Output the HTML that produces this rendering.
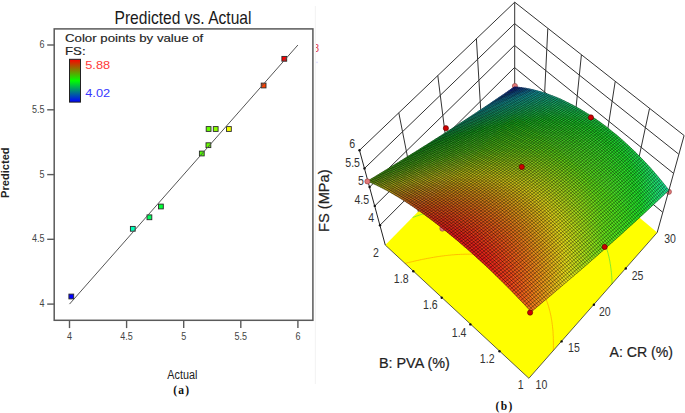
<!DOCTYPE html>
<html><head><meta charset="utf-8"><style>html,body{margin:0;padding:0;background:#fff;width:685px;height:413px;overflow:hidden;position:relative}</style></head>
<body>
<svg width="685" height="413" viewBox="0 0 685 413" style="position:absolute;left:0;top:0">
<text x="183" y="24" font-family="'Liberation Sans', sans-serif" font-size="18.5" text-anchor="middle" fill="#1a1a1a" textLength="137" lengthAdjust="spacingAndGlyphs">Predicted vs. Actual</text>
<rect x="54.2" y="28.9" width="258.7" height="291.4" fill="none" stroke="#5a5a5a" stroke-width="1.5"/>
<line x1="47.2" y1="304.1" x2="54.2" y2="304.1" stroke="#5a5a5a" stroke-width="1.4"/>
<text x="44.6" y="307.0" font-family="'Liberation Sans', sans-serif" font-size="10" text-anchor="end" fill="#444" textLength="5.0" lengthAdjust="spacingAndGlyphs">4</text>
<line x1="69.5" y1="320.2" x2="69.5" y2="328.1" stroke="#5a5a5a" stroke-width="1.4"/>
<text x="69.5" y="340" font-family="'Liberation Sans', sans-serif" font-size="10" text-anchor="middle" fill="#444" textLength="5.0" lengthAdjust="spacingAndGlyphs">4</text>
<line x1="47.2" y1="239.3" x2="54.2" y2="239.3" stroke="#5a5a5a" stroke-width="1.4"/>
<text x="44.6" y="242.2" font-family="'Liberation Sans', sans-serif" font-size="10" text-anchor="end" fill="#444" textLength="12.5" lengthAdjust="spacingAndGlyphs">4.5</text>
<line x1="126.6" y1="320.2" x2="126.6" y2="328.1" stroke="#5a5a5a" stroke-width="1.4"/>
<text x="126.6" y="340" font-family="'Liberation Sans', sans-serif" font-size="10" text-anchor="middle" fill="#444" textLength="12.5" lengthAdjust="spacingAndGlyphs">4.5</text>
<line x1="47.2" y1="174.6" x2="54.2" y2="174.6" stroke="#5a5a5a" stroke-width="1.4"/>
<text x="44.6" y="177.5" font-family="'Liberation Sans', sans-serif" font-size="10" text-anchor="end" fill="#444" textLength="5.0" lengthAdjust="spacingAndGlyphs">5</text>
<line x1="183.7" y1="320.2" x2="183.7" y2="328.1" stroke="#5a5a5a" stroke-width="1.4"/>
<text x="183.7" y="340" font-family="'Liberation Sans', sans-serif" font-size="10" text-anchor="middle" fill="#444" textLength="5.0" lengthAdjust="spacingAndGlyphs">5</text>
<line x1="47.2" y1="109.8" x2="54.2" y2="109.8" stroke="#5a5a5a" stroke-width="1.4"/>
<text x="44.6" y="112.7" font-family="'Liberation Sans', sans-serif" font-size="10" text-anchor="end" fill="#444" textLength="12.5" lengthAdjust="spacingAndGlyphs">5.5</text>
<line x1="240.8" y1="320.2" x2="240.8" y2="328.1" stroke="#5a5a5a" stroke-width="1.4"/>
<text x="240.8" y="340" font-family="'Liberation Sans', sans-serif" font-size="10" text-anchor="middle" fill="#444" textLength="12.5" lengthAdjust="spacingAndGlyphs">5.5</text>
<line x1="47.2" y1="45.0" x2="54.2" y2="45.0" stroke="#5a5a5a" stroke-width="1.4"/>
<text x="44.6" y="47.9" font-family="'Liberation Sans', sans-serif" font-size="10" text-anchor="end" fill="#444" textLength="5.0" lengthAdjust="spacingAndGlyphs">6</text>
<line x1="297.9" y1="320.2" x2="297.9" y2="328.1" stroke="#5a5a5a" stroke-width="1.4"/>
<text x="297.9" y="340" font-family="'Liberation Sans', sans-serif" font-size="10" text-anchor="middle" fill="#444" textLength="5.0" lengthAdjust="spacingAndGlyphs">6</text>
<text x="65" y="42.2" font-family="'Liberation Sans', sans-serif" font-size="11.3" fill="#222" stroke="#222" stroke-width="0.15" textLength="138.2" lengthAdjust="spacingAndGlyphs">Color points by value of</text>
<text x="65" y="55.4" font-family="'Liberation Sans', sans-serif" font-size="11.3" fill="#222" stroke="#222" stroke-width="0.15" textLength="20.6" lengthAdjust="spacingAndGlyphs">FS:</text>
<defs><linearGradient id="lg" x1="0" y1="0" x2="0" y2="1"><stop offset="0" stop-color="#ff0000"/><stop offset="0.5" stop-color="#00ff00"/><stop offset="1" stop-color="#0000ff"/></linearGradient></defs>
<rect x="69.5" y="59.3" width="11" height="42.8" fill="url(#lg)" stroke="#222" stroke-width="1"/>
<text x="85.2" y="69.2" font-family="'Liberation Sans', sans-serif" font-size="11" fill="#ff3838" textLength="25.0" lengthAdjust="spacingAndGlyphs">5.88</text>
<text x="85.2" y="96.7" font-family="'Liberation Sans', sans-serif" font-size="11" fill="#3838ff" textLength="25.0" lengthAdjust="spacingAndGlyphs">4.02</text>
<rect x="68.9" y="294.1" width="4.8" height="4.8" fill="#0000ff" stroke="#2a2a2a" stroke-width="0.9"/>
<rect x="130.4" y="226.4" width="4.8" height="4.8" fill="#00ffb8" stroke="#2a2a2a" stroke-width="0.9"/>
<rect x="147.0" y="214.9" width="4.8" height="4.8" fill="#00ff5e" stroke="#2a2a2a" stroke-width="0.9"/>
<rect x="158.5" y="204.1" width="4.8" height="4.8" fill="#00ff35" stroke="#2a2a2a" stroke-width="0.9"/>
<rect x="199.4" y="151.1" width="4.8" height="4.8" fill="#4fff00" stroke="#2a2a2a" stroke-width="0.9"/>
<rect x="206.0" y="142.8" width="4.8" height="4.8" fill="#68ff00" stroke="#2a2a2a" stroke-width="0.9"/>
<rect x="206.2" y="126.6" width="4.8" height="4.8" fill="#68ff00" stroke="#2a2a2a" stroke-width="0.9"/>
<rect x="213.3" y="126.6" width="4.8" height="4.8" fill="#8cff00" stroke="#2a2a2a" stroke-width="0.9"/>
<rect x="226.5" y="126.6" width="4.8" height="4.8" fill="#efff00" stroke="#2a2a2a" stroke-width="0.9"/>
<rect x="261.2" y="83.1" width="4.8" height="4.8" fill="#ff4100" stroke="#2a2a2a" stroke-width="0.9"/>
<rect x="281.9" y="56.4" width="4.8" height="4.8" fill="#ff0000" stroke="#2a2a2a" stroke-width="0.9"/>
<line x1="69.5" y1="304.1" x2="297.9" y2="45.0" stroke="#555" stroke-width="1"/>
<text transform="translate(9.3,172.7) rotate(-90)" font-family="'Liberation Sans', sans-serif" font-size="10.5" font-weight="bold" text-anchor="middle" fill="#222" textLength="50.6" lengthAdjust="spacingAndGlyphs">Predicted</text>
<text x="182.3" y="379.4" font-family="'Liberation Sans', sans-serif" font-size="12" text-anchor="middle" fill="#222" textLength="30" lengthAdjust="spacingAndGlyphs">Actual</text>
<text x="181.2" y="394" font-family="'Liberation Serif', serif" font-size="11.5" font-weight="bold" text-anchor="middle" fill="#111" textLength="16" lengthAdjust="spacing">(a)</text>
<line x1="315.3" y1="6" x2="315.3" y2="384" stroke="#f2f2f2" stroke-width="1"/>
<clipPath id="cp8"><rect x="316" y="40" width="8" height="16"/></clipPath>
<text x="313.6" y="51.8" font-family="'Liberation Sans', sans-serif" font-size="10" fill="#e03040" clip-path="url(#cp8)">8</text>
<circle cx="317" cy="62.4" r="0.8" fill="#d8d8ff"/>
<polygon points="528.9,378.3 385.3,245.1 514.7,113.3 657.2,232.5" fill="#ffff00"/>
<path d="M406.8 263L405.4 263.3M405.4 263.3L404.9 263.5M408.6 262.5L408.4 262.6M408.4 262.6L406.8 263M410.4 262.1L408.6 262.5M412.3 261.7L411.3 261.9M411.3 261.9L410.4 262.1M414.1 261.2L412.3 261.7M416 260.8L414.2 261.2M414.2 261.2L414.1 261.2M417.9 260.4L417 260.5M417 260.5L416 260.8M419.8 260L417.9 260.4M421.6 259.6L419.9 259.9M419.9 259.9L419.8 260M423.6 259.2L422.7 259.3M422.7 259.3L421.6 259.6M425.5 258.8L425.4 258.8M425.4 258.8L423.6 259.2M427.4 258.4L425.5 258.8M429.3 258.1L428.1 258.3M428.1 258.3L427.4 258.4M431.3 257.7L430.8 257.8M430.8 257.8L429.3 258.1M433.3 257.4L431.3 257.7M435.3 257L433.5 257.3M433.5 257.3L433.3 257.4M437.2 256.7L436.1 256.9M436.1 256.9L435.3 257M439.3 256.4L438.7 256.5M438.7 256.5L437.2 256.7M441.3 256.1L441.3 256.1M441.3 256.1L439.3 256.4M443.3 255.9L441.3 256.1M445.4 255.6L443.8 255.8M443.8 255.8L443.3 255.9M447.5 255.4L446.3 255.5M446.3 255.5L445.4 255.6M553.3 350.7L553.4 349.5M449.6 255.2L448.8 255.2M448.8 255.2L447.5 255.4M553.4 348.2L553.4 349.5M553.4 348.2L553.4 347.3M451.7 254.9L451.2 255M451.2 255L449.6 255.2M553.4 345.6L553.4 347.3M553.4 345.6L553.4 345.1M453.9 254.8L453.6 254.8M453.6 254.8L451.7 254.9M553.4 343.1L553.4 345.1M553.4 343.1L553.4 342.9M456 254.6L456 254.6M456 254.6L453.9 254.8M553.4 340.7L553.4 342.9M553.4 340.7L553.4 340.7M458.2 254.5L456 254.6M553.3 338.4L553.4 340.7M460.4 254.4L458.3 254.5M458.3 254.5L458.2 254.5M553.3 338.3L553.3 338.4M553.3 338.3L553.3 336.1M462.7 254.3L460.6 254.3M460.6 254.3L460.4 254.4M553.2 335.9L553.3 336.1M553.2 335.9L553.1 333.8M465 254.2L462.9 254.3M462.9 254.3L462.7 254.3M553.1 333.5L553.1 333.8M553.1 333.5L553 331.5M467.3 254.2L465.2 254.2M465.2 254.2L465 254.2M553 331.2L553 331.5M553 331.2L552.8 329.1M469.7 254.2L469.6 254.2M469.6 254.2L467.4 254.2M467.4 254.2L467.3 254.2M552.8 329L552.8 329.1M552.8 329L552.5 326.8M552.5 326.8L552.5 326.7M472.1 254.2L471.8 254.2M471.8 254.2L469.7 254.2M552.3 324.6L552.5 326.7M552.3 324.6L552.2 324.3M474.5 254.3L473.9 254.3M473.9 254.3L472.1 254.2M552 322.4L552.2 324.3M552 322.4L551.9 321.8M477 254.4L476 254.4M476 254.4L474.5 254.3M551.7 320.3L551.9 321.8M551.7 320.3L551.5 319.2M479.6 254.6L478.1 254.5M478.1 254.5L477 254.4M551.3 318.3L551.5 319.2M551.3 318.3L551 316.6M482.2 254.8L482.2 254.8M482.2 254.8L480.1 254.6M480.1 254.6L479.6 254.6M551 316.2L551 316.6M551 316.2L550.5 314.2M550.5 314.2L550.5 314M484.9 255.1L484.1 255M484.1 255L482.2 254.8M550.1 312.3L550.5 314M550.1 312.3L549.9 311.3M487.7 255.5L486.1 255.3M486.1 255.3L484.9 255.1M549.6 310.3L549.9 311.3M549.6 310.3L549.1 308.4M549.1 308.4L549.1 308.4M490.6 256L490 255.9M490 255.9L488 255.6M488 255.6L487.7 255.5M548.6 306.6L549.1 308.4M548.6 306.6L548.3 305.5M493.6 256.5L491.8 256.2M491.8 256.2L490.6 256M548 304.8L548.3 305.5M548 304.8L547.5 303M547.5 303L547.3 302.4M496.7 257.2L495.5 257M495.5 257L493.7 256.6M493.7 256.6L493.6 256.5M546.8 301.2L547.3 302.4M546.8 301.2L546.2 299.5M546.2 299.5L546.1 299.2M500.1 258.1L499.1 257.8M499.1 257.8L497.3 257.4M497.3 257.4L496.7 257.2M545.5 297.8L546.1 299.2M545.5 297.8L544.8 296.2M544.8 296.2L544.6 295.8M503.7 259.2L502.5 258.8M502.5 258.8L500.8 258.3M500.8 258.3L500.1 258.1M544.1 294.6L544.6 295.8M544.1 294.6L543.3 293M543.3 293L542.8 292M507.7 260.6L507.5 260.5M507.5 260.5L505.8 259.9M505.8 259.9L504.2 259.4M504.2 259.4L503.7 259.2M542.5 291.5L542.8 292M542.5 291.5L541.7 289.9M541.7 289.9L540.9 288.5M540.9 288.5L540.4 287.7M512.2 262.6L512.2 262.5M512.2 262.5L510.6 261.8M510.6 261.8L509.1 261.2M509.1 261.2L507.7 260.6M540 287L540.4 287.7M540 287L539.1 285.6M539.1 285.6L538.2 284.2M538.2 284.2L537.2 282.9M537.2 282.9L536.8 282.3M518 265.6L516.6 264.8M516.6 264.8L515.2 264M515.2 264L513.7 263.3M513.7 263.3L512.2 262.6M536.2 281.6L536.8 282.3M536.2 281.6L535.2 280.3M535.2 280.3L534.2 279M534.2 279L533.1 277.8M533.1 277.8L532 276.6M532 276.6L530.9 275.5M530.9 275.5L529.7 274.3M529.7 274.3L528.5 273.2M528.5 273.2L527.3 272.2M527.3 272.2L526.1 271.2M526.1 271.2L524.8 270.2M524.8 270.2L523.5 269.2M523.5 269.2L522.2 268.2M522.2 268.2L520.8 267.3M520.8 267.3L519.5 266.5M519.5 266.5L518.1 265.6M518.1 265.6L518 265.6" stroke="#ff9a00" stroke-width="0.8" fill="none" opacity="0.8"/>
<path d="M412.9 217.3L412.6 217.4M414.6 216.8L412.9 217.3M416.2 216.2L416 216.3M416 216.3L414.6 216.8M417.9 215.6L416.2 216.2M419.6 215L419.3 215.1M419.3 215.1L417.9 215.6M421.3 214.5L419.6 215M423 213.9L422.6 214M422.6 214L421.3 214.5M424.7 213.3L423 213.9M426.4 212.8L425.8 213M425.8 213L424.7 213.3M428.1 212.2L426.4 212.8M429.8 211.7L429 211.9M429 211.9L428.1 212.2M431.5 211.1L429.8 211.7M433.2 210.6L432.2 210.9M432.2 210.9L431.5 211.1M435 210.1L433.2 210.6M436.7 209.5L435.3 210M435.3 210L435 210.1M438.4 209L438.4 209M438.4 209L436.7 209.5M440.2 208.5L438.4 209M441.9 208L441.5 208.1M441.5 208.1L440.2 208.5M443.7 207.5L441.9 208M445.5 207L444.6 207.2M444.6 207.2L443.7 207.5M447.2 206.5L445.5 207M449 206L447.6 206.4M447.6 206.4L447.2 206.5M450.8 205.5L450.5 205.6M450.5 205.6L449 206M452.6 205L450.8 205.5M454.4 204.5L453.5 204.8M453.5 204.8L452.6 205M456.2 204.1L454.4 204.5M458 203.6L456.4 204M456.4 204L456.2 204.1M459.8 203.2L459.3 203.3M459.3 203.3L458 203.6M461.6 202.7L459.8 203.2M463.5 202.3L462.1 202.6M462.1 202.6L461.6 202.7M465.3 201.8L465 201.9M465 201.9L463.5 202.3M467.2 201.4L465.3 201.8M469 201L467.7 201.3M467.7 201.3L467.2 201.4M470.9 200.6L470.5 200.7M470.5 200.7L469 201M472.8 200.2L470.9 200.6M474.7 199.8L473.2 200.1M473.2 200.1L472.8 200.2M476.6 199.4L475.9 199.5M475.9 199.5L474.7 199.8M478.5 199L476.6 199.4M480.4 198.7L478.6 199M478.6 199L478.5 199M482.4 198.3L481.2 198.5M481.2 198.5L480.4 198.7M484.3 198L483.9 198M483.9 198L482.4 198.3M486.3 197.6L484.3 198M488.3 197.3L486.4 197.6M486.4 197.6L486.3 197.6M490.3 197L489 197.2M489 197.2L488.3 197.3M492.3 196.7L491.5 196.8M491.5 196.8L490.3 197M494.3 196.4L494 196.4M494 196.4L492.3 196.7M496.4 196.1L494.3 196.4M498.4 195.9L496.5 196.1M496.5 196.1L496.4 196.1M500.5 195.6L498.9 195.8M498.9 195.8L498.4 195.9M502.6 195.4L501.3 195.6M501.3 195.6L500.5 195.6M504.7 195.2L503.7 195.3M503.7 195.3L502.6 195.4M506.9 195L506.1 195.1M506.1 195.1L504.7 195.2M509 194.9L508.4 194.9M508.4 194.9L506.9 195M612.1 284.1L612 282.1M511.2 194.7L510.7 194.7M510.7 194.7L509 194.9M612 281.7L612 282.1M612 281.7L611.9 279.9M513.5 194.6L513 194.6M513 194.6L511.2 194.7M611.9 279.4L611.9 279.9M611.9 279.4L611.8 277.7M515.7 194.5L515.2 194.5M515.2 194.5L513.5 194.6M611.8 277.1L611.8 277.7M611.8 277.1L611.6 275.4M518 194.4L517.4 194.4M517.4 194.4L515.7 194.5M611.6 274.9L611.6 275.4M611.6 274.9L611.4 273.1M520.3 194.4L519.6 194.4M519.6 194.4L518 194.4M611.4 272.6L611.4 273.1M611.4 272.6L611.2 270.8M522.7 194.4L521.8 194.4M521.8 194.4L520.3 194.4M611.2 270.5L611.2 270.8M611.2 270.5L610.9 268.4M525 194.4L523.9 194.4M523.9 194.4L522.7 194.4M610.9 268.3L610.9 268.4M610.9 268.3L610.6 266.2M610.6 266.2L610.6 266M527.5 194.4L526 194.4M526 194.4L525 194.4M610.3 264.1L610.6 266M610.3 264.1L610.2 263.6M530 194.5L528.1 194.4M528.1 194.4L527.5 194.4M610 262.1L610.2 263.6M610 262.1L609.8 261.1M532.5 194.7L532.2 194.6M532.2 194.6L530.2 194.5M530.2 194.5L530 194.5M609.6 260.1L609.8 261.1M609.6 260.1L609.3 258.6M535.1 194.9L534.2 194.8M534.2 194.8L532.5 194.7M609.2 258.1L609.3 258.6M609.2 258.1L608.8 256.2M608.8 256.2L608.7 256M537.8 195.1L536.2 195M536.2 195L535.1 194.9M608.3 254.3L608.7 256M608.3 254.3L608.1 253.4M540.5 195.4L540.1 195.4M540.1 195.4L538.1 195.1M538.1 195.1L537.8 195.1M607.8 252.4L608.1 253.4M607.8 252.4L607.3 250.7M543.4 195.8L542 195.6M542 195.6L540.5 195.4M607.3 250.6L607.3 250.7M607.3 250.6L606.8 248.8M606.8 248.8L606.5 247.8M546.3 196.3L545.7 196.2M545.7 196.2L543.9 195.9M543.9 195.9L543.4 195.8M606.2 247L606.5 247.8M606.2 247L605.6 245.3M605.6 245.3L605.5 244.9M549.4 196.9L549.3 196.9M549.3 196.9L547.5 196.5M547.5 196.5L546.3 196.3M605 243.5L605.5 244.9M605 243.5L604.4 241.9M604.4 241.9L604.4 241.9M552.6 197.6L551.1 197.3M551.1 197.3L549.4 196.9M603.7 240.2L604.4 241.9M603.7 240.2L603 238.6M556.1 198.5L554.6 198.1M554.6 198.1L552.9 197.7M552.9 197.7L552.6 197.6M603 238.6L603 238.6M603 238.6L602.3 237M602.3 237L601.6 235.5M601.6 235.5L601.4 235.2M559.8 199.7L559.6 199.6M559.6 199.6L558 199.1M558 199.1L556.3 198.6M556.3 198.6L556.1 198.5M600.8 234L601.4 235.2M600.8 234L600 232.5M600 232.5L599.4 231.4M563.9 201.1L562.8 200.7M562.8 200.7L561.2 200.1M561.2 200.1L559.8 199.7M599.2 231L599.4 231.4M599.2 231L598.3 229.6M598.3 229.6L597.5 228.2M597.5 228.2L596.7 227M568.7 203.2L567.5 202.6M567.5 202.6L565.9 201.9M565.9 201.9L564.4 201.3M564.4 201.3L563.9 201.1M596.6 226.8L596.7 227M596.6 226.8L595.6 225.5M595.6 225.5L594.7 224.2M594.7 224.2L593.7 222.9M593.7 222.9L592.7 221.6M592.7 221.6L592.5 221.4M575 206.5L574.7 206.3M574.7 206.3L573.3 205.5M573.3 205.5L571.9 204.7M571.9 204.7L570.4 204M570.4 204L569 203.3M569 203.3L568.7 203.2M591.7 220.4L592.5 221.4M591.7 220.4L590.6 219.2M590.6 219.2L589.6 218M589.6 218L588.5 216.9M588.5 216.9L587.3 215.8M587.3 215.8L586.2 214.7M586.2 214.7L585 213.7M585 213.7L583.8 212.7M583.8 212.7L582.6 211.7M582.6 211.7L581.3 210.7M581.3 210.7L580.1 209.8M580.1 209.8L578.8 208.9M578.8 208.9L577.4 208M577.4 208L576.1 207.1M576.1 207.1L575 206.5" stroke="#40e040" stroke-width="0.8" fill="none" opacity="0.8"/>
<path d="M470.7 159.4L469.1 159.9M472.4 158.8L472.3 158.9M472.3 158.9L470.7 159.4M474.1 158.3L472.4 158.8M475.8 157.7L475.4 157.9M475.4 157.9L474.1 158.3M477.5 157.2L475.8 157.7M479.2 156.7L478.5 156.9M478.5 156.9L477.5 157.2M480.9 156.1L479.2 156.7M482.7 155.6L481.6 155.9M481.6 155.9L480.9 156.1M484.4 155.1L482.7 155.6M486.1 154.6L484.6 155M484.6 155L484.4 155.1M487.9 154.1L487.6 154.1M487.6 154.1L486.1 154.6M489.6 153.6L487.9 154.1M491.4 153.1L490.6 153.3M490.6 153.3L489.6 153.6M493.1 152.6L491.4 153.1M494.9 152.1L493.5 152.5M493.5 152.5L493.1 152.6M496.7 151.6L496.4 151.7M496.4 151.7L494.9 152.1M498.4 151.1L496.7 151.6M500.2 150.6L499.3 150.9M499.3 150.9L498.4 151.1M502 150.2L500.2 150.6M503.8 149.7L502.1 150.1M502.1 150.1L502 150.2M505.6 149.2L505 149.4M505 149.4L503.8 149.7M507.4 148.8L505.6 149.2M509.3 148.3L507.8 148.7M507.8 148.7L507.4 148.8M511.1 147.9L510.5 148M510.5 148L509.3 148.3M512.9 147.5L511.1 147.9M514.8 147L513.3 147.4M513.3 147.4L512.9 147.5M516.6 146.6L516 146.8M516 146.8L514.8 147M518.5 146.2L516.6 146.6M520.4 145.8L518.6 146.2M518.6 146.2L518.5 146.2M522.3 145.4L521.3 145.6M521.3 145.6L520.4 145.8M524.2 145L523.9 145.1M523.9 145.1L522.3 145.4M526.1 144.7L524.2 145M528 144.3L526.5 144.6M526.5 144.6L526.1 144.7M529.9 143.9L529.1 144.1M529.1 144.1L528 144.3M531.9 143.6L531.7 143.6M531.7 143.6L529.9 143.9M533.8 143.3L531.9 143.6M535.8 142.9L534.2 143.2M534.2 143.2L533.8 143.3M537.8 142.6L536.7 142.8M536.7 142.8L535.8 142.9M539.8 142.3L539.1 142.4M539.1 142.4L537.8 142.6M541.8 142L541.6 142.1M541.6 142.1L539.8 142.3M543.8 141.8L541.8 142M545.9 141.5L544 141.7M544 141.7L543.8 141.8M548 141.2L546.4 141.4M546.4 141.4L545.9 141.5" stroke="#00c0c0" stroke-width="0.8" fill="none" opacity="0.8"/>
<polyline points="380,225.2 514.6,90.1 662.6,212.2" stroke="#333" stroke-width="1" fill="none"/>
<polyline points="374.8,205.9 514.5,67.5 667.9,192.4" stroke="#333" stroke-width="1" fill="none"/>
<polyline points="369.6,187 514.5,45.4 673.2,173.1" stroke="#333" stroke-width="1" fill="none"/>
<polyline points="364.5,168.4 514.6,23.6 678.6,154.1" stroke="#333" stroke-width="1" fill="none"/>
<polyline points="359.5,150.3 514.7,2.2 684.1,135.5" stroke="#333" stroke-width="1" fill="none"/>
<line x1="418.3" y1="211.7" x2="398.8" y2="112.8" stroke="#333" stroke-width="1" fill="none"/>
<line x1="450.8" y1="178.6" x2="437.8" y2="75.6" stroke="#333" stroke-width="1" fill="none"/>
<line x1="482.9" y1="145.8" x2="476.4" y2="38.7" stroke="#333" stroke-width="1" fill="none"/>
<line x1="514.7" y1="113.3" x2="514.7" y2="2.2" stroke="#333" stroke-width="1" fill="none"/>
<line x1="628.1" y1="208.2" x2="649.5" y2="108.5" stroke="#333" stroke-width="1" fill="none"/>
<line x1="599.2" y1="184.1" x2="615.2" y2="81.6" stroke="#333" stroke-width="1" fill="none"/>
<line x1="570.7" y1="160.3" x2="581.4" y2="54.9" stroke="#333" stroke-width="1" fill="none"/>
<line x1="542.5" y1="136.7" x2="547.8" y2="28.5" stroke="#333" stroke-width="1" fill="none"/>
<circle cx="514.9" cy="86.0" r="2.6" fill="#e07878" stroke="#904040" stroke-width="0.6"/>
<circle cx="668.9" cy="191.8" r="2.6" fill="#e07878" stroke="#904040" stroke-width="0.6"/>
<circle cx="442.4" cy="228.6" r="2.6" fill="#e07878" stroke="#904040" stroke-width="0.6"/>
<polygon points="515,89.4 518.1,87.2 514.4,86.9 511.3,89" fill="#1426ab" stroke="#1426ab" stroke-width="0.5"/>
<polygon points="511.9,91.6 515,89.4 511.3,89 508.2,91.2" fill="#1433ab" stroke="#1433ab" stroke-width="0.5"/>
<polygon points="518.7,89.8 521.9,87.7 518.1,87.2 515,89.4" fill="#143dad" stroke="#143dad" stroke-width="0.5"/>
<polygon points="515.6,92.1 518.7,89.8 515,89.4 511.9,91.6" fill="#144bad" stroke="#144bad" stroke-width="0.5"/>
<polygon points="508.7,93.7 511.9,91.6 508.2,91.2 505,93.4" fill="#1440ab" stroke="#1440ab" stroke-width="0.5"/>
<polygon points="522.5,90.5 525.6,88.2 521.9,87.7 518.7,89.8" fill="#1454ae" stroke="#1454ae" stroke-width="0.5"/>
<polygon points="512.4,94.3 515.6,92.1 511.9,91.6 508.7,93.7" fill="#1458ad" stroke="#1458ad" stroke-width="0.5"/>
<polygon points="526.3,91.2 529.4,88.9 525.6,88.2 522.5,90.5" fill="#156bb0" stroke="#156bb0" stroke-width="0.5"/>
<polygon points="505.5,96 508.7,93.7 505,93.4 501.9,95.5" fill="#144eab" stroke="#144eab" stroke-width="0.5"/>
<polygon points="519.3,92.7 522.5,90.5 518.7,89.8 515.6,92.1" fill="#1462ae" stroke="#1462ae" stroke-width="0.5"/>
<polygon points="502.3,98.2 505.5,96 501.9,95.5 498.6,97.7" fill="#145bab" stroke="#145bab" stroke-width="0.5"/>
<polygon points="509.2,96.5 512.4,94.3 508.7,93.7 505.5,96" fill="#1466ad" stroke="#1466ad" stroke-width="0.5"/>
<polygon points="516.1,94.9 519.3,92.7 515.6,92.1 512.4,94.3" fill="#1470ae" stroke="#1470ae" stroke-width="0.5"/>
<polygon points="523.1,93.4 526.3,91.2 522.5,90.5 519.3,92.7" fill="#1579b0" stroke="#1579b0" stroke-width="0.5"/>
<polygon points="530.1,92.1 533.2,89.8 529.4,88.9 526.3,91.2" fill="#1581b2" stroke="#1581b2" stroke-width="0.5"/>
<polygon points="499,100.4 502.3,98.2 498.6,97.7 495.4,99.9" fill="#1468ab" stroke="#1468ab" stroke-width="0.5"/>
<polygon points="506,98.7 509.2,96.5 505.5,96 502.3,98.2" fill="#1473ad" stroke="#1473ad" stroke-width="0.5"/>
<polygon points="512.9,97.2 516.1,94.9 512.4,94.3 509.2,96.5" fill="#147daf" stroke="#147daf" stroke-width="0.5"/>
<polygon points="519.9,95.7 523.1,93.4 519.3,92.7 516.1,94.9" fill="#1587b0" stroke="#1587b0" stroke-width="0.5"/>
<polygon points="526.9,94.3 530.1,92.1 526.3,91.2 523.1,93.4" fill="#158fb2" stroke="#158fb2" stroke-width="0.5"/>
<polygon points="533.9,93 537.1,90.8 533.2,89.8 530.1,92.1" fill="#1597b4" stroke="#1597b4" stroke-width="0.5"/>
<polygon points="495.7,102.6 499,100.4 495.4,99.9 492.1,102.1" fill="#1475ab" stroke="#1475ab" stroke-width="0.5"/>
<polygon points="502.7,101 506,98.7 502.3,98.2 499,100.4" fill="#1480ad" stroke="#1480ad" stroke-width="0.5"/>
<polygon points="516.7,98 519.9,95.7 516.1,94.9 512.9,97.2" fill="#1594b0" stroke="#1594b0" stroke-width="0.5"/>
<polygon points="530.7,95.3 533.9,93 530.1,92.1 526.9,94.3" fill="#15a5b4" stroke="#15a5b4" stroke-width="0.5"/>
<polygon points="537.8,94.2 540.9,91.8 537.1,90.8 533.9,93" fill="#15acb6" stroke="#15acb6" stroke-width="0.5"/>
<polygon points="509.7,99.4 512.9,97.2 509.2,96.5 506,98.7" fill="#148baf" stroke="#148baf" stroke-width="0.5"/>
<polygon points="523.7,96.6 526.9,94.3 523.1,93.4 519.9,95.7" fill="#159db2" stroke="#159db2" stroke-width="0.5"/>
<polygon points="499.4,103.3 502.7,101 499,100.4 495.7,102.6" fill="#148dad" stroke="#148dad" stroke-width="0.5"/>
<polygon points="534.6,96.5 537.8,94.2 533.9,93 530.7,95.3" fill="#15aead" stroke="#15aead" stroke-width="0.5"/>
<polygon points="492.4,104.9 495.7,102.6 492.1,102.1 488.8,104.4" fill="#1482ab" stroke="#1482ab" stroke-width="0.5"/>
<polygon points="506.4,101.7 509.7,99.4 506,98.7 502.7,101" fill="#1498af" stroke="#1498af" stroke-width="0.5"/>
<polygon points="513.4,100.3 516.7,98 512.9,97.2 509.7,99.4" fill="#15a2b0" stroke="#15a2b0" stroke-width="0.5"/>
<polygon points="527.5,97.7 530.7,95.3 526.9,94.3 523.7,96.6" fill="#15acaf" stroke="#15acaf" stroke-width="0.5"/>
<polygon points="541.6,95.4 544.8,93.1 540.9,91.8 537.8,94.2" fill="#15afab" stroke="#15afab" stroke-width="0.5"/>
<polygon points="520.5,98.9 523.7,96.6 519.9,95.7 516.7,98" fill="#15aab2" stroke="#15aab2" stroke-width="0.5"/>
<polygon points="496.1,105.5 499.4,103.3 495.7,102.6 492.4,104.9" fill="#149aad" stroke="#149aad" stroke-width="0.5"/>
<polygon points="510.1,102.6 513.4,100.3 509.7,99.4 506.4,101.7" fill="#15a9ab" stroke="#15a9ab" stroke-width="0.5"/>
<polygon points="531.4,98.8 534.6,96.5 530.7,95.3 527.5,97.7" fill="#15ada2" stroke="#15ada2" stroke-width="0.5"/>
<polygon points="545.5,96.7 548.7,94.4 544.8,93.1 541.6,95.4" fill="#16b19f" stroke="#16b19f" stroke-width="0.5"/>
<polygon points="489.1,107.2 492.4,104.9 488.8,104.4 485.5,106.6" fill="#148fab" stroke="#148fab" stroke-width="0.5"/>
<polygon points="503.1,104 506.4,101.7 502.7,101 499.4,103.3" fill="#14a5af" stroke="#14a5af" stroke-width="0.5"/>
<polygon points="517.2,101.2 520.5,98.9 516.7,98 513.4,100.3" fill="#15aaa8" stroke="#15aaa8" stroke-width="0.5"/>
<polygon points="524.3,100 527.5,97.7 523.7,96.6 520.5,98.9" fill="#15aca5" stroke="#15aca5" stroke-width="0.5"/>
<polygon points="538.4,97.7 541.6,95.4 537.8,94.2 534.6,96.5" fill="#15afa0" stroke="#15afa0" stroke-width="0.5"/>
<polygon points="485.7,109.4 489.1,107.2 485.5,106.6 482.1,108.9" fill="#149cab" stroke="#149cab" stroke-width="0.5"/>
<polygon points="492.7,107.8 496.1,105.5 492.4,104.9 489.1,107.2" fill="#14a5ab" stroke="#14a5ab" stroke-width="0.5"/>
<polygon points="499.7,106.3 503.1,104 499.4,103.3 496.1,105.5" fill="#14a7a6" stroke="#14a7a6" stroke-width="0.5"/>
<polygon points="506.8,104.9 510.1,102.6 506.4,101.7 503.1,104" fill="#15a8a1" stroke="#15a8a1" stroke-width="0.5"/>
<polygon points="513.9,103.6 517.2,101.2 513.4,100.3 510.1,102.6" fill="#15aa9d" stroke="#15aa9d" stroke-width="0.5"/>
<polygon points="521,102.3 524.3,100 520.5,98.9 517.2,101.2" fill="#15ab9a" stroke="#15ab9a" stroke-width="0.5"/>
<polygon points="528.1,101.2 531.4,98.8 527.5,97.7 524.3,100" fill="#15ad98" stroke="#15ad98" stroke-width="0.5"/>
<polygon points="535.2,100.1 538.4,97.7 534.6,96.5 531.4,98.8" fill="#15af96" stroke="#15af96" stroke-width="0.5"/>
<polygon points="542.3,99.1 545.5,96.7 541.6,95.4 538.4,97.7" fill="#16b195" stroke="#16b195" stroke-width="0.5"/>
<polygon points="549.4,98.2 552.6,95.9 548.7,94.4 545.5,96.7" fill="#16b294" stroke="#16b294" stroke-width="0.5"/>
<polygon points="482.3,111.7 485.7,109.4 482.1,108.9 478.7,111.1" fill="#14a3a7" stroke="#14a3a7" stroke-width="0.5"/>
<polygon points="489.3,110.1 492.7,107.8 489.1,107.2 485.7,109.4" fill="#14a5a1" stroke="#14a5a1" stroke-width="0.5"/>
<polygon points="496.4,108.6 499.7,106.3 496.1,105.5 492.7,107.8" fill="#14a69c" stroke="#14a69c" stroke-width="0.5"/>
<polygon points="503.5,107.2 506.8,104.9 503.1,104 499.7,106.3" fill="#15a897" stroke="#15a897" stroke-width="0.5"/>
<polygon points="510.6,105.9 513.9,103.6 510.1,102.6 506.8,104.9" fill="#15aa93" stroke="#15aa93" stroke-width="0.5"/>
<polygon points="517.7,104.7 521,102.3 517.2,101.2 513.9,103.6" fill="#15ab90" stroke="#15ab90" stroke-width="0.5"/>
<polygon points="524.8,103.5 528.1,101.2 524.3,100 521,102.3" fill="#15ad8d" stroke="#15ad8d" stroke-width="0.5"/>
<polygon points="532,102.5 535.2,100.1 531.4,98.8 528.1,101.2" fill="#15af8b" stroke="#15af8b" stroke-width="0.5"/>
<polygon points="539.1,101.5 542.3,99.1 538.4,97.7 535.2,100.1" fill="#16b08a" stroke="#16b08a" stroke-width="0.5"/>
<polygon points="546.2,100.6 549.4,98.2 545.5,96.7 542.3,99.1" fill="#16b289" stroke="#16b289" stroke-width="0.5"/>
<polygon points="553.4,99.8 556.5,97.4 552.6,95.9 549.4,98.2" fill="#16b489" stroke="#16b489" stroke-width="0.5"/>
<polygon points="478.8,114 482.3,111.7 478.7,111.1 475.3,113.4" fill="#14a39d" stroke="#14a39d" stroke-width="0.5"/>
<polygon points="485.9,112.4 489.3,110.1 485.7,109.4 482.3,111.7" fill="#14a497" stroke="#14a497" stroke-width="0.5"/>
<polygon points="500.1,109.6 503.5,107.2 499.7,106.3 496.4,108.6" fill="#15a88d" stroke="#15a88d" stroke-width="0.5"/>
<polygon points="514.4,107 517.7,104.7 513.9,103.6 510.6,105.9" fill="#15ab86" stroke="#15ab86" stroke-width="0.5"/>
<polygon points="521.5,105.9 524.8,103.5 521,102.3 517.7,104.7" fill="#15ad83" stroke="#15ad83" stroke-width="0.5"/>
<polygon points="535.8,103.9 539.1,101.5 535.2,100.1 532,102.5" fill="#16b07f" stroke="#16b07f" stroke-width="0.5"/>
<polygon points="550.1,102.2 553.4,99.8 549.4,98.2 546.2,100.6" fill="#16b37e" stroke="#16b37e" stroke-width="0.5"/>
<polygon points="557.3,101.5 560.5,99.1 556.5,97.4 553.4,99.8" fill="#16b57f" stroke="#16b57f" stroke-width="0.5"/>
<polygon points="493,111 496.4,108.6 492.7,107.8 489.3,110.1" fill="#14a692" stroke="#14a692" stroke-width="0.5"/>
<polygon points="507.2,108.3 510.6,105.9 506.8,104.9 503.5,107.2" fill="#15a989" stroke="#15a989" stroke-width="0.5"/>
<polygon points="528.7,104.8 532,102.5 528.1,101.2 524.8,103.5" fill="#15ae81" stroke="#15ae81" stroke-width="0.5"/>
<polygon points="543,103 546.2,100.6 542.3,99.1 539.1,101.5" fill="#16b27e" stroke="#16b27e" stroke-width="0.5"/>
<polygon points="482.4,114.8 485.9,112.4 482.3,111.7 478.8,114" fill="#14a48e" stroke="#14a48e" stroke-width="0.5"/>
<polygon points="518.2,108.3 521.5,105.9 517.7,104.7 514.4,107" fill="#15ac78" stroke="#15ac78" stroke-width="0.5"/>
<polygon points="554.1,104 557.3,101.5 553.4,99.8 550.1,102.2" fill="#16b574" stroke="#16b574" stroke-width="0.5"/>
<polygon points="475.4,116.3 478.8,114 475.3,113.4 471.8,115.7" fill="#14a394" stroke="#14a394" stroke-width="0.5"/>
<polygon points="489.5,113.3 493,111 489.3,110.1 485.9,112.4" fill="#14a688" stroke="#14a688" stroke-width="0.5"/>
<polygon points="496.7,111.9 500.1,109.6 496.4,108.6 493,111" fill="#15a783" stroke="#15a783" stroke-width="0.5"/>
<polygon points="511,109.4 514.4,107 510.6,105.9 507.2,108.3" fill="#15ab7b" stroke="#15ab7b" stroke-width="0.5"/>
<polygon points="525.4,107.2 528.7,104.8 524.8,103.5 521.5,105.9" fill="#15ae76" stroke="#15ae76" stroke-width="0.5"/>
<polygon points="532.5,106.3 535.8,103.9 532,102.5 528.7,104.8" fill="#16b074" stroke="#16b074" stroke-width="0.5"/>
<polygon points="546.9,104.7 550.1,102.2 546.2,100.6 543,103" fill="#16b373" stroke="#16b373" stroke-width="0.5"/>
<polygon points="561.2,103.4 564.4,100.9 560.5,99.1 557.3,101.5" fill="#17b775" stroke="#17b775" stroke-width="0.5"/>
<polygon points="503.8,110.6 507.2,108.3 503.5,107.2 500.1,109.6" fill="#15a97f" stroke="#15a97f" stroke-width="0.5"/>
<polygon points="539.7,105.4 543,103 539.1,101.5 535.8,103.9" fill="#16b173" stroke="#16b173" stroke-width="0.5"/>
<polygon points="479,117.1 482.4,114.8 478.8,114 475.4,116.3" fill="#14a484" stroke="#14a484" stroke-width="0.5"/>
<polygon points="493.2,114.3 496.7,111.9 493,111 489.5,113.3" fill="#15a779" stroke="#15a779" stroke-width="0.5"/>
<polygon points="514.8,110.7 518.2,108.3 514.4,107 511,109.4" fill="#15ac6e" stroke="#15ac6e" stroke-width="0.5"/>
<polygon points="529.2,108.7 532.5,106.3 528.7,104.8 525.4,107.2" fill="#16af6a" stroke="#16af6a" stroke-width="0.5"/>
<polygon points="550.8,106.4 554.1,104 550.1,102.2 546.9,104.7" fill="#16b569" stroke="#16b569" stroke-width="0.5"/>
<polygon points="565.2,105.3 568.4,102.9 564.4,100.9 561.2,103.4" fill="#17b86c" stroke="#17b86c" stroke-width="0.5"/>
<polygon points="471.9,118.6 475.4,116.3 471.8,115.7 468.3,118" fill="#14a28a" stroke="#14a28a" stroke-width="0.5"/>
<polygon points="486.1,115.6 489.5,113.3 485.9,112.4 482.4,114.8" fill="#14a57e" stroke="#14a57e" stroke-width="0.5"/>
<polygon points="500.4,113 503.8,110.6 500.1,109.6 496.7,111.9" fill="#15a975" stroke="#15a975" stroke-width="0.5"/>
<polygon points="507.6,111.8 511,109.4 507.2,108.3 503.8,110.6" fill="#15aa71" stroke="#15aa71" stroke-width="0.5"/>
<polygon points="522,109.6 525.4,107.2 521.5,105.9 518.2,108.3" fill="#15ae6b" stroke="#15ae6b" stroke-width="0.5"/>
<polygon points="536.4,107.9 539.7,105.4 535.8,103.9 532.5,106.3" fill="#16b169" stroke="#16b169" stroke-width="0.5"/>
<polygon points="543.6,107.1 546.9,104.7 543,103 539.7,105.4" fill="#16b368" stroke="#16b368" stroke-width="0.5"/>
<polygon points="558,105.8 561.2,103.4 557.3,101.5 554.1,104" fill="#17b66a" stroke="#17b66a" stroke-width="0.5"/>
<polygon points="468.3,121 471.9,118.6 468.3,118 464.8,120.3" fill="#14a281" stroke="#14a281" stroke-width="0.5"/>
<polygon points="475.4,119.4 479,117.1 475.4,116.3 471.9,118.6" fill="#14a47a" stroke="#14a47a" stroke-width="0.5"/>
<polygon points="482.6,118 486.1,115.6 482.4,114.8 479,117.1" fill="#14a575" stroke="#14a575" stroke-width="0.5"/>
<polygon points="489.8,116.6 493.2,114.3 489.5,113.3 486.1,115.6" fill="#15a76f" stroke="#15a76f" stroke-width="0.5"/>
<polygon points="497,115.4 500.4,113 496.7,111.9 493.2,114.3" fill="#15a86b" stroke="#15a86b" stroke-width="0.5"/>
<polygon points="504.2,114.2 507.6,111.8 503.8,110.6 500.4,113" fill="#15aa67" stroke="#15aa67" stroke-width="0.5"/>
<polygon points="511.4,113.1 514.8,110.7 511,109.4 507.6,111.8" fill="#15ac64" stroke="#15ac64" stroke-width="0.5"/>
<polygon points="518.6,112.1 522,109.6 518.2,108.3 514.8,110.7" fill="#15ad61" stroke="#15ad61" stroke-width="0.5"/>
<polygon points="525.9,111.1 529.2,108.7 525.4,107.2 522,109.6" fill="#16af5f" stroke="#16af5f" stroke-width="0.5"/>
<polygon points="533.1,110.3 536.4,107.9 532.5,106.3 529.2,108.7" fill="#16b15e" stroke="#16b15e" stroke-width="0.5"/>
<polygon points="540.3,109.5 543.6,107.1 539.7,105.4 536.4,107.9" fill="#16b25d" stroke="#16b25d" stroke-width="0.5"/>
<polygon points="547.6,108.9 550.8,106.4 546.9,104.7 543.6,107.1" fill="#16b45e" stroke="#16b45e" stroke-width="0.5"/>
<polygon points="554.8,108.3 558,105.8 554.1,104 550.8,106.4" fill="#17b65f" stroke="#17b65f" stroke-width="0.5"/>
<polygon points="562,107.8 565.2,105.3 561.2,103.4 558,105.8" fill="#17b861" stroke="#17b861" stroke-width="0.5"/>
<polygon points="569.2,107.4 572.3,104.9 568.4,102.9 565.2,105.3" fill="#17ba64" stroke="#17ba64" stroke-width="0.5"/>
<polygon points="464.8,123.3 468.3,121 464.8,120.3 461.2,122.6" fill="#14a277" stroke="#14a277" stroke-width="0.5"/>
<polygon points="471.9,121.8 475.4,119.4 471.9,118.6 468.3,121" fill="#14a371" stroke="#14a371" stroke-width="0.5"/>
<polygon points="479.1,120.4 482.6,118 479,117.1 475.4,119.4" fill="#14a56b" stroke="#14a56b" stroke-width="0.5"/>
<polygon points="486.3,119 489.8,116.6 486.1,115.6 482.6,118" fill="#15a665" stroke="#15a665" stroke-width="0.5"/>
<polygon points="493.5,117.8 497,115.4 493.2,114.3 489.8,116.6" fill="#15a861" stroke="#15a861" stroke-width="0.5"/>
<polygon points="500.7,116.6 504.2,114.2 500.4,113 497,115.4" fill="#15aa5d" stroke="#15aa5d" stroke-width="0.5"/>
<polygon points="508,115.5 511.4,113.1 507.6,111.8 504.2,114.2" fill="#15ab59" stroke="#15ab59" stroke-width="0.5"/>
<polygon points="515.2,114.5 518.6,112.1 514.8,110.7 511.4,113.1" fill="#15ad56" stroke="#15ad56" stroke-width="0.5"/>
<polygon points="522.5,113.6 525.9,111.1 522,109.6 518.6,112.1" fill="#16af54" stroke="#16af54" stroke-width="0.5"/>
<polygon points="529.8,112.7 533.1,110.3 529.2,108.7 525.9,111.1" fill="#16b053" stroke="#16b053" stroke-width="0.5"/>
<polygon points="537,112 540.3,109.5 536.4,107.9 533.1,110.3" fill="#16b253" stroke="#16b253" stroke-width="0.5"/>
<polygon points="544.3,111.3 547.6,108.9 543.6,107.1 540.3,109.5" fill="#16b453" stroke="#16b453" stroke-width="0.5"/>
<polygon points="551.5,110.8 554.8,108.3 550.8,106.4 547.6,108.9" fill="#17b654" stroke="#17b654" stroke-width="0.5"/>
<polygon points="558.7,110.3 562,107.8 558,105.8 554.8,108.3" fill="#17b756" stroke="#17b756" stroke-width="0.5"/>
<polygon points="566,109.9 569.2,107.4 565.2,105.3 562,107.8" fill="#17b958" stroke="#17b958" stroke-width="0.5"/>
<polygon points="573.1,109.6 576.3,107.1 572.3,104.9 569.2,107.4" fill="#17bb5c" stroke="#17bb5c" stroke-width="0.5"/>
<polygon points="461.2,125.7 464.8,123.3 461.2,122.6 457.7,124.9" fill="#14a26e" stroke="#14a26e" stroke-width="0.5"/>
<polygon points="468.3,124.2 471.9,121.8 468.3,121 464.8,123.3" fill="#14a367" stroke="#14a367" stroke-width="0.5"/>
<polygon points="482.7,121.4 486.3,119 482.6,118 479.1,120.4" fill="#15a65c" stroke="#15a65c" stroke-width="0.5"/>
<polygon points="497.2,119 500.7,116.6 497,115.4 493.5,117.8" fill="#15a953" stroke="#15a953" stroke-width="0.5"/>
<polygon points="504.5,117.9 508,115.5 504.2,114.2 500.7,116.6" fill="#15ab4f" stroke="#15ab4f" stroke-width="0.5"/>
<polygon points="519.1,116 522.5,113.6 518.6,112.1 515.2,114.5" fill="#16ae4a" stroke="#16ae4a" stroke-width="0.5"/>
<polygon points="533.7,114.5 537,112 533.1,110.3 529.8,112.7" fill="#16b248" stroke="#16b248" stroke-width="0.5"/>
<polygon points="540.9,113.8 544.3,111.3 540.3,109.5 537,112" fill="#16b448" stroke="#16b448" stroke-width="0.5"/>
<polygon points="555.5,112.8 558.7,110.3 554.8,108.3 551.5,110.8" fill="#17b74a" stroke="#17b74a" stroke-width="0.5"/>
<polygon points="569.9,112.1 573.1,109.6 569.2,107.4 566,109.9" fill="#17bb50" stroke="#17bb50" stroke-width="0.5"/>
<polygon points="577.1,111.8 580.3,109.3 576.3,107.1 573.1,109.6" fill="#17bd55" stroke="#17bd55" stroke-width="0.5"/>
<polygon points="475.5,122.7 479.1,120.4 475.4,119.4 471.9,121.8" fill="#14a561" stroke="#14a561" stroke-width="0.5"/>
<polygon points="490,120.2 493.5,117.8 489.8,116.6 486.3,119" fill="#15a857" stroke="#15a857" stroke-width="0.5"/>
<polygon points="511.8,116.9 515.2,114.5 511.4,113.1 508,115.5" fill="#15ad4c" stroke="#15ad4c" stroke-width="0.5"/>
<polygon points="526.4,115.2 529.8,112.7 525.9,111.1 522.5,113.6" fill="#16b048" stroke="#16b048" stroke-width="0.5"/>
<polygon points="548.2,113.2 551.5,110.8 547.6,108.9 544.3,111.3" fill="#17b549" stroke="#17b549" stroke-width="0.5"/>
<polygon points="562.7,112.4 566,109.9 562,107.8 558.7,110.3" fill="#17b94d" stroke="#17b94d" stroke-width="0.5"/>
<polygon points="464.7,126.5 468.3,124.2 464.8,123.3 461.2,125.7" fill="#14a35e" stroke="#14a35e" stroke-width="0.5"/>
<polygon points="501,120.4 504.5,117.9 500.7,116.6 497.2,119" fill="#15ab45" stroke="#15ab45" stroke-width="0.5"/>
<polygon points="537.6,116.3 540.9,113.8 537,112 533.7,114.5" fill="#16b33d" stroke="#16b33d" stroke-width="0.5"/>
<polygon points="573.9,114.4 577.1,111.8 573.1,109.6 569.9,112.1" fill="#17bc49" stroke="#17bc49" stroke-width="0.5"/>
<polygon points="457.6,128 461.2,125.7 457.7,124.9 454.1,127.2" fill="#14a164" stroke="#14a164" stroke-width="0.5"/>
<polygon points="471.9,125.1 475.5,122.7 471.9,121.8 468.3,124.2" fill="#14a457" stroke="#14a457" stroke-width="0.5"/>
<polygon points="479.2,123.8 482.7,121.4 479.1,120.4 475.5,122.7" fill="#15a652" stroke="#15a652" stroke-width="0.5"/>
<polygon points="493.7,121.4 497.2,119 493.5,117.8 490,120.2" fill="#15a948" stroke="#15a948" stroke-width="0.5"/>
<polygon points="508.3,119.4 511.8,116.9 508,115.5 504.5,117.9" fill="#15ac42" stroke="#15ac42" stroke-width="0.5"/>
<polygon points="515.6,118.5 519.1,116 515.2,114.5 511.8,116.9" fill="#16ae3f" stroke="#16ae3f" stroke-width="0.5"/>
<polygon points="530.3,117 533.7,114.5 529.8,112.7 526.4,115.2" fill="#16b13d" stroke="#16b13d" stroke-width="0.5"/>
<polygon points="544.9,115.7 548.2,113.2 544.3,111.3 540.9,113.8" fill="#17b53e" stroke="#17b53e" stroke-width="0.5"/>
<polygon points="552.2,115.3 555.5,112.8 551.5,110.8 548.2,113.2" fill="#17b73f" stroke="#17b73f" stroke-width="0.5"/>
<polygon points="566.7,114.6 569.9,112.1 566,109.9 562.7,112.4" fill="#17ba45" stroke="#17ba45" stroke-width="0.5"/>
<polygon points="581.1,114.2 584.3,111.7 580.3,109.3 577.1,111.8" fill="#18be4e" stroke="#18be4e" stroke-width="0.5"/>
<polygon points="486.4,122.6 490,120.2 486.3,119 482.7,121.4" fill="#15a84d" stroke="#15a84d" stroke-width="0.5"/>
<polygon points="523,117.7 526.4,115.2 522.5,113.6 519.1,116" fill="#16b03e" stroke="#16b03e" stroke-width="0.5"/>
<polygon points="559.4,114.9 562.7,112.4 558.7,110.3 555.5,112.8" fill="#17b942" stroke="#17b942" stroke-width="0.5"/>
<polygon points="461.1,128.9 464.7,126.5 461.2,125.7 457.6,128" fill="#14a354" stroke="#14a354" stroke-width="0.5"/>
<polygon points="475.6,126.2 479.2,123.8 475.5,122.7 471.9,125.1" fill="#15a648" stroke="#15a648" stroke-width="0.5"/>
<polygon points="497.5,122.8 501,120.4 497.2,119 493.7,121.4" fill="#15aa3b" stroke="#15aa3b" stroke-width="0.5"/>
<polygon points="512.2,121 515.6,118.5 511.8,116.9 508.3,119.4" fill="#16ae35" stroke="#16ae35" stroke-width="0.5"/>
<polygon points="534.2,118.8 537.6,116.3 533.7,114.5 530.3,117" fill="#16b332" stroke="#16b332" stroke-width="0.5"/>
<polygon points="548.8,117.8 552.2,115.3 548.2,113.2 544.9,115.7" fill="#17b634" stroke="#17b634" stroke-width="0.5"/>
<polygon points="570.7,116.9 573.9,114.4 569.9,112.1 566.7,114.6" fill="#17bc3d" stroke="#17bc3d" stroke-width="0.5"/>
<polygon points="585.1,116.7 588.3,114.2 584.3,111.7 581.1,114.2" fill="#18c048" stroke="#18c048" stroke-width="0.5"/>
<polygon points="453.9,130.4 457.6,128 454.1,127.2 450.4,129.6" fill="#14a15b" stroke="#14a15b" stroke-width="0.5"/>
<polygon points="468.3,127.5 471.9,125.1 468.3,124.2 464.7,126.5" fill="#14a44e" stroke="#14a44e" stroke-width="0.5"/>
<polygon points="482.9,125 486.4,122.6 482.7,121.4 479.2,123.8" fill="#15a743" stroke="#15a743" stroke-width="0.5"/>
<polygon points="490.2,123.9 493.7,121.4 490,120.2 486.4,122.6" fill="#15a93e" stroke="#15a93e" stroke-width="0.5"/>
<polygon points="504.8,121.9 508.3,119.4 504.5,117.9 501,120.4" fill="#15ac37" stroke="#15ac37" stroke-width="0.5"/>
<polygon points="519.5,120.2 523,117.7 519.1,116 515.6,118.5" fill="#16af33" stroke="#16af33" stroke-width="0.5"/>
<polygon points="526.9,119.5 530.3,117 526.4,115.2 523,117.7" fill="#16b132" stroke="#16b132" stroke-width="0.5"/>
<polygon points="541.5,118.3 544.9,115.7 540.9,113.8 537.6,116.3" fill="#17b533" stroke="#17b533" stroke-width="0.5"/>
<polygon points="556.1,117.4 559.4,114.9 555.5,112.8 552.2,115.3" fill="#17b836" stroke="#17b836" stroke-width="0.5"/>
<polygon points="563.4,117.1 566.7,114.6 562.7,112.4 559.4,114.9" fill="#17ba39" stroke="#17ba39" stroke-width="0.5"/>
<polygon points="577.9,116.8 581.1,114.2 577.1,111.8 573.9,114.4" fill="#18be42" stroke="#18be42" stroke-width="0.5"/>
<polygon points="450.2,132.8 453.9,130.4 450.4,129.6 446.8,131.9" fill="#14a152" stroke="#14a152" stroke-width="0.5"/>
<polygon points="457.5,131.3 461.1,128.9 457.6,128 453.9,130.4" fill="#14a24b" stroke="#14a24b" stroke-width="0.5"/>
<polygon points="464.7,130 468.3,127.5 464.7,126.5 461.1,128.9" fill="#14a444" stroke="#14a444" stroke-width="0.5"/>
<polygon points="472,128.7 475.6,126.2 471.9,125.1 468.3,127.5" fill="#15a53e" stroke="#15a53e" stroke-width="0.5"/>
<polygon points="479.3,127.5 482.9,125 479.2,123.8 475.6,126.2" fill="#15a739" stroke="#15a739" stroke-width="0.5"/>
<polygon points="486.6,126.3 490.2,123.9 486.4,122.6 482.9,125" fill="#15a934" stroke="#15a934" stroke-width="0.5"/>
<polygon points="493.9,125.3 497.5,122.8 493.7,121.4 490.2,123.9" fill="#15aa30" stroke="#15aa30" stroke-width="0.5"/>
<polygon points="501.3,124.3 504.8,121.9 501,120.4 497.5,122.8" fill="#15ac2d" stroke="#15ac2d" stroke-width="0.5"/>
<polygon points="508.7,123.5 512.2,121 508.3,119.4 504.8,121.9" fill="#16ad2b" stroke="#16ad2b" stroke-width="0.5"/>
<polygon points="516,122.7 519.5,120.2 515.6,118.5 512.2,121" fill="#16af29" stroke="#16af29" stroke-width="0.5"/>
<polygon points="523.4,122 526.9,119.5 523,117.7 519.5,120.2" fill="#16b128" stroke="#16b128" stroke-width="0.5"/>
<polygon points="530.8,121.3 534.2,118.8 530.3,117 526.9,119.5" fill="#16b327" stroke="#16b327" stroke-width="0.5"/>
<polygon points="538.1,120.8 541.5,118.3 537.6,116.3 534.2,118.8" fill="#17b428" stroke="#17b428" stroke-width="0.5"/>
<polygon points="545.5,120.3 548.8,117.8 544.9,115.7 541.5,118.3" fill="#17b629" stroke="#17b629" stroke-width="0.5"/>
<polygon points="552.8,119.9 556.1,117.4 552.2,115.3 548.8,117.8" fill="#17b82b" stroke="#17b82b" stroke-width="0.5"/>
<polygon points="560.1,119.7 563.4,117.1 559.4,114.9 556.1,117.4" fill="#17ba2e" stroke="#17ba2e" stroke-width="0.5"/>
<polygon points="567.4,119.5 570.7,116.9 566.7,114.6 563.4,117.1" fill="#17bc32" stroke="#17bc32" stroke-width="0.5"/>
<polygon points="574.7,119.3 577.9,116.8 573.9,114.4 570.7,116.9" fill="#18be37" stroke="#18be37" stroke-width="0.5"/>
<polygon points="581.9,119.3 585.1,116.7 581.1,114.2 577.9,116.8" fill="#18bf3c" stroke="#18bf3c" stroke-width="0.5"/>
<polygon points="589.1,119.4 592.2,116.8 588.3,114.2 585.1,116.7" fill="#18c143" stroke="#18c143" stroke-width="0.5"/>
<polygon points="446.5,135.2 450.2,132.8 446.8,131.9 443.1,134.3" fill="#14a048" stroke="#14a048" stroke-width="0.5"/>
<polygon points="453.8,133.7 457.5,131.3 453.9,130.4 450.2,132.8" fill="#14a241" stroke="#14a241" stroke-width="0.5"/>
<polygon points="461,132.4 464.7,130 461.1,128.9 457.5,131.3" fill="#14a43b" stroke="#14a43b" stroke-width="0.5"/>
<polygon points="468.3,131.1 472,128.7 468.3,127.5 464.7,130" fill="#15a535" stroke="#15a535" stroke-width="0.5"/>
<polygon points="475.7,129.9 479.3,127.5 475.6,126.2 472,128.7" fill="#15a72f" stroke="#15a72f" stroke-width="0.5"/>
<polygon points="483,128.8 486.6,126.3 482.9,125 479.3,127.5" fill="#15a82a" stroke="#15a82a" stroke-width="0.5"/>
<polygon points="490.4,127.8 493.9,125.3 490.2,123.9 486.6,126.3" fill="#15aa26" stroke="#15aa26" stroke-width="0.5"/>
<polygon points="497.8,126.8 501.3,124.3 497.5,122.8 493.9,125.3" fill="#15ab23" stroke="#15ab23" stroke-width="0.5"/>
<polygon points="505.1,126 508.7,123.5 504.8,121.9 501.3,124.3" fill="#16ad20" stroke="#16ad20" stroke-width="0.5"/>
<polygon points="512.5,125.2 516,122.7 512.2,121 508.7,123.5" fill="#16af1e" stroke="#16af1e" stroke-width="0.5"/>
<polygon points="519.9,124.5 523.4,122 519.5,120.2 516,122.7" fill="#17b11e" stroke="#17b11e" stroke-width="0.5"/>
<polygon points="527.3,123.9 530.8,121.3 526.9,119.5 523.4,122" fill="#18b21f" stroke="#18b21f" stroke-width="0.5"/>
<polygon points="534.7,123.3 538.1,120.8 534.2,118.8 530.8,121.3" fill="#18b41f" stroke="#18b41f" stroke-width="0.5"/>
<polygon points="542.1,122.9 545.5,120.3 541.5,118.3 538.1,120.8" fill="#18b61f" stroke="#18b61f" stroke-width="0.5"/>
<polygon points="549.5,122.5 552.8,119.9 548.8,117.8 545.5,120.3" fill="#17b820" stroke="#17b820" stroke-width="0.5"/>
<polygon points="556.8,122.2 560.1,119.7 556.1,117.4 552.8,119.9" fill="#17b923" stroke="#17b923" stroke-width="0.5"/>
<polygon points="564.1,122 567.4,119.5 563.4,117.1 560.1,119.7" fill="#17bb26" stroke="#17bb26" stroke-width="0.5"/>
<polygon points="571.4,121.9 574.7,119.3 570.7,116.9 567.4,119.5" fill="#18bd2b" stroke="#18bd2b" stroke-width="0.5"/>
<polygon points="578.7,121.9 581.9,119.3 577.9,116.8 574.7,119.3" fill="#18bf31" stroke="#18bf31" stroke-width="0.5"/>
<polygon points="585.9,121.9 589.1,119.4 585.1,116.7 581.9,119.3" fill="#18c137" stroke="#18c137" stroke-width="0.5"/>
<polygon points="593,122.1 596.2,119.5 592.2,116.8 589.1,119.4" fill="#18c33f" stroke="#18c33f" stroke-width="0.5"/>
<polygon points="442.8,137.6 446.5,135.2 443.1,134.3 439.3,136.7" fill="#14a03f" stroke="#14a03f" stroke-width="0.5"/>
<polygon points="450.1,136.2 453.8,133.7 450.2,132.8 446.5,135.2" fill="#14a238" stroke="#14a238" stroke-width="0.5"/>
<polygon points="464.7,133.6 468.3,131.1 464.7,130 461,132.4" fill="#15a52b" stroke="#15a52b" stroke-width="0.5"/>
<polygon points="479.4,131.3 483,128.8 479.3,127.5 475.7,129.9" fill="#15a821" stroke="#15a821" stroke-width="0.5"/>
<polygon points="486.8,130.3 490.4,127.8 486.6,126.3 483,128.8" fill="#16aa1d" stroke="#16aa1d" stroke-width="0.5"/>
<polygon points="501.6,128.5 505.1,126 501.3,124.3 497.8,126.8" fill="#1aad1d" stroke="#1aad1d" stroke-width="0.5"/>
<polygon points="516.4,127 519.9,124.5 516,122.7 512.5,125.2" fill="#1cb11e" stroke="#1cb11e" stroke-width="0.5"/>
<polygon points="523.9,126.4 527.3,123.9 523.4,122 519.9,124.5" fill="#1db21e" stroke="#1db21e" stroke-width="0.5"/>
<polygon points="538.7,125.4 542.1,122.9 538.1,120.8 534.7,123.3" fill="#1db61e" stroke="#1db61e" stroke-width="0.5"/>
<polygon points="553.4,124.8 556.8,122.2 552.8,119.9 549.5,122.5" fill="#1cb91f" stroke="#1cb91f" stroke-width="0.5"/>
<polygon points="560.8,124.6 564.1,122 560.1,119.7 556.8,122.2" fill="#1abb20" stroke="#1abb20" stroke-width="0.5"/>
<polygon points="575.4,124.5 578.7,121.9 574.7,119.3 571.4,121.9" fill="#18bf25" stroke="#18bf25" stroke-width="0.5"/>
<polygon points="589.9,124.7 593,122.1 589.1,119.4 585.9,121.9" fill="#18c333" stroke="#18c333" stroke-width="0.5"/>
<polygon points="457.3,134.8 461,132.4 457.5,131.3 453.8,133.7" fill="#14a331" stroke="#14a331" stroke-width="0.5"/>
<polygon points="472,132.4 475.7,129.9 472,128.7 468.3,131.1" fill="#15a625" stroke="#15a625" stroke-width="0.5"/>
<polygon points="494.2,129.3 497.8,126.8 493.9,125.3 490.4,127.8" fill="#18ab1d" stroke="#18ab1d" stroke-width="0.5"/>
<polygon points="509,127.7 512.5,125.2 508.7,123.5 505.1,126" fill="#1baf1d" stroke="#1baf1d" stroke-width="0.5"/>
<polygon points="531.3,125.9 534.7,123.3 530.8,121.3 527.3,123.9" fill="#1db41e" stroke="#1db41e" stroke-width="0.5"/>
<polygon points="546.1,125.1 549.5,122.5 545.5,120.3 542.1,122.9" fill="#1db81f" stroke="#1db81f" stroke-width="0.5"/>
<polygon points="568.1,124.5 571.4,121.9 567.4,119.5 564.1,122" fill="#18bd21" stroke="#18bd21" stroke-width="0.5"/>
<polygon points="582.6,124.5 585.9,121.9 581.9,119.3 578.7,121.9" fill="#18c12b" stroke="#18c12b" stroke-width="0.5"/>
<polygon points="597,124.9 600.2,122.3 596.2,119.5 593,122.1" fill="#19c53b" stroke="#19c53b" stroke-width="0.5"/>
<polygon points="446.3,138.6 450.1,136.2 446.5,135.2 442.8,137.6" fill="#14a12f" stroke="#14a12f" stroke-width="0.5"/>
<polygon points="483.1,132.8 486.8,130.3 483,128.8 479.4,131.3" fill="#1baa1c" stroke="#1baa1c" stroke-width="0.5"/>
<polygon points="520.3,129 523.9,126.4 519.9,124.5 516.4,127" fill="#22b21d" stroke="#22b21d" stroke-width="0.5"/>
<polygon points="557.4,127.2 560.8,124.6 556.8,122.2 553.4,124.8" fill="#20bb1f" stroke="#20bb1f" stroke-width="0.5"/>
<polygon points="439,140 442.8,137.6 439.3,136.7 435.6,139.1" fill="#14a036" stroke="#14a036" stroke-width="0.5"/>
<polygon points="453.6,137.3 457.3,134.8 453.8,133.7 450.1,136.2" fill="#14a328" stroke="#14a328" stroke-width="0.5"/>
<polygon points="461,136 464.7,133.6 461,132.4 457.3,134.8" fill="#15a521" stroke="#15a521" stroke-width="0.5"/>
<polygon points="475.7,133.8 479.4,131.3 475.7,129.9 472,132.4" fill="#18a81d" stroke="#18a81d" stroke-width="0.5"/>
<polygon points="490.6,131.9 494.2,129.3 490.4,127.8 486.8,130.3" fill="#1dab1c" stroke="#1dab1c" stroke-width="0.5"/>
<polygon points="498,131 501.6,128.5 497.8,126.8 494.2,129.3" fill="#1fad1d" stroke="#1fad1d" stroke-width="0.5"/>
<polygon points="512.9,129.6 516.4,127 512.5,125.2 509,127.7" fill="#22b11d" stroke="#22b11d" stroke-width="0.5"/>
<polygon points="527.8,128.4 531.3,125.9 527.3,123.9 523.9,126.4" fill="#23b41d" stroke="#23b41d" stroke-width="0.5"/>
<polygon points="535.2,128 538.7,125.4 534.7,123.3 531.3,125.9" fill="#23b61e" stroke="#23b61e" stroke-width="0.5"/>
<polygon points="550.1,127.4 553.4,124.8 549.5,122.5 546.1,125.1" fill="#21b91e" stroke="#21b91e" stroke-width="0.5"/>
<polygon points="564.8,127.1 568.1,124.5 564.1,122 560.8,124.6" fill="#1ebd20" stroke="#1ebd20" stroke-width="0.5"/>
<polygon points="572.1,127.1 575.4,124.5 571.4,121.9 568.1,124.5" fill="#1cbf20" stroke="#1cbf20" stroke-width="0.5"/>
<polygon points="586.6,127.3 589.9,124.7 585.9,121.9 582.6,124.5" fill="#18c227" stroke="#18c227" stroke-width="0.5"/>
<polygon points="601,127.8 604.1,125.2 600.2,122.3 597,124.9" fill="#19c638" stroke="#19c638" stroke-width="0.5"/>
<polygon points="468.3,134.9 472,132.4 468.3,131.1 464.7,133.6" fill="#15a61d" stroke="#15a61d" stroke-width="0.5"/>
<polygon points="505.4,130.2 509,127.7 505.1,126 501.6,128.5" fill="#20af1d" stroke="#20af1d" stroke-width="0.5"/>
<polygon points="542.7,127.6 546.1,125.1 542.1,122.9 538.7,125.4" fill="#22b81e" stroke="#22b81e" stroke-width="0.5"/>
<polygon points="579.4,127.1 582.6,124.5 578.7,121.9 575.4,124.5" fill="#19c021" stroke="#19c021" stroke-width="0.5"/>
<polygon points="593.8,127.5 597,124.9 593,122.1 589.9,124.7" fill="#19c42f" stroke="#19c42f" stroke-width="0.5"/>
<polygon points="442.5,141 446.3,138.6 442.8,137.6 439,140" fill="#14a125" stroke="#14a125" stroke-width="0.5"/>
<polygon points="457.2,138.5 461,136 457.3,134.8 453.6,137.3" fill="#17a41c" stroke="#17a41c" stroke-width="0.5"/>
<polygon points="479.5,135.3 483.1,132.8 479.4,131.3 475.7,133.8" fill="#20aa1c" stroke="#20aa1c" stroke-width="0.5"/>
<polygon points="494.4,133.5 498,131 494.2,129.3 490.6,131.9" fill="#24ad1c" stroke="#24ad1c" stroke-width="0.5"/>
<polygon points="516.8,131.5 520.3,129 516.4,127 512.9,129.6" fill="#28b21c" stroke="#28b21c" stroke-width="0.5"/>
<polygon points="531.8,130.6 535.2,128 531.3,125.9 527.8,128.4" fill="#28b61d" stroke="#28b61d" stroke-width="0.5"/>
<polygon points="554,129.8 557.4,127.2 553.4,124.8 550.1,127.4" fill="#26bb1e" stroke="#26bb1e" stroke-width="0.5"/>
<polygon points="568.8,129.7 572.1,127.1 568.1,124.5 564.8,127.1" fill="#22bf1f" stroke="#22bf1f" stroke-width="0.5"/>
<polygon points="605,130.9 608.1,128.2 604.1,125.2 601,127.8" fill="#19c836" stroke="#19c836" stroke-width="0.5"/>
<polygon points="435.2,142.4 439,140 435.6,139.1 431.8,141.5" fill="#14a02d" stroke="#14a02d" stroke-width="0.5"/>
<polygon points="449.9,139.7 453.6,137.3 450.1,136.2 446.3,138.6" fill="#14a31e" stroke="#14a31e" stroke-width="0.5"/>
<polygon points="464.6,137.3 468.3,134.9 464.7,133.6 461,136" fill="#1aa61c" stroke="#1aa61c" stroke-width="0.5"/>
<polygon points="472,136.3 475.7,133.8 472,132.4 468.3,134.9" fill="#1da81c" stroke="#1da81c" stroke-width="0.5"/>
<polygon points="486.9,134.4 490.6,131.9 486.8,130.3 483.1,132.8" fill="#22ab1c" stroke="#22ab1c" stroke-width="0.5"/>
<polygon points="501.9,132.8 505.4,130.2 501.6,128.5 498,131" fill="#26af1c" stroke="#26af1c" stroke-width="0.5"/>
<polygon points="509.3,132.1 512.9,129.6 509,127.7 505.4,130.2" fill="#27b11c" stroke="#27b11c" stroke-width="0.5"/>
<polygon points="524.3,131 527.8,128.4 523.9,126.4 520.3,129" fill="#28b41c" stroke="#28b41c" stroke-width="0.5"/>
<polygon points="539.2,130.2 542.7,127.6 538.7,125.4 535.2,128" fill="#28b81d" stroke="#28b81d" stroke-width="0.5"/>
<polygon points="546.6,130 550.1,127.4 546.1,125.1 542.7,127.6" fill="#27b91e" stroke="#27b91e" stroke-width="0.5"/>
<polygon points="561.4,129.7 564.8,127.1 560.8,124.6 557.4,127.2" fill="#24bd1f" stroke="#24bd1f" stroke-width="0.5"/>
<polygon points="576.1,129.7 579.4,127.1 575.4,124.5 572.1,127.1" fill="#1fc020" stroke="#1fc020" stroke-width="0.5"/>
<polygon points="583.4,129.9 586.6,127.3 582.6,124.5 579.4,127.1" fill="#1cc221" stroke="#1cc221" stroke-width="0.5"/>
<polygon points="590.6,130.1 593.8,127.5 589.9,124.7 586.6,127.3" fill="#19c423" stroke="#19c423" stroke-width="0.5"/>
<polygon points="597.8,130.5 601,127.8 597,124.9 593.8,127.5" fill="#19c62c" stroke="#19c62c" stroke-width="0.5"/>
<polygon points="431.4,144.8 435.2,142.4 431.8,141.5 428,143.9" fill="#149f24" stroke="#149f24" stroke-width="0.5"/>
<polygon points="438.7,143.5 442.5,141 439,140 435.2,142.4" fill="#14a11c" stroke="#14a11c" stroke-width="0.5"/>
<polygon points="446.1,142.2 449.9,139.7 446.3,138.6 442.5,141" fill="#18a31c" stroke="#18a31c" stroke-width="0.5"/>
<polygon points="453.5,141 457.2,138.5 453.6,137.3 449.9,139.7" fill="#1ca41b" stroke="#1ca41b" stroke-width="0.5"/>
<polygon points="460.9,139.8 464.6,137.3 461,136 457.2,138.5" fill="#1fa61b" stroke="#1fa61b" stroke-width="0.5"/>
<polygon points="468.3,138.8 472,136.3 468.3,134.9 464.6,137.3" fill="#22a81b" stroke="#22a81b" stroke-width="0.5"/>
<polygon points="475.8,137.8 479.5,135.3 475.7,133.8 472,136.3" fill="#25aa1b" stroke="#25aa1b" stroke-width="0.5"/>
<polygon points="483.2,136.9 486.9,134.4 483.1,132.8 479.5,135.3" fill="#27ab1b" stroke="#27ab1b" stroke-width="0.5"/>
<polygon points="490.7,136.1 494.4,133.5 490.6,131.9 486.9,134.4" fill="#29ad1b" stroke="#29ad1b" stroke-width="0.5"/>
<polygon points="498.2,135.4 501.9,132.8 498,131 494.4,133.5" fill="#2baf1b" stroke="#2baf1b" stroke-width="0.5"/>
<polygon points="505.7,134.7 509.3,132.1 505.4,130.2 501.9,132.8" fill="#2cb11b" stroke="#2cb11b" stroke-width="0.5"/>
<polygon points="513.2,134.1 516.8,131.5 512.9,129.6 509.3,132.1" fill="#2db21b" stroke="#2db21b" stroke-width="0.5"/>
<polygon points="520.7,133.6 524.3,131 520.3,129 516.8,131.5" fill="#2db41c" stroke="#2db41c" stroke-width="0.5"/>
<polygon points="528.2,133.2 531.8,130.6 527.8,128.4 524.3,131" fill="#2eb61c" stroke="#2eb61c" stroke-width="0.5"/>
<polygon points="535.7,132.8 539.2,130.2 535.2,128 531.8,130.6" fill="#2db81c" stroke="#2db81c" stroke-width="0.5"/>
<polygon points="543.2,132.6 546.6,130 542.7,127.6 539.2,130.2" fill="#2cb91d" stroke="#2cb91d" stroke-width="0.5"/>
<polygon points="550.6,132.4 554,129.8 550.1,127.4 546.6,130" fill="#2bbb1d" stroke="#2bbb1d" stroke-width="0.5"/>
<polygon points="558.1,132.3 561.4,129.7 557.4,127.2 554,129.8" fill="#2abd1e" stroke="#2abd1e" stroke-width="0.5"/>
<polygon points="565.4,132.3 568.8,129.7 564.8,127.1 561.4,129.7" fill="#27bf1f" stroke="#27bf1f" stroke-width="0.5"/>
<polygon points="572.8,132.4 576.1,129.7 572.1,127.1 568.8,129.7" fill="#25c01f" stroke="#25c01f" stroke-width="0.5"/>
<polygon points="580.1,132.5 583.4,129.9 579.4,127.1 576.1,129.7" fill="#22c220" stroke="#22c220" stroke-width="0.5"/>
<polygon points="587.4,132.8 590.6,130.1 586.6,127.3 583.4,129.9" fill="#1ec421" stroke="#1ec421" stroke-width="0.5"/>
<polygon points="594.6,133.1 597.8,130.5 593.8,127.5 590.6,130.1" fill="#1ac622" stroke="#1ac622" stroke-width="0.5"/>
<polygon points="601.8,133.5 605,130.9 601,127.8 597.8,130.5" fill="#19c82a" stroke="#19c82a" stroke-width="0.5"/>
<polygon points="608.9,134 612,131.4 608.1,128.2 605,130.9" fill="#19ca35" stroke="#19ca35" stroke-width="0.5"/>
<polygon points="427.6,147.3 431.4,144.8 428,143.9 424.2,146.3" fill="#149f1b" stroke="#149f1b" stroke-width="0.5"/>
<polygon points="434.9,145.9 438.7,143.5 435.2,142.4 431.4,144.8" fill="#19a11b" stroke="#19a11b" stroke-width="0.5"/>
<polygon points="442.3,144.7 446.1,142.2 442.5,141 438.7,143.5" fill="#1da31b" stroke="#1da31b" stroke-width="0.5"/>
<polygon points="449.7,143.5 453.5,141 449.9,139.7 446.1,142.2" fill="#20a41b" stroke="#20a41b" stroke-width="0.5"/>
<polygon points="457.1,142.3 460.9,139.8 457.2,138.5 453.5,141" fill="#24a61a" stroke="#24a61a" stroke-width="0.5"/>
<polygon points="464.6,141.3 468.3,138.8 464.6,137.3 460.9,139.8" fill="#27a81a" stroke="#27a81a" stroke-width="0.5"/>
<polygon points="472,140.3 475.8,137.8 472,136.3 468.3,138.8" fill="#2aaa1a" stroke="#2aaa1a" stroke-width="0.5"/>
<polygon points="479.5,139.5 483.2,136.9 479.5,135.3 475.8,137.8" fill="#2cab1a" stroke="#2cab1a" stroke-width="0.5"/>
<polygon points="487.1,138.7 490.7,136.1 486.9,134.4 483.2,136.9" fill="#2ead1a" stroke="#2ead1a" stroke-width="0.5"/>
<polygon points="494.6,137.9 498.2,135.4 494.4,133.5 490.7,136.1" fill="#30af1a" stroke="#30af1a" stroke-width="0.5"/>
<polygon points="502.1,137.3 505.7,134.7 501.9,132.8 498.2,135.4" fill="#31b11a" stroke="#31b11a" stroke-width="0.5"/>
<polygon points="509.7,136.7 513.2,134.1 509.3,132.1 505.7,134.7" fill="#32b21b" stroke="#32b21b" stroke-width="0.5"/>
<polygon points="517.2,136.2 520.7,133.6 516.8,131.5 513.2,134.1" fill="#33b41b" stroke="#33b41b" stroke-width="0.5"/>
<polygon points="524.7,135.8 528.2,133.2 524.3,131 520.7,133.6" fill="#33b61b" stroke="#33b61b" stroke-width="0.5"/>
<polygon points="532.2,135.5 535.7,132.8 531.8,130.6 528.2,133.2" fill="#33b81c" stroke="#33b81c" stroke-width="0.5"/>
<polygon points="539.7,135.2 543.2,132.6 539.2,130.2 535.7,132.8" fill="#32b91c" stroke="#32b91c" stroke-width="0.5"/>
<polygon points="547.2,135 550.6,132.4 546.6,130 543.2,132.6" fill="#31bb1c" stroke="#31bb1c" stroke-width="0.5"/>
<polygon points="554.6,134.9 558.1,132.3 554,129.8 550.6,132.4" fill="#2fbd1d" stroke="#2fbd1d" stroke-width="0.5"/>
<polygon points="562.1,134.9 565.4,132.3 561.4,129.7 558.1,132.3" fill="#2dbf1e" stroke="#2dbf1e" stroke-width="0.5"/>
<polygon points="569.5,135 572.8,132.4 568.8,129.7 565.4,132.3" fill="#2bc11e" stroke="#2bc11e" stroke-width="0.5"/>
<polygon points="576.8,135.2 580.1,132.5 576.1,129.7 572.8,132.4" fill="#28c21f" stroke="#28c21f" stroke-width="0.5"/>
<polygon points="591.4,135.7 594.6,133.1 590.6,130.1 587.4,132.8" fill="#20c621" stroke="#20c621" stroke-width="0.5"/>
<polygon points="598.6,136.2 601.8,133.5 597.8,130.5 594.6,133.1" fill="#1bc822" stroke="#1bc822" stroke-width="0.5"/>
<polygon points="605.8,136.7 608.9,134 605,130.9 601.8,133.5" fill="#19c928" stroke="#19c928" stroke-width="0.5"/>
<polygon points="612.9,137.2 616,134.6 612,131.4 608.9,134" fill="#19cc35" stroke="#19cc35" stroke-width="0.5"/>
<polygon points="584.1,135.4 587.4,132.8 583.4,129.9 580.1,132.5" fill="#24c420" stroke="#24c420" stroke-width="0.5"/>
<polygon points="423.7,149.7 427.6,147.3 424.2,146.3 420.3,148.7" fill="#199f1b" stroke="#199f1b" stroke-width="0.5"/>
<polygon points="431,148.4 434.9,145.9 431.4,144.8 427.6,147.3" fill="#1da11a" stroke="#1da11a" stroke-width="0.5"/>
<polygon points="445.9,146 449.7,143.5 446.1,142.2 442.3,144.7" fill="#25a41a" stroke="#25a41a" stroke-width="0.5"/>
<polygon points="460.8,143.8 464.6,141.3 460.9,139.8 457.1,142.3" fill="#2ca81a" stroke="#2ca81a" stroke-width="0.5"/>
<polygon points="468.3,142.9 472,140.3 468.3,138.8 464.6,141.3" fill="#2faa19" stroke="#2faa19" stroke-width="0.5"/>
<polygon points="483.4,141.2 487.1,138.7 483.2,136.9 479.5,139.5" fill="#33ad19" stroke="#33ad19" stroke-width="0.5"/>
<polygon points="498.5,139.9 502.1,137.3 498.2,135.4 494.6,137.9" fill="#36b11a" stroke="#36b11a" stroke-width="0.5"/>
<polygon points="506,139.3 509.7,136.7 505.7,134.7 502.1,137.3" fill="#38b21a" stroke="#38b21a" stroke-width="0.5"/>
<polygon points="521.1,138.4 524.7,135.8 520.7,133.6 517.2,136.2" fill="#38b61a" stroke="#38b61a" stroke-width="0.5"/>
<polygon points="536.2,137.8 539.7,135.2 535.7,132.8 532.2,135.5" fill="#38ba1b" stroke="#38ba1b" stroke-width="0.5"/>
<polygon points="543.7,137.7 547.2,135 543.2,132.6 539.7,135.2" fill="#37bb1c" stroke="#37bb1c" stroke-width="0.5"/>
<polygon points="558.7,137.6 562.1,134.9 558.1,132.3 554.6,134.9" fill="#33bf1d" stroke="#33bf1d" stroke-width="0.5"/>
<polygon points="573.5,137.8 576.8,135.2 572.8,132.4 569.5,135" fill="#2ec21e" stroke="#2ec21e" stroke-width="0.5"/>
<polygon points="595.4,138.8 598.6,136.2 594.6,133.1 591.4,135.7" fill="#22c821" stroke="#22c821" stroke-width="0.5"/>
<polygon points="609.7,139.9 612.9,137.2 608.9,134 605.8,136.7" fill="#19cb28" stroke="#19cb28" stroke-width="0.5"/>
<polygon points="438.4,147.2 442.3,144.7 438.7,143.5 434.9,145.9" fill="#21a31a" stroke="#21a31a" stroke-width="0.5"/>
<polygon points="453.3,144.9 457.1,142.3 453.5,141 449.7,143.5" fill="#29a61a" stroke="#29a61a" stroke-width="0.5"/>
<polygon points="475.8,142 479.5,139.5 475.8,137.8 472,140.3" fill="#31ab19" stroke="#31ab19" stroke-width="0.5"/>
<polygon points="490.9,140.5 494.6,137.9 490.7,136.1 487.1,138.7" fill="#35af19" stroke="#35af19" stroke-width="0.5"/>
<polygon points="513.6,138.8 517.2,136.2 513.2,134.1 509.7,136.7" fill="#38b41a" stroke="#38b41a" stroke-width="0.5"/>
<polygon points="528.7,138.1 532.2,135.5 528.2,133.2 524.7,135.8" fill="#38b81b" stroke="#38b81b" stroke-width="0.5"/>
<polygon points="551.2,137.6 554.6,134.9 550.6,132.4 547.2,135" fill="#35bd1c" stroke="#35bd1c" stroke-width="0.5"/>
<polygon points="566.1,137.7 569.5,135 565.4,132.3 562.1,134.9" fill="#31c11e" stroke="#31c11e" stroke-width="0.5"/>
<polygon points="580.8,138.1 584.1,135.4 580.1,132.5 576.8,135.2" fill="#2ac41f" stroke="#2ac41f" stroke-width="0.5"/>
<polygon points="588.1,138.4 591.4,135.7 587.4,132.8 584.1,135.4" fill="#26c620" stroke="#26c620" stroke-width="0.5"/>
<polygon points="602.6,139.3 605.8,136.7 601.8,133.5 598.6,136.2" fill="#1dc922" stroke="#1dc922" stroke-width="0.5"/>
<polygon points="616.8,140.6 619.9,137.9 616,134.6 612.9,137.2" fill="#1acd35" stroke="#1acd35" stroke-width="0.5"/>
<polygon points="427.2,150.9 431,148.4 427.6,147.3 423.7,149.7" fill="#22a11a" stroke="#22a11a" stroke-width="0.5"/>
<polygon points="464.5,145.4 468.3,142.9 464.6,141.3 460.8,143.8" fill="#34aa19" stroke="#34aa19" stroke-width="0.5"/>
<polygon points="502.4,141.9 506,139.3 502.1,137.3 498.5,139.9" fill="#3db319" stroke="#3db319" stroke-width="0.5"/>
<polygon points="540.2,140.3 543.7,137.7 539.7,135.2 536.2,137.8" fill="#3cbb1b" stroke="#3cbb1b" stroke-width="0.5"/>
<polygon points="419.8,152.2 423.7,149.7 420.3,148.7 416.4,151.2" fill="#1d9f1a" stroke="#1d9f1a" stroke-width="0.5"/>
<polygon points="434.6,149.6 438.4,147.2 434.9,145.9 431,148.4" fill="#26a319" stroke="#26a319" stroke-width="0.5"/>
<polygon points="442,148.5 445.9,146 442.3,144.7 438.4,147.2" fill="#2aa419" stroke="#2aa419" stroke-width="0.5"/>
<polygon points="457,146.4 460.8,143.8 457.1,142.3 453.3,144.9" fill="#31a819" stroke="#31a819" stroke-width="0.5"/>
<polygon points="472.1,144.6 475.8,142 472,140.3 468.3,142.9" fill="#36ac19" stroke="#36ac19" stroke-width="0.5"/>
<polygon points="479.6,143.8 483.4,141.2 479.5,139.5 475.8,142" fill="#38ad19" stroke="#38ad19" stroke-width="0.5"/>
<polygon points="494.8,142.5 498.5,139.9 494.6,137.9 490.9,140.5" fill="#3cb119" stroke="#3cb119" stroke-width="0.5"/>
<polygon points="510,141.4 513.6,138.8 509.7,136.7 506,139.3" fill="#3eb419" stroke="#3eb419" stroke-width="0.5"/>
<polygon points="517.5,141 521.1,138.4 517.2,136.2 513.6,138.8" fill="#3eb61a" stroke="#3eb61a" stroke-width="0.5"/>
<polygon points="532.7,140.5 536.2,137.8 532.2,135.5 528.7,138.1" fill="#3dba1a" stroke="#3dba1a" stroke-width="0.5"/>
<polygon points="547.7,140.2 551.2,137.6 547.2,135 543.7,137.7" fill="#3bbd1b" stroke="#3bbd1b" stroke-width="0.5"/>
<polygon points="555.2,140.2 558.7,137.6 554.6,134.9 551.2,137.6" fill="#39bf1c" stroke="#39bf1c" stroke-width="0.5"/>
<polygon points="570.1,140.5 573.5,137.8 569.5,135 566.1,137.7" fill="#33c21d" stroke="#33c21d" stroke-width="0.5"/>
<polygon points="584.8,141.1 588.1,138.4 584.1,135.4 580.8,138.1" fill="#2cc61f" stroke="#2cc61f" stroke-width="0.5"/>
<polygon points="592.1,141.5 595.4,138.8 591.4,135.7 588.1,138.4" fill="#28c820" stroke="#28c820" stroke-width="0.5"/>
<polygon points="606.5,142.6 609.7,139.9 605.8,136.7 602.6,139.3" fill="#1dcb22" stroke="#1dcb22" stroke-width="0.5"/>
<polygon points="620.7,144 623.8,141.4 619.9,137.9 616.8,140.6" fill="#1acf37" stroke="#1acf37" stroke-width="0.5"/>
<polygon points="449.5,147.4 453.3,144.9 449.7,143.5 445.9,146" fill="#2da619" stroke="#2da619" stroke-width="0.5"/>
<polygon points="487.2,143.1 490.9,140.5 487.1,138.7 483.4,141.2" fill="#3aaf19" stroke="#3aaf19" stroke-width="0.5"/>
<polygon points="525.1,140.7 528.7,138.1 524.7,135.8 521.1,138.4" fill="#3eb81a" stroke="#3eb81a" stroke-width="0.5"/>
<polygon points="562.7,140.3 566.1,137.7 562.1,134.9 558.7,137.6" fill="#36c11d" stroke="#36c11d" stroke-width="0.5"/>
<polygon points="577.5,140.7 580.8,138.1 576.8,135.2 573.5,137.8" fill="#30c41e" stroke="#30c41e" stroke-width="0.5"/>
<polygon points="599.3,142 602.6,139.3 598.6,136.2 595.4,138.8" fill="#23c921" stroke="#23c921" stroke-width="0.5"/>
<polygon points="613.6,143.3 616.8,140.6 612.9,137.2 609.7,139.9" fill="#1acd28" stroke="#1acd28" stroke-width="0.5"/>
<polygon points="423.2,153.4 427.2,150.9 423.7,149.7 419.8,152.2" fill="#26a119" stroke="#26a119" stroke-width="0.5"/>
<polygon points="438.1,151 442,148.5 438.4,147.2 434.6,149.6" fill="#2ea518" stroke="#2ea518" stroke-width="0.5"/>
<polygon points="460.7,148 464.5,145.4 460.8,143.8 457,146.4" fill="#38aa18" stroke="#38aa18" stroke-width="0.5"/>
<polygon points="475.9,146.4 479.6,143.8 475.8,142 472.1,144.6" fill="#3dad18" stroke="#3dad18" stroke-width="0.5"/>
<polygon points="498.7,144.5 502.4,141.9 498.5,139.9 494.8,142.5" fill="#42b318" stroke="#42b318" stroke-width="0.5"/>
<polygon points="513.9,143.7 517.5,141 513.6,138.8 510,141.4" fill="#43b619" stroke="#43b619" stroke-width="0.5"/>
<polygon points="536.7,143 540.2,140.3 536.2,137.8 532.7,140.5" fill="#42bb1a" stroke="#42bb1a" stroke-width="0.5"/>
<polygon points="551.8,142.9 555.2,140.2 551.2,137.6 547.7,140.2" fill="#3fbf1b" stroke="#3fbf1b" stroke-width="0.5"/>
<polygon points="588.8,144.2 592.1,141.5 588.1,138.4 584.8,141.1" fill="#2ec81f" stroke="#2ec81f" stroke-width="0.5"/>
<polygon points="624.6,147.6 627.7,144.9 623.8,141.4 620.7,144" fill="#1ad139" stroke="#1ad139" stroke-width="0.5"/>
<polygon points="415.9,154.7 419.8,152.2 416.4,151.2 412.5,153.6" fill="#229f19" stroke="#229f19" stroke-width="0.5"/>
<polygon points="430.7,152.2 434.6,149.6 431,148.4 427.2,150.9" fill="#2ba319" stroke="#2ba319" stroke-width="0.5"/>
<polygon points="445.6,149.9 449.5,147.4 445.9,146 442,148.5" fill="#32a618" stroke="#32a618" stroke-width="0.5"/>
<polygon points="453.2,148.9 457,146.4 453.3,144.9 449.5,147.4" fill="#35a818" stroke="#35a818" stroke-width="0.5"/>
<polygon points="468.3,147.2 472.1,144.6 468.3,142.9 464.5,145.4" fill="#3bac18" stroke="#3bac18" stroke-width="0.5"/>
<polygon points="483.5,145.7 487.2,143.1 483.4,141.2 479.6,143.8" fill="#3faf18" stroke="#3faf18" stroke-width="0.5"/>
<polygon points="491.1,145.1 494.8,142.5 490.9,140.5 487.2,143.1" fill="#41b118" stroke="#41b118" stroke-width="0.5"/>
<polygon points="506.3,144.1 510,141.4 506,139.3 502.4,141.9" fill="#43b418" stroke="#43b418" stroke-width="0.5"/>
<polygon points="521.5,143.4 525.1,140.7 521.1,138.4 517.5,141" fill="#43b819" stroke="#43b819" stroke-width="0.5"/>
<polygon points="529.1,143.1 532.7,140.5 528.7,138.1 525.1,140.7" fill="#43ba19" stroke="#43ba19" stroke-width="0.5"/>
<polygon points="544.2,142.9 547.7,140.2 543.7,137.7 540.2,140.3" fill="#40bd1a" stroke="#40bd1a" stroke-width="0.5"/>
<polygon points="559.2,143 562.7,140.3 558.7,137.6 555.2,140.2" fill="#3cc11c" stroke="#3cc11c" stroke-width="0.5"/>
<polygon points="566.7,143.2 570.1,140.5 566.1,137.7 562.7,140.3" fill="#39c21d" stroke="#39c21d" stroke-width="0.5"/>
<polygon points="574.1,143.4 577.5,140.7 573.5,137.8 570.1,140.5" fill="#36c41d" stroke="#36c41d" stroke-width="0.5"/>
<polygon points="581.5,143.8 584.8,141.1 580.8,138.1 577.5,140.7" fill="#32c61e" stroke="#32c61e" stroke-width="0.5"/>
<polygon points="596.1,144.7 599.3,142 595.4,138.8 592.1,141.5" fill="#29c920" stroke="#29c920" stroke-width="0.5"/>
<polygon points="603.3,145.3 606.5,142.6 602.6,139.3 599.3,142" fill="#23cb22" stroke="#23cb22" stroke-width="0.5"/>
<polygon points="610.5,146 613.6,143.3 609.7,139.9 606.5,142.6" fill="#1dcd23" stroke="#1dcd23" stroke-width="0.5"/>
<polygon points="617.6,146.7 620.7,144 616.8,140.6 613.6,143.3" fill="#1acf2a" stroke="#1acf2a" stroke-width="0.5"/>
<polygon points="411.9,157.2 415.9,154.7 412.5,153.6 408.5,156.1" fill="#269f19" stroke="#269f19" stroke-width="0.5"/>
<polygon points="419.3,155.9 423.2,153.4 419.8,152.2 415.9,154.7" fill="#2ba118" stroke="#2ba118" stroke-width="0.5"/>
<polygon points="426.7,154.7 430.7,152.2 427.2,150.9 423.2,153.4" fill="#2fa318" stroke="#2fa318" stroke-width="0.5"/>
<polygon points="434.2,153.5 438.1,151 434.6,149.6 430.7,152.2" fill="#33a518" stroke="#33a518" stroke-width="0.5"/>
<polygon points="441.7,152.5 445.6,149.9 442,148.5 438.1,151" fill="#37a618" stroke="#37a618" stroke-width="0.5"/>
<polygon points="449.3,151.5 453.2,148.9 449.5,147.4 445.6,149.9" fill="#3aa817" stroke="#3aa817" stroke-width="0.5"/>
<polygon points="456.9,150.6 460.7,148 457,146.4 453.2,148.9" fill="#3daa17" stroke="#3daa17" stroke-width="0.5"/>
<polygon points="464.5,149.8 468.3,147.2 464.5,145.4 460.7,148" fill="#40ac17" stroke="#40ac17" stroke-width="0.5"/>
<polygon points="472.1,149 475.9,146.4 472.1,144.6 468.3,147.2" fill="#42ad17" stroke="#42ad17" stroke-width="0.5"/>
<polygon points="479.7,148.3 483.5,145.7 479.6,143.8 475.9,146.4" fill="#44af17" stroke="#44af17" stroke-width="0.5"/>
<polygon points="487.3,147.7 491.1,145.1 487.2,143.1 483.5,145.7" fill="#46b117" stroke="#46b117" stroke-width="0.5"/>
<polygon points="495,147.2 498.7,144.5 494.8,142.5 491.1,145.1" fill="#47b317" stroke="#47b317" stroke-width="0.5"/>
<polygon points="502.6,146.7 506.3,144.1 502.4,141.9 498.7,144.5" fill="#48b418" stroke="#48b418" stroke-width="0.5"/>
<polygon points="510.3,146.3 513.9,143.7 510,141.4 506.3,144.1" fill="#49b618" stroke="#49b618" stroke-width="0.5"/>
<polygon points="517.9,146 521.5,143.4 517.5,141 513.9,143.7" fill="#49b818" stroke="#49b818" stroke-width="0.5"/>
<polygon points="525.5,145.8 529.1,143.1 525.1,140.7 521.5,143.4" fill="#48ba19" stroke="#48ba19" stroke-width="0.5"/>
<polygon points="533.1,145.7 536.7,143 532.7,140.5 529.1,143.1" fill="#47bb19" stroke="#47bb19" stroke-width="0.5"/>
<polygon points="540.7,145.6 544.2,142.9 540.2,140.3 536.7,143" fill="#46bd1a" stroke="#46bd1a" stroke-width="0.5"/>
<polygon points="548.3,145.6 551.8,142.9 547.7,140.2 544.2,142.9" fill="#44bf1a" stroke="#44bf1a" stroke-width="0.5"/>
<polygon points="555.8,145.7 559.2,143 555.2,140.2 551.8,142.9" fill="#42c11b" stroke="#42c11b" stroke-width="0.5"/>
<polygon points="563.3,145.9 566.7,143.2 562.7,140.3 559.2,143" fill="#3fc21c" stroke="#3fc21c" stroke-width="0.5"/>
<polygon points="570.7,146.1 574.1,143.4 570.1,140.5 566.7,143.2" fill="#3cc41d" stroke="#3cc41d" stroke-width="0.5"/>
<polygon points="578.1,146.5 581.5,143.8 577.5,140.7 574.1,143.4" fill="#38c61d" stroke="#38c61d" stroke-width="0.5"/>
<polygon points="585.5,146.9 588.8,144.2 584.8,141.1 581.5,143.8" fill="#34c81e" stroke="#34c81e" stroke-width="0.5"/>
<polygon points="592.8,147.4 596.1,144.7 592.1,141.5 588.8,144.2" fill="#2fc91f" stroke="#2fc91f" stroke-width="0.5"/>
<polygon points="600.1,148 603.3,145.3 599.3,142 596.1,144.7" fill="#2acb21" stroke="#2acb21" stroke-width="0.5"/>
<polygon points="607.3,148.7 610.5,146 606.5,142.6 603.3,145.3" fill="#24cd22" stroke="#24cd22" stroke-width="0.5"/>
<polygon points="614.4,149.4 617.6,146.7 613.6,143.3 610.5,146" fill="#1dcf23" stroke="#1dcf23" stroke-width="0.5"/>
<polygon points="621.5,150.3 624.6,147.6 620.7,144 617.6,146.7" fill="#1ad12c" stroke="#1ad12c" stroke-width="0.5"/>
<polygon points="628.5,151.2 631.5,148.5 627.7,144.9 624.6,147.6" fill="#1ad33c" stroke="#1ad33c" stroke-width="0.5"/>
<polygon points="407.9,159.7 411.9,157.2 408.5,156.1 404.6,158.5" fill="#2b9f18" stroke="#2b9f18" stroke-width="0.5"/>
<polygon points="415.3,158.4 419.3,155.9 415.9,154.7 411.9,157.2" fill="#2fa118" stroke="#2fa118" stroke-width="0.5"/>
<polygon points="422.8,157.2 426.7,154.7 423.2,153.4 419.3,155.9" fill="#34a317" stroke="#34a317" stroke-width="0.5"/>
<polygon points="430.3,156.1 434.2,153.5 430.7,152.2 426.7,154.7" fill="#38a517" stroke="#38a517" stroke-width="0.5"/>
<polygon points="437.8,155 441.7,152.5 438.1,151 434.2,153.5" fill="#3ca617" stroke="#3ca617" stroke-width="0.5"/>
<polygon points="445.4,154.1 449.3,151.5 445.6,149.9 441.7,152.5" fill="#3fa817" stroke="#3fa817" stroke-width="0.5"/>
<polygon points="453,153.2 456.9,150.6 453.2,148.9 449.3,151.5" fill="#42aa17" stroke="#42aa17" stroke-width="0.5"/>
<polygon points="460.6,152.4 464.5,149.8 460.7,148 456.9,150.6" fill="#45ac16" stroke="#45ac16" stroke-width="0.5"/>
<polygon points="468.3,151.6 472.1,149 468.3,147.2 464.5,149.8" fill="#47ad16" stroke="#47ad16" stroke-width="0.5"/>
<polygon points="475.9,150.9 479.7,148.3 475.9,146.4 472.1,149" fill="#49af16" stroke="#49af16" stroke-width="0.5"/>
<polygon points="483.6,150.3 487.3,147.7 483.5,145.7 479.7,148.3" fill="#4bb117" stroke="#4bb117" stroke-width="0.5"/>
<polygon points="491.2,149.8 495,147.2 491.1,145.1 487.3,147.7" fill="#4cb317" stroke="#4cb317" stroke-width="0.5"/>
<polygon points="498.9,149.4 502.6,146.7 498.7,144.5 495,147.2" fill="#4db417" stroke="#4db417" stroke-width="0.5"/>
<polygon points="506.6,149 510.3,146.3 506.3,144.1 502.6,146.7" fill="#4eb617" stroke="#4eb617" stroke-width="0.5"/>
<polygon points="514.2,148.7 517.9,146 513.9,143.7 510.3,146.3" fill="#4eb817" stroke="#4eb817" stroke-width="0.5"/>
<polygon points="521.9,148.5 525.5,145.8 521.5,143.4 517.9,146" fill="#4eba18" stroke="#4eba18" stroke-width="0.5"/>
<polygon points="529.5,148.4 533.1,145.7 529.1,143.1 525.5,145.8" fill="#4dbb18" stroke="#4dbb18" stroke-width="0.5"/>
<polygon points="537.1,148.3 540.7,145.6 536.7,143 533.1,145.7" fill="#4cbd19" stroke="#4cbd19" stroke-width="0.5"/>
<polygon points="544.7,148.3 548.3,145.6 544.2,142.9 540.7,145.6" fill="#4abf19" stroke="#4abf19" stroke-width="0.5"/>
<polygon points="552.3,148.4 555.8,145.7 551.8,142.9 548.3,145.6" fill="#48c11a" stroke="#48c11a" stroke-width="0.5"/>
<polygon points="559.8,148.6 563.3,145.9 559.2,143 555.8,145.7" fill="#45c21b" stroke="#45c21b" stroke-width="0.5"/>
<polygon points="574.8,149.2 578.1,146.5 574.1,143.4 570.7,146.1" fill="#3ec61d" stroke="#3ec61d" stroke-width="0.5"/>
<polygon points="582.2,149.6 585.5,146.9 581.5,143.8 578.1,146.5" fill="#3ac81d" stroke="#3ac81d" stroke-width="0.5"/>
<polygon points="589.5,150.1 592.8,147.4 588.8,144.2 585.5,146.9" fill="#35c91f" stroke="#35c91f" stroke-width="0.5"/>
<polygon points="596.8,150.7 600.1,148 596.1,144.7 592.8,147.4" fill="#30cb20" stroke="#30cb20" stroke-width="0.5"/>
<polygon points="611.2,152.1 614.4,149.4 610.5,146 607.3,148.7" fill="#23cf22" stroke="#23cf22" stroke-width="0.5"/>
<polygon points="618.3,153 621.5,150.3 617.6,146.7 614.4,149.4" fill="#1cd024" stroke="#1cd024" stroke-width="0.5"/>
<polygon points="625.4,153.9 628.5,151.2 624.6,147.6 621.5,150.3" fill="#1ad32f" stroke="#1ad32f" stroke-width="0.5"/>
<polygon points="632.3,155 635.4,152.2 631.5,148.5 628.5,151.2" fill="#1bd540" stroke="#1bd540" stroke-width="0.5"/>
<polygon points="567.3,148.8 570.7,146.1 566.7,143.2 563.3,145.9" fill="#42c41c" stroke="#42c41c" stroke-width="0.5"/>
<polygon points="604.1,151.4 607.3,148.7 603.3,145.3 600.1,148" fill="#2acd21" stroke="#2acd21" stroke-width="0.5"/>
<polygon points="411.3,160.9 415.3,158.4 411.9,157.2 407.9,159.7" fill="#34a117" stroke="#34a117" stroke-width="0.5"/>
<polygon points="426.3,158.6 430.3,156.1 426.7,154.7 422.8,157.2" fill="#3ca516" stroke="#3ca516" stroke-width="0.5"/>
<polygon points="441.5,156.7 445.4,154.1 441.7,152.5 437.8,155" fill="#44a816" stroke="#44a816" stroke-width="0.5"/>
<polygon points="449.1,155.8 453,153.2 449.3,151.5 445.4,154.1" fill="#47aa16" stroke="#47aa16" stroke-width="0.5"/>
<polygon points="464.4,154.2 468.3,151.6 464.5,149.8 460.6,152.4" fill="#4cad16" stroke="#4cad16" stroke-width="0.5"/>
<polygon points="479.8,153 483.6,150.3 479.7,148.3 475.9,150.9" fill="#53b116" stroke="#53b116" stroke-width="0.5"/>
<polygon points="487.5,152.5 491.2,149.8 487.3,147.7 483.6,150.3" fill="#54b216" stroke="#54b216" stroke-width="0.5"/>
<polygon points="502.9,151.7 506.6,149 502.6,146.7 498.9,149.4" fill="#56b617" stroke="#56b617" stroke-width="0.5"/>
<polygon points="518.2,151.2 521.9,148.5 517.9,146 514.2,148.7" fill="#54b917" stroke="#54b917" stroke-width="0.5"/>
<polygon points="525.9,151.1 529.5,148.4 525.5,145.8 521.9,148.5" fill="#52bb17" stroke="#52bb17" stroke-width="0.5"/>
<polygon points="541.2,151 544.7,148.3 540.7,145.6 537.1,148.3" fill="#50bf19" stroke="#50bf19" stroke-width="0.5"/>
<polygon points="556.3,151.3 559.8,148.6 555.8,145.7 552.3,148.4" fill="#4bc21a" stroke="#4bc21a" stroke-width="0.5"/>
<polygon points="578.8,152.3 582.2,149.6 578.1,146.5 574.8,149.2" fill="#40c81d" stroke="#40c81d" stroke-width="0.5"/>
<polygon points="593.5,153.4 596.8,150.7 592.8,147.4 589.5,150.1" fill="#36cb1f" stroke="#36cb1f" stroke-width="0.5"/>
<polygon points="615.2,155.7 618.3,153 614.4,149.4 611.2,152.1" fill="#23d023" stroke="#23d023" stroke-width="0.5"/>
<polygon points="629.3,157.7 632.3,155 628.5,151.2 625.4,153.9" fill="#1bd433" stroke="#1bd433" stroke-width="0.5"/>
<polygon points="403.9,162.2 407.9,159.7 404.6,158.5 400.6,161" fill="#2f9f17" stroke="#2f9f17" stroke-width="0.5"/>
<polygon points="418.8,159.7 422.8,157.2 419.3,155.9 415.3,158.4" fill="#38a317" stroke="#38a317" stroke-width="0.5"/>
<polygon points="433.9,157.6 437.8,155 434.2,153.5 430.3,156.1" fill="#40a616" stroke="#40a616" stroke-width="0.5"/>
<polygon points="456.8,155 460.6,152.4 456.9,150.6 453,153.2" fill="#4aac16" stroke="#4aac16" stroke-width="0.5"/>
<polygon points="472.1,153.6 475.9,150.9 472.1,149 468.3,151.6" fill="#50af16" stroke="#50af16" stroke-width="0.5"/>
<polygon points="495.2,152.1 498.9,149.4 495,147.2 491.2,149.8" fill="#56b417" stroke="#56b417" stroke-width="0.5"/>
<polygon points="510.6,151.4 514.2,148.7 510.3,146.3 506.6,149" fill="#56b817" stroke="#56b817" stroke-width="0.5"/>
<polygon points="533.6,151 537.1,148.3 533.1,145.7 529.5,148.4" fill="#51bd18" stroke="#51bd18" stroke-width="0.5"/>
<polygon points="548.8,151.1 552.3,148.4 548.3,145.6 544.7,148.3" fill="#4dc119" stroke="#4dc119" stroke-width="0.5"/>
<polygon points="563.9,151.6 567.3,148.8 563.3,145.9 559.8,148.6" fill="#48c41b" stroke="#48c41b" stroke-width="0.5"/>
<polygon points="571.3,151.9 574.8,149.2 570.7,146.1 567.3,148.8" fill="#44c61c" stroke="#44c61c" stroke-width="0.5"/>
<polygon points="586.2,152.8 589.5,150.1 585.5,146.9 582.2,149.6" fill="#3bc91e" stroke="#3bc91e" stroke-width="0.5"/>
<polygon points="600.8,154.1 604.1,151.4 600.1,148 596.8,150.7" fill="#30cd20" stroke="#30cd20" stroke-width="0.5"/>
<polygon points="608,154.9 611.2,152.1 607.3,148.7 604.1,151.4" fill="#2acf21" stroke="#2acf21" stroke-width="0.5"/>
<polygon points="622.2,156.6 625.4,153.9 621.5,150.3 618.3,153" fill="#1bd224" stroke="#1bd224" stroke-width="0.5"/>
<polygon points="636.2,158.8 639.2,156.1 635.4,152.2 632.3,155" fill="#1bd746" stroke="#1bd746" stroke-width="0.5"/>
<polygon points="445.2,158.4 449.1,155.8 445.4,154.1 441.5,156.7" fill="#4daa15" stroke="#4daa15" stroke-width="0.5"/>
<polygon points="483.7,155.2 487.5,152.5 483.6,150.3 479.8,153" fill="#5eb216" stroke="#5eb216" stroke-width="0.5"/>
<polygon points="522.3,153.8 525.9,151.1 521.9,148.5 518.2,151.2" fill="#5dbb17" stroke="#5dbb17" stroke-width="0.5"/>
<polygon points="399.9,164.7 403.9,162.2 400.6,161 396.5,163.5" fill="#349f17" stroke="#349f17" stroke-width="0.5"/>
<polygon points="407.3,163.4 411.3,160.9 407.9,159.7 403.9,162.2" fill="#38a116" stroke="#38a116" stroke-width="0.5"/>
<polygon points="414.8,162.3 418.8,159.7 415.3,158.4 411.3,160.9" fill="#3da316" stroke="#3da316" stroke-width="0.5"/>
<polygon points="422.4,161.2 426.3,158.6 422.8,157.2 418.8,159.7" fill="#41a516" stroke="#41a516" stroke-width="0.5"/>
<polygon points="437.6,159.3 441.5,156.7 437.8,155 433.9,157.6" fill="#48a815" stroke="#48a815" stroke-width="0.5"/>
<polygon points="452.9,157.6 456.8,155 453,153.2 449.1,155.8" fill="#52ab15" stroke="#52ab15" stroke-width="0.5"/>
<polygon points="460.5,156.9 464.4,154.2 460.6,152.4 456.8,155" fill="#56ad16" stroke="#56ad16" stroke-width="0.5"/>
<polygon points="476,155.7 479.8,153 475.9,150.9 472.1,153.6" fill="#5cb016" stroke="#5cb016" stroke-width="0.5"/>
<polygon points="491.4,154.7 495.2,152.1 491.2,149.8 487.5,152.5" fill="#60b317" stroke="#60b317" stroke-width="0.5"/>
<polygon points="499.1,154.4 502.9,151.7 498.9,149.4 495.2,152.1" fill="#60b517" stroke="#60b517" stroke-width="0.5"/>
<polygon points="514.6,153.9 518.2,151.2 514.2,148.7 510.6,151.4" fill="#5fb917" stroke="#5fb917" stroke-width="0.5"/>
<polygon points="529.9,153.7 533.6,151 529.5,148.4 525.9,151.1" fill="#5abd18" stroke="#5abd18" stroke-width="0.5"/>
<polygon points="537.6,153.8 541.2,151 537.1,148.3 533.6,151" fill="#56bf18" stroke="#56bf18" stroke-width="0.5"/>
<polygon points="552.8,154.1 556.3,151.3 552.3,148.4 548.8,151.1" fill="#51c219" stroke="#51c219" stroke-width="0.5"/>
<polygon points="567.9,154.7 571.3,151.9 567.3,148.8 563.9,151.6" fill="#4ac61b" stroke="#4ac61b" stroke-width="0.5"/>
<polygon points="575.4,155.1 578.8,152.3 574.8,149.2 571.3,151.9" fill="#46c81c" stroke="#46c81c" stroke-width="0.5"/>
<polygon points="590.2,156.2 593.5,153.4 589.5,150.1 586.2,152.8" fill="#3ccb1e" stroke="#3ccb1e" stroke-width="0.5"/>
<polygon points="604.8,157.6 608,154.9 604.1,151.4 600.8,154.1" fill="#30cf20" stroke="#30cf20" stroke-width="0.5"/>
<polygon points="612,158.5 615.2,155.7 611.2,152.1 608,154.9" fill="#29d022" stroke="#29d022" stroke-width="0.5"/>
<polygon points="626.1,160.4 629.3,157.7 625.4,153.9 622.2,156.6" fill="#1bd426" stroke="#1bd426" stroke-width="0.5"/>
<polygon points="640,162.7 643,160 639.2,156.1 636.2,158.8" fill="#1bd94c" stroke="#1bd94c" stroke-width="0.5"/>
<polygon points="429.9,160.2 433.9,157.6 430.3,156.1 426.3,158.6" fill="#45a615" stroke="#45a615" stroke-width="0.5"/>
<polygon points="468.2,156.2 472.1,153.6 468.3,151.6 464.4,154.2" fill="#59ae16" stroke="#59ae16" stroke-width="0.5"/>
<polygon points="506.9,154.1 510.6,151.4 506.6,149 502.9,151.7" fill="#60b717" stroke="#60b717" stroke-width="0.5"/>
<polygon points="545.2,153.9 548.8,151.1 544.7,148.3 541.2,151" fill="#53c118" stroke="#53c118" stroke-width="0.5"/>
<polygon points="560.4,154.3 563.9,151.6 559.8,148.6 556.3,151.3" fill="#4ec41a" stroke="#4ec41a" stroke-width="0.5"/>
<polygon points="582.8,155.6 586.2,152.8 582.2,149.6 578.8,152.3" fill="#41c91d" stroke="#41c91d" stroke-width="0.5"/>
<polygon points="597.5,156.8 600.8,154.1 596.8,150.7 593.5,153.4" fill="#36cd1f" stroke="#36cd1f" stroke-width="0.5"/>
<polygon points="619.1,159.4 622.2,156.6 618.3,153 615.2,155.7" fill="#22d223" stroke="#22d223" stroke-width="0.5"/>
<polygon points="633.1,161.5 636.2,158.8 632.3,155 629.3,157.7" fill="#1bd639" stroke="#1bd639" stroke-width="0.5"/>
<polygon points="395.8,167.2 399.9,164.7 396.5,163.5 392.5,166" fill="#389f16" stroke="#389f16" stroke-width="0.5"/>
<polygon points="403.3,166 407.3,163.4 403.9,162.2 399.9,164.7" fill="#3da116" stroke="#3da116" stroke-width="0.5"/>
<polygon points="418.3,163.8 422.4,161.2 418.8,159.7 414.8,162.3" fill="#46a515" stroke="#46a515" stroke-width="0.5"/>
<polygon points="441.2,161 445.2,158.4 441.5,156.7 437.6,159.3" fill="#56a915" stroke="#56a915" stroke-width="0.5"/>
<polygon points="456.6,159.5 460.5,156.9 456.8,155 452.9,157.6" fill="#5fac16" stroke="#5fac16" stroke-width="0.5"/>
<polygon points="479.9,157.8 483.7,155.2 479.8,153 476,155.7" fill="#68b116" stroke="#68b116" stroke-width="0.5"/>
<polygon points="495.4,157.1 499.1,154.4 495.2,152.1 491.4,154.7" fill="#6ab417" stroke="#6ab417" stroke-width="0.5"/>
<polygon points="518.6,156.5 522.3,153.8 518.2,151.2 514.6,153.9" fill="#67ba17" stroke="#67ba17" stroke-width="0.5"/>
<polygon points="534,156.5 537.6,153.8 533.6,151 529.9,153.7" fill="#61be18" stroke="#61be18" stroke-width="0.5"/>
<polygon points="572,157.8 575.4,155.1 571.3,151.9 567.9,154.7" fill="#4cc81b" stroke="#4cc81b" stroke-width="0.5"/>
<polygon points="608.7,161.2 612,158.5 608,154.9 604.8,157.6" fill="#30d121" stroke="#30d121" stroke-width="0.5"/>
<polygon points="643.8,166.7 646.8,164 643,160 640,162.7" fill="#1bdb53" stroke="#1bdb53" stroke-width="0.5"/>
<polygon points="410.8,164.8 414.8,162.3 411.3,160.9 407.3,163.4" fill="#41a315" stroke="#41a315" stroke-width="0.5"/>
<polygon points="425.9,162.8 429.9,160.2 426.3,158.6 422.4,161.2" fill="#4aa615" stroke="#4aa615" stroke-width="0.5"/>
<polygon points="433.6,161.9 437.6,159.3 433.9,157.6 429.9,160.2" fill="#50a815" stroke="#50a815" stroke-width="0.5"/>
<polygon points="448.9,160.2 452.9,157.6 449.1,155.8 445.2,158.4" fill="#5bab15" stroke="#5bab15" stroke-width="0.5"/>
<polygon points="464.4,158.9 468.2,156.2 464.4,154.2 460.5,156.9" fill="#63ae16" stroke="#63ae16" stroke-width="0.5"/>
<polygon points="472.1,158.3 476,155.7 472.1,153.6 468.2,156.2" fill="#66af16" stroke="#66af16" stroke-width="0.5"/>
<polygon points="487.6,157.4 491.4,154.7 487.5,152.5 483.7,155.2" fill="#69b317" stroke="#69b317" stroke-width="0.5"/>
<polygon points="503.1,156.8 506.9,154.1 502.9,151.7 499.1,154.4" fill="#6ab617" stroke="#6ab617" stroke-width="0.5"/>
<polygon points="510.9,156.6 514.6,153.9 510.6,151.4 506.9,154.1" fill="#69b817" stroke="#69b817" stroke-width="0.5"/>
<polygon points="526.3,156.5 529.9,153.7 525.9,151.1 522.3,153.8" fill="#65bc18" stroke="#65bc18" stroke-width="0.5"/>
<polygon points="541.6,156.6 545.2,153.9 541.2,151 537.6,153.8" fill="#5dc018" stroke="#5dc018" stroke-width="0.5"/>
<polygon points="549.3,156.8 552.8,154.1 548.8,151.1 545.2,153.9" fill="#57c218" stroke="#57c218" stroke-width="0.5"/>
<polygon points="556.9,157.1 560.4,154.3 556.3,151.3 552.8,154.1" fill="#53c419" stroke="#53c419" stroke-width="0.5"/>
<polygon points="564.4,157.4 567.9,154.7 563.9,151.6 560.4,154.3" fill="#50c61a" stroke="#50c61a" stroke-width="0.5"/>
<polygon points="579.4,158.3 582.8,155.6 578.8,152.3 575.4,155.1" fill="#47c91c" stroke="#47c91c" stroke-width="0.5"/>
<polygon points="586.8,158.9 590.2,156.2 586.2,152.8 582.8,155.6" fill="#42cb1d" stroke="#42cb1d" stroke-width="0.5"/>
<polygon points="594.2,159.6 597.5,156.8 593.5,153.4 590.2,156.2" fill="#3dcd1e" stroke="#3dcd1e" stroke-width="0.5"/>
<polygon points="601.5,160.4 604.8,157.6 600.8,154.1 597.5,156.8" fill="#36cf1f" stroke="#36cf1f" stroke-width="0.5"/>
<polygon points="615.9,162.1 619.1,159.4 615.2,155.7 612,158.5" fill="#28d222" stroke="#28d222" stroke-width="0.5"/>
<polygon points="623,163.2 626.1,160.4 622.2,156.6 619.1,159.4" fill="#20d424" stroke="#20d424" stroke-width="0.5"/>
<polygon points="630,164.3 633.1,161.5 629.3,157.7 626.1,160.4" fill="#1bd62c" stroke="#1bd62c" stroke-width="0.5"/>
<polygon points="636.9,165.5 640,162.7 636.2,158.8 633.1,161.5" fill="#1bd83f" stroke="#1bd83f" stroke-width="0.5"/>
<polygon points="399.2,168.5 403.3,166 399.9,164.7 395.8,167.2" fill="#41a115" stroke="#41a115" stroke-width="0.5"/>
<polygon points="391.7,169.7 395.8,167.2 392.5,166 388.4,168.5" fill="#3c9f15" stroke="#3c9f15" stroke-width="0.5"/>
<polygon points="406.7,167.4 410.8,164.8 407.3,163.4 403.3,166" fill="#46a315" stroke="#46a315" stroke-width="0.5"/>
<polygon points="414.3,166.4 418.3,163.8 414.8,162.3 410.8,164.8" fill="#4ca415" stroke="#4ca415" stroke-width="0.5"/>
<polygon points="421.9,165.4 425.9,162.8 422.4,161.2 418.3,163.8" fill="#53a615" stroke="#53a615" stroke-width="0.5"/>
<polygon points="429.6,164.5 433.6,161.9 429.9,160.2 425.9,162.8" fill="#59a715" stroke="#59a715" stroke-width="0.5"/>
<polygon points="437.3,163.6 441.2,161 437.6,159.3 433.6,161.9" fill="#5fa915" stroke="#5fa915" stroke-width="0.5"/>
<polygon points="445,162.9 448.9,160.2 445.2,158.4 441.2,161" fill="#64aa15" stroke="#64aa15" stroke-width="0.5"/>
<polygon points="452.7,162.2 456.6,159.5 452.9,157.6 448.9,160.2" fill="#68ac16" stroke="#68ac16" stroke-width="0.5"/>
<polygon points="460.5,161.6 464.4,158.9 460.5,156.9 456.6,159.5" fill="#6cad16" stroke="#6cad16" stroke-width="0.5"/>
<polygon points="468.2,161 472.1,158.3 468.2,156.2 464.4,158.9" fill="#6faf16" stroke="#6faf16" stroke-width="0.5"/>
<polygon points="476,160.5 479.9,157.8 476,155.7 472.1,158.3" fill="#72b016" stroke="#72b016" stroke-width="0.5"/>
<polygon points="483.8,160.1 487.6,157.4 483.7,155.2 479.9,157.8" fill="#73b217" stroke="#73b217" stroke-width="0.5"/>
<polygon points="491.6,159.8 495.4,157.1 491.4,154.7 487.6,157.4" fill="#74b417" stroke="#74b417" stroke-width="0.5"/>
<polygon points="499.4,159.5 503.1,156.8 499.1,154.4 495.4,157.1" fill="#74b617" stroke="#74b617" stroke-width="0.5"/>
<polygon points="507.1,159.4 510.9,156.6 506.9,154.1 503.1,156.8" fill="#73b717" stroke="#73b717" stroke-width="0.5"/>
<polygon points="514.9,159.2 518.6,156.5 514.6,153.9 510.9,156.6" fill="#72b917" stroke="#72b917" stroke-width="0.5"/>
<polygon points="522.6,159.2 526.3,156.5 522.3,153.8 518.6,156.5" fill="#6fbb18" stroke="#6fbb18" stroke-width="0.5"/>
<polygon points="530.3,159.3 534,156.5 529.9,153.7 526.3,156.5" fill="#6cbd18" stroke="#6cbd18" stroke-width="0.5"/>
<polygon points="538,159.4 541.6,156.6 537.6,153.8 534,156.5" fill="#67bf18" stroke="#67bf18" stroke-width="0.5"/>
<polygon points="545.7,159.6 549.3,156.8 545.2,153.9 541.6,156.6" fill="#62c218" stroke="#62c218" stroke-width="0.5"/>
<polygon points="553.3,159.8 556.9,157.1 552.8,154.1 549.3,156.8" fill="#5cc419" stroke="#5cc419" stroke-width="0.5"/>
<polygon points="560.9,160.2 564.4,157.4 560.4,154.3 556.9,157.1" fill="#56c619" stroke="#56c619" stroke-width="0.5"/>
<polygon points="568.5,160.6 572,157.8 567.9,154.7 564.4,157.4" fill="#52c81a" stroke="#52c81a" stroke-width="0.5"/>
<polygon points="576,161.1 579.4,158.3 575.4,155.1 572,157.8" fill="#4dca1b" stroke="#4dca1b" stroke-width="0.5"/>
<polygon points="583.5,161.7 586.8,158.9 582.8,155.6 579.4,158.3" fill="#48cb1c" stroke="#48cb1c" stroke-width="0.5"/>
<polygon points="590.9,162.4 594.2,159.6 590.2,156.2 586.8,158.9" fill="#43cd1d" stroke="#43cd1d" stroke-width="0.5"/>
<polygon points="598.2,163.1 601.5,160.4 597.5,156.8 594.2,159.6" fill="#3dcf1e" stroke="#3dcf1e" stroke-width="0.5"/>
<polygon points="605.5,164 608.7,161.2 604.8,157.6 601.5,160.4" fill="#36d120" stroke="#36d120" stroke-width="0.5"/>
<polygon points="612.7,164.9 615.9,162.1 612,158.5 608.7,161.2" fill="#2ed221" stroke="#2ed221" stroke-width="0.5"/>
<polygon points="619.8,165.9 623,163.2 619.1,159.4 615.9,162.1" fill="#27d423" stroke="#27d423" stroke-width="0.5"/>
<polygon points="626.9,167 630,164.3 626.1,160.4 623,163.2" fill="#1ed624" stroke="#1ed624" stroke-width="0.5"/>
<polygon points="633.9,168.2 636.9,165.5 633.1,161.5 630,164.3" fill="#1bd832" stroke="#1bd832" stroke-width="0.5"/>
<polygon points="640.7,169.5 643.8,166.7 640,162.7 636.9,165.5" fill="#1bda46" stroke="#1bda46" stroke-width="0.5"/>
<polygon points="647.5,170.9 650.5,168.1 646.8,164 643.8,166.7" fill="#1bdd5c" stroke="#1bdd5c" stroke-width="0.5"/>
<polygon points="387.6,172.3 391.7,169.7 388.4,168.5 384.3,171" fill="#419f15" stroke="#419f15" stroke-width="0.5"/>
<polygon points="395.1,171.1 399.2,168.5 395.8,167.2 391.7,169.7" fill="#46a114" stroke="#46a114" stroke-width="0.5"/>
<polygon points="402.6,170 406.7,167.4 403.3,166 399.2,168.5" fill="#4da314" stroke="#4da314" stroke-width="0.5"/>
<polygon points="410.2,169 414.3,166.4 410.8,164.8 406.7,167.4" fill="#54a415" stroke="#54a415" stroke-width="0.5"/>
<polygon points="425.6,167.1 429.6,164.5 425.9,162.8 421.9,165.4" fill="#62a715" stroke="#62a715" stroke-width="0.5"/>
<polygon points="433.3,166.3 437.3,163.6 433.6,161.9 429.6,164.5" fill="#68a815" stroke="#68a815" stroke-width="0.5"/>
<polygon points="441,165.5 445,162.9 441.2,161 437.3,163.6" fill="#6da915" stroke="#6da915" stroke-width="0.5"/>
<polygon points="448.8,164.8 452.7,162.2 448.9,160.2 445,162.9" fill="#72ab16" stroke="#72ab16" stroke-width="0.5"/>
<polygon points="456.5,164.2 460.5,161.6 456.6,159.5 452.7,162.2" fill="#76ac16" stroke="#76ac16" stroke-width="0.5"/>
<polygon points="464.3,163.7 468.2,161 464.4,158.9 460.5,161.6" fill="#79ae16" stroke="#79ae16" stroke-width="0.5"/>
<polygon points="472.1,163.2 476,160.5 472.1,158.3 468.2,161" fill="#7bb016" stroke="#7bb016" stroke-width="0.5"/>
<polygon points="479.9,162.8 483.8,160.1 479.9,157.8 476,160.5" fill="#7db117" stroke="#7db117" stroke-width="0.5"/>
<polygon points="487.8,162.5 491.6,159.8 487.6,157.4 483.8,160.1" fill="#7eb317" stroke="#7eb317" stroke-width="0.5"/>
<polygon points="495.6,162.3 499.4,159.5 495.4,157.1 491.6,159.8" fill="#7eb517" stroke="#7eb517" stroke-width="0.5"/>
<polygon points="503.4,162.1 507.1,159.4 503.1,156.8 499.4,159.5" fill="#7db717" stroke="#7db717" stroke-width="0.5"/>
<polygon points="511.2,162 514.9,159.2 510.9,156.6 507.1,159.4" fill="#7cb917" stroke="#7cb917" stroke-width="0.5"/>
<polygon points="518.9,162 522.6,159.2 518.6,156.5 514.9,159.2" fill="#79bb18" stroke="#79bb18" stroke-width="0.5"/>
<polygon points="526.7,162 530.3,159.3 526.3,156.5 522.6,159.2" fill="#76bd18" stroke="#76bd18" stroke-width="0.5"/>
<polygon points="534.4,162.1 538,159.4 534,156.5 530.3,159.3" fill="#72bf18" stroke="#72bf18" stroke-width="0.5"/>
<polygon points="542.1,162.3 545.7,159.6 541.6,156.6 538,159.4" fill="#6dc118" stroke="#6dc118" stroke-width="0.5"/>
<polygon points="557.4,163 560.9,160.2 556.9,157.1 553.3,159.8" fill="#60c519" stroke="#60c519" stroke-width="0.5"/>
<polygon points="565,163.4 568.5,160.6 564.4,157.4 560.9,160.2" fill="#58c819" stroke="#58c819" stroke-width="0.5"/>
<polygon points="572.5,163.9 576,161.1 572,157.8 568.5,160.6" fill="#53ca1a" stroke="#53ca1a" stroke-width="0.5"/>
<polygon points="580,164.5 583.5,161.7 579.4,158.3 576,161.1" fill="#4ecb1b" stroke="#4ecb1b" stroke-width="0.5"/>
<polygon points="594.9,165.9 598.2,163.1 594.2,159.6 590.9,162.4" fill="#43cf1e" stroke="#43cf1e" stroke-width="0.5"/>
<polygon points="602.2,166.8 605.5,164 601.5,160.4 598.2,163.1" fill="#3cd11f" stroke="#3cd11f" stroke-width="0.5"/>
<polygon points="609.4,167.7 612.7,164.9 608.7,161.2 605.5,164" fill="#35d220" stroke="#35d220" stroke-width="0.5"/>
<polygon points="616.6,168.7 619.8,165.9 615.9,162.1 612.7,164.9" fill="#2dd422" stroke="#2dd422" stroke-width="0.5"/>
<polygon points="630.7,171 633.9,168.2 630,164.3 626.9,167" fill="#1bd825" stroke="#1bd825" stroke-width="0.5"/>
<polygon points="637.7,172.3 640.7,169.5 636.9,165.5 633.9,168.2" fill="#1bda39" stroke="#1bda39" stroke-width="0.5"/>
<polygon points="644.5,173.6 647.5,170.9 643.8,166.7 640.7,169.5" fill="#1bdc4e" stroke="#1bdc4e" stroke-width="0.5"/>
<polygon points="651.3,175.1 654.3,172.3 650.5,168.1 647.5,170.9" fill="#1cdf65" stroke="#1cdf65" stroke-width="0.5"/>
<polygon points="417.9,168 421.9,165.4 418.3,163.8 414.3,166.4" fill="#5ca515" stroke="#5ca515" stroke-width="0.5"/>
<polygon points="549.8,162.6 553.3,159.8 549.3,156.8 545.7,159.6" fill="#67c319" stroke="#67c319" stroke-width="0.5"/>
<polygon points="587.5,165.2 590.9,162.4 586.8,158.9 583.5,161.7" fill="#49cd1c" stroke="#49cd1c" stroke-width="0.5"/>
<polygon points="623.7,169.8 626.9,167 623,163.2 619.8,165.9" fill="#24d623" stroke="#24d623" stroke-width="0.5"/>
<polygon points="391,173.7 395.1,171.1 391.7,169.7 387.6,172.3" fill="#4da114" stroke="#4da114" stroke-width="0.5"/>
<polygon points="406.1,171.6 410.2,169 406.7,167.4 402.6,170" fill="#5da315" stroke="#5da315" stroke-width="0.5"/>
<polygon points="429.2,168.9 433.3,166.3 429.6,164.5 425.6,167.1" fill="#71a715" stroke="#71a715" stroke-width="0.5"/>
<polygon points="444.8,167.5 448.8,164.8 445,162.9 441,165.5" fill="#7baa16" stroke="#7baa16" stroke-width="0.5"/>
<polygon points="460.4,166.4 464.3,163.7 460.5,161.6 456.5,164.2" fill="#82ad16" stroke="#82ad16" stroke-width="0.5"/>
<polygon points="468.2,166 472.1,163.2 468.2,161 464.3,163.7" fill="#85af16" stroke="#85af16" stroke-width="0.5"/>
<polygon points="483.9,165.3 487.8,162.5 483.8,160.1 479.9,162.8" fill="#88b217" stroke="#88b217" stroke-width="0.5"/>
<polygon points="499.6,164.9 503.4,162.1 499.4,159.5 495.6,162.3" fill="#87b617" stroke="#87b617" stroke-width="0.5"/>
<polygon points="507.4,164.8 511.2,162 507.1,159.4 503.4,162.1" fill="#86b817" stroke="#86b817" stroke-width="0.5"/>
<polygon points="523,164.8 526.7,162 522.6,159.2 518.9,162" fill="#81bc18" stroke="#81bc18" stroke-width="0.5"/>
<polygon points="538.5,165.1 542.1,162.3 538,159.4 534.4,162.1" fill="#78c018" stroke="#78c018" stroke-width="0.5"/>
<polygon points="561.5,166.2 565,163.4 560.9,160.2 557.4,163" fill="#63c719" stroke="#63c719" stroke-width="0.5"/>
<polygon points="576.6,167.3 580,164.5 576,161.1 572.5,163.9" fill="#54cb1a" stroke="#54cb1a" stroke-width="0.5"/>
<polygon points="598.9,169.6 602.2,166.8 598.2,163.1 594.9,165.9" fill="#42d11e" stroke="#42d11e" stroke-width="0.5"/>
<polygon points="613.4,171.5 616.6,168.7 612.7,164.9 609.4,167.7" fill="#33d421" stroke="#33d421" stroke-width="0.5"/>
<polygon points="634.6,175 637.7,172.3 633.9,168.2 630.7,171" fill="#1bda2c" stroke="#1bda2c" stroke-width="0.5"/>
<polygon points="648.3,177.8 651.3,175.1 647.5,170.9 644.5,173.6" fill="#1cde58" stroke="#1cde58" stroke-width="0.5"/>
<polygon points="383.4,174.8 387.6,172.3 384.3,171 380.1,173.5" fill="#459f14" stroke="#459f14" stroke-width="0.5"/>
<polygon points="398.5,172.6 402.6,170 399.2,168.5 395.1,171.1" fill="#55a214" stroke="#55a214" stroke-width="0.5"/>
<polygon points="413.8,170.6 417.9,168 414.3,166.4 410.2,169" fill="#64a515" stroke="#64a515" stroke-width="0.5"/>
<polygon points="421.5,169.7 425.6,167.1 421.9,165.4 417.9,168" fill="#6ba615" stroke="#6ba615" stroke-width="0.5"/>
<polygon points="437,168.2 441,165.5 437.3,163.6 433.3,166.3" fill="#76a915" stroke="#76a915" stroke-width="0.5"/>
<polygon points="452.6,166.9 456.5,164.2 452.7,162.2 448.8,164.8" fill="#7fac16" stroke="#7fac16" stroke-width="0.5"/>
<polygon points="476.1,165.6 479.9,162.8 476,160.5 472.1,163.2" fill="#87b117" stroke="#87b117" stroke-width="0.5"/>
<polygon points="491.7,165 495.6,162.3 491.6,159.8 487.8,162.5" fill="#88b417" stroke="#88b417" stroke-width="0.5"/>
<polygon points="515.2,164.7 518.9,162 514.9,159.2 511.2,162" fill="#84ba18" stroke="#84ba18" stroke-width="0.5"/>
<polygon points="530.7,164.9 534.4,162.1 530.3,159.3 526.7,162" fill="#7dbe18" stroke="#7dbe18" stroke-width="0.5"/>
<polygon points="546.2,165.4 549.8,162.6 545.7,159.6 542.1,162.3" fill="#72c219" stroke="#72c219" stroke-width="0.5"/>
<polygon points="553.9,165.8 557.4,163 553.3,159.8 549.8,162.6" fill="#6bc519" stroke="#6bc519" stroke-width="0.5"/>
<polygon points="569.1,166.7 572.5,163.9 568.5,160.6 565,163.4" fill="#5ac919" stroke="#5ac919" stroke-width="0.5"/>
<polygon points="584.1,168 587.5,165.2 583.5,161.7 580,164.5" fill="#4fcd1b" stroke="#4fcd1b" stroke-width="0.5"/>
<polygon points="591.5,168.7 594.9,165.9 590.9,162.4 587.5,165.2" fill="#49cf1d" stroke="#49cf1d" stroke-width="0.5"/>
<polygon points="606.2,170.5 609.4,167.7 605.5,164 602.2,166.8" fill="#3bd21f" stroke="#3bd21f" stroke-width="0.5"/>
<polygon points="620.5,172.6 623.7,169.8 619.8,165.9 616.6,168.7" fill="#2bd622" stroke="#2bd622" stroke-width="0.5"/>
<polygon points="627.6,173.8 630.7,171 626.9,167 623.7,169.8" fill="#22d824" stroke="#22d824" stroke-width="0.5"/>
<polygon points="641.5,176.4 644.5,173.6 640.7,169.5 637.7,172.3" fill="#1bdc41" stroke="#1bdc41" stroke-width="0.5"/>
<polygon points="655,179.4 657.9,176.6 654.3,172.3 651.3,175.1" fill="#1ce170" stroke="#1ce170" stroke-width="0.5"/>
<polygon points="464.3,168.7 468.2,166 464.3,163.7 460.4,166.4" fill="#8eae16" stroke="#8eae16" stroke-width="0.5"/>
<polygon points="503.6,167.5 507.4,164.8 503.4,162.1 499.6,164.9" fill="#90b717" stroke="#90b717" stroke-width="0.5"/>
<polygon points="379.3,177.4 383.4,174.8 380.1,173.5 376,176.1" fill="#4c9f14" stroke="#4c9f14" stroke-width="0.5"/>
<polygon points="386.8,176.2 391,173.7 387.6,172.3 383.4,174.8" fill="#55a014" stroke="#55a014" stroke-width="0.5"/>
<polygon points="394.4,175.2 398.5,172.6 395.1,171.1 391,173.7" fill="#5ea114" stroke="#5ea114" stroke-width="0.5"/>
<polygon points="402,174.2 406.1,171.6 402.6,170 398.5,172.6" fill="#66a315" stroke="#66a315" stroke-width="0.5"/>
<polygon points="409.7,173.2 413.8,170.6 410.2,169 406.1,171.6" fill="#6da415" stroke="#6da415" stroke-width="0.5"/>
<polygon points="417.4,172.4 421.5,169.7 417.9,168 413.8,170.6" fill="#74a515" stroke="#74a515" stroke-width="0.5"/>
<polygon points="425.2,171.6 429.2,168.9 425.6,167.1 421.5,169.7" fill="#7aa715" stroke="#7aa715" stroke-width="0.5"/>
<polygon points="433,170.9 437,168.2 433.3,166.3 429.2,168.9" fill="#7fa815" stroke="#7fa815" stroke-width="0.5"/>
<polygon points="440.8,170.2 444.8,167.5 441,165.5 437,168.2" fill="#84aa16" stroke="#84aa16" stroke-width="0.5"/>
<polygon points="456.4,169.1 460.4,166.4 456.5,164.2 452.6,166.9" fill="#8cad16" stroke="#8cad16" stroke-width="0.5"/>
<polygon points="472.2,168.3 476.1,165.6 472.1,163.2 468.2,166" fill="#90b017" stroke="#90b017" stroke-width="0.5"/>
<polygon points="480,168 483.9,165.3 479.9,162.8 476.1,165.6" fill="#92b217" stroke="#92b217" stroke-width="0.5"/>
<polygon points="495.8,167.6 499.6,164.9 495.6,162.3 491.7,165" fill="#92b517" stroke="#92b517" stroke-width="0.5"/>
<polygon points="511.4,167.5 515.2,164.7 511.2,162 507.4,164.8" fill="#8eb918" stroke="#8eb918" stroke-width="0.5"/>
<polygon points="519.3,167.6 523,164.8 518.9,162 515.2,164.7" fill="#8bbb18" stroke="#8bbb18" stroke-width="0.5"/>
<polygon points="534.8,167.9 538.5,165.1 534.4,162.1 530.7,164.9" fill="#82c018" stroke="#82c018" stroke-width="0.5"/>
<polygon points="550.3,168.6 553.9,165.8 549.8,162.6 546.2,165.4" fill="#76c419" stroke="#76c419" stroke-width="0.5"/>
<polygon points="557.9,169 561.5,166.2 557.4,163 553.9,165.8" fill="#6ec619" stroke="#6ec619" stroke-width="0.5"/>
<polygon points="573.1,170.1 576.6,167.3 572.5,163.9 569.1,166.7" fill="#5bcb19" stroke="#5bcb19" stroke-width="0.5"/>
<polygon points="588.1,171.5 591.5,168.7 587.5,165.2 584.1,168" fill="#4fcf1c" stroke="#4fcf1c" stroke-width="0.5"/>
<polygon points="595.5,172.4 598.9,169.6 594.9,165.9 591.5,168.7" fill="#49d11d" stroke="#49d11d" stroke-width="0.5"/>
<polygon points="610.1,174.3 613.4,171.5 609.4,167.7 606.2,170.5" fill="#3ad420" stroke="#3ad420" stroke-width="0.5"/>
<polygon points="624.4,176.6 627.6,173.8 623.7,169.8 620.5,172.6" fill="#28d823" stroke="#28d823" stroke-width="0.5"/>
<polygon points="631.4,177.8 634.6,175 630.7,171 627.6,173.8" fill="#1fd925" stroke="#1fd925" stroke-width="0.5"/>
<polygon points="645.2,180.6 648.3,177.8 644.5,173.6 641.5,176.4" fill="#1cde4a" stroke="#1cde4a" stroke-width="0.5"/>
<polygon points="658.7,183.8 661.6,181 657.9,176.6 655,179.4" fill="#1ce37c" stroke="#1ce37c" stroke-width="0.5"/>
<polygon points="448.6,169.6 452.6,166.9 448.8,164.8 444.8,167.5" fill="#88ab16" stroke="#88ab16" stroke-width="0.5"/>
<polygon points="487.9,167.8 491.7,165 487.8,162.5 483.9,165.3" fill="#92b417" stroke="#92b417" stroke-width="0.5"/>
<polygon points="527.1,167.7 530.7,164.9 526.7,162 523,164.8" fill="#87bd18" stroke="#87bd18" stroke-width="0.5"/>
<polygon points="542.6,168.2 546.2,165.4 542.1,162.3 538.5,165.1" fill="#7dc219" stroke="#7dc219" stroke-width="0.5"/>
<polygon points="565.6,169.5 569.1,166.7 565,163.4 561.5,166.2" fill="#65c919" stroke="#65c919" stroke-width="0.5"/>
<polygon points="580.6,170.8 584.1,168 580,164.5 576.6,167.3" fill="#55cd1a" stroke="#55cd1a" stroke-width="0.5"/>
<polygon points="602.8,173.3 606.2,170.5 602.2,166.8 598.9,169.6" fill="#41d21e" stroke="#41d21e" stroke-width="0.5"/>
<polygon points="617.3,175.4 620.5,172.6 616.6,168.7 613.4,171.5" fill="#31d622" stroke="#31d622" stroke-width="0.5"/>
<polygon points="638.4,179.2 641.5,176.4 637.7,172.3 634.6,175" fill="#1bdc34" stroke="#1bdc34" stroke-width="0.5"/>
<polygon points="652,182.2 655,179.4 651.3,175.1 648.3,177.8" fill="#1ce162" stroke="#1ce162" stroke-width="0.5"/>
<polygon points="375.1,180 379.3,177.4 376,176.1 371.8,178.6" fill="#549f14" stroke="#549f14" stroke-width="0.5"/>
<polygon points="382.6,178.8 386.8,176.2 383.4,174.8 379.3,177.4" fill="#5da014" stroke="#5da014" stroke-width="0.5"/>
<polygon points="397.9,176.8 402,174.2 398.5,172.6 394.4,175.2" fill="#6ea215" stroke="#6ea215" stroke-width="0.5"/>
<polygon points="413.3,175 417.4,172.4 413.8,170.6 409.7,173.2" fill="#7ca515" stroke="#7ca515" stroke-width="0.5"/>
<polygon points="421.1,174.3 425.2,171.6 421.5,169.7 417.4,172.4" fill="#83a615" stroke="#83a615" stroke-width="0.5"/>
<polygon points="436.7,172.9 440.8,170.2 437,168.2 433,170.9" fill="#8da916" stroke="#8da916" stroke-width="0.5"/>
<polygon points="460.3,171.4 464.3,168.7 460.4,166.4 456.4,169.1" fill="#98ae16" stroke="#98ae16" stroke-width="0.5"/>
<polygon points="476.1,170.8 480,168 476.1,165.6 472.2,168.3" fill="#9bb117" stroke="#9bb117" stroke-width="0.5"/>
<polygon points="499.8,170.3 503.6,167.5 499.6,164.9 495.8,167.6" fill="#9ab717" stroke="#9ab717" stroke-width="0.5"/>
<polygon points="515.5,170.4 519.3,167.6 515.2,164.7 511.4,167.5" fill="#96bb18" stroke="#96bb18" stroke-width="0.5"/>
<polygon points="554.4,171.8 557.9,169 553.9,165.8 550.3,168.6" fill="#79c619" stroke="#79c619" stroke-width="0.5"/>
<polygon points="592.1,175.2 595.5,172.4 591.5,168.7 588.1,171.5" fill="#4fd11c" stroke="#4fd11c" stroke-width="0.5"/>
<polygon points="628.3,180.6 631.4,177.8 627.6,173.8 624.4,176.6" fill="#25d924" stroke="#25d924" stroke-width="0.5"/>
<polygon points="662.3,188.3 665.2,185.5 661.6,181 658.7,183.8" fill="#1ce589" stroke="#1ce589" stroke-width="0.5"/>
<polygon points="390.2,177.8 394.4,175.2 391,173.7 386.8,176.2" fill="#66a114" stroke="#66a114" stroke-width="0.5"/>
<polygon points="405.6,175.9 409.7,173.2 406.1,171.6 402,174.2" fill="#76a415" stroke="#76a415" stroke-width="0.5"/>
<polygon points="428.9,173.5 433,170.9 429.2,168.9 425.2,171.6" fill="#88a815" stroke="#88a815" stroke-width="0.5"/>
<polygon points="444.6,172.3 448.6,169.6 444.8,167.5 440.8,170.2" fill="#91ab16" stroke="#91ab16" stroke-width="0.5"/>
<polygon points="452.5,171.8 456.4,169.1 452.6,166.9 448.6,169.6" fill="#95ac16" stroke="#95ac16" stroke-width="0.5"/>
<polygon points="468.2,171.1 472.2,168.3 468.2,166 464.3,168.7" fill="#9aaf17" stroke="#9aaf17" stroke-width="0.5"/>
<polygon points="484,170.5 487.9,167.8 483.9,165.3 480,168" fill="#9cb317" stroke="#9cb317" stroke-width="0.5"/>
<polygon points="491.9,170.4 495.8,167.6 491.7,165 487.9,167.8" fill="#9cb517" stroke="#9cb517" stroke-width="0.5"/>
<polygon points="507.7,170.3 511.4,167.5 507.4,164.8 503.6,167.5" fill="#98b918" stroke="#98b918" stroke-width="0.5"/>
<polygon points="523.3,170.5 527.1,167.7 523,164.8 519.3,167.6" fill="#92bd18" stroke="#92bd18" stroke-width="0.5"/>
<polygon points="531.1,170.7 534.8,167.9 530.7,164.9 527.1,167.7" fill="#8dbf18" stroke="#8dbf18" stroke-width="0.5"/>
<polygon points="538.9,171 542.6,168.2 538.5,165.1 534.8,167.9" fill="#87c119" stroke="#87c119" stroke-width="0.5"/>
<polygon points="546.7,171.4 550.3,168.6 546.2,165.4 542.6,168.2" fill="#81c319" stroke="#81c319" stroke-width="0.5"/>
<polygon points="562,172.3 565.6,169.5 561.5,166.2 557.9,169" fill="#71c819" stroke="#71c819" stroke-width="0.5"/>
<polygon points="569.6,172.9 573.1,170.1 569.1,166.7 565.6,169.5" fill="#67ca19" stroke="#67ca19" stroke-width="0.5"/>
<polygon points="577.2,173.6 580.6,170.8 576.6,167.3 573.1,170.1" fill="#5ccd1a" stroke="#5ccd1a" stroke-width="0.5"/>
<polygon points="584.7,174.4 588.1,171.5 584.1,168 580.6,170.8" fill="#55cf1b" stroke="#55cf1b" stroke-width="0.5"/>
<polygon points="599.5,176.1 602.8,173.3 598.9,169.6 595.5,172.4" fill="#48d21d" stroke="#48d21d" stroke-width="0.5"/>
<polygon points="606.8,177.1 610.1,174.3 606.2,170.5 602.8,173.3" fill="#40d41f" stroke="#40d41f" stroke-width="0.5"/>
<polygon points="614.1,178.2 617.3,175.4 613.4,171.5 610.1,174.3" fill="#38d621" stroke="#38d621" stroke-width="0.5"/>
<polygon points="621.2,179.4 624.4,176.6 620.5,172.6 617.3,175.4" fill="#2fd822" stroke="#2fd822" stroke-width="0.5"/>
<polygon points="635.3,182 638.4,179.2 634.6,175 631.4,177.8" fill="#1bdb27" stroke="#1bdb27" stroke-width="0.5"/>
<polygon points="642.2,183.4 645.2,180.6 641.5,176.4 638.4,179.2" fill="#1cde3d" stroke="#1cde3d" stroke-width="0.5"/>
<polygon points="649,184.9 652,182.2 648.3,177.8 645.2,180.6" fill="#1ce055" stroke="#1ce055" stroke-width="0.5"/>
<polygon points="655.7,186.6 658.7,183.8 655,179.4 652,182.2" fill="#1ce36e" stroke="#1ce36e" stroke-width="0.5"/>
<polygon points="378.4,181.4 382.6,178.8 379.3,177.4 375.1,180" fill="#669f14" stroke="#669f14" stroke-width="0.5"/>
<polygon points="417,176.9 421.1,174.3 417.4,172.4 413.3,175" fill="#8ba615" stroke="#8ba615" stroke-width="0.5"/>
<polygon points="370.8,182.5 375.1,180 371.8,178.6 367.5,181.1" fill="#5c9e14" stroke="#5c9e14" stroke-width="0.5"/>
<polygon points="386,180.4 390.2,177.8 386.8,176.2 382.6,178.8" fill="#6ea014" stroke="#6ea014" stroke-width="0.5"/>
<polygon points="393.7,179.4 397.9,176.8 394.4,175.2 390.2,177.8" fill="#77a215" stroke="#77a215" stroke-width="0.5"/>
<polygon points="401.4,178.5 405.6,175.9 402,174.2 397.9,176.8" fill="#7ea315" stroke="#7ea315" stroke-width="0.5"/>
<polygon points="409.2,177.7 413.3,175 409.7,173.2 405.6,175.9" fill="#85a415" stroke="#85a415" stroke-width="0.5"/>
<polygon points="424.8,176.2 428.9,173.5 425.2,171.6 421.1,174.3" fill="#91a715" stroke="#91a715" stroke-width="0.5"/>
<polygon points="432.7,175.6 436.7,172.9 433,170.9 428.9,173.5" fill="#96a916" stroke="#96a916" stroke-width="0.5"/>
<polygon points="440.5,175.1 444.6,172.3 440.8,170.2 436.7,172.9" fill="#9baa16" stroke="#9baa16" stroke-width="0.5"/>
<polygon points="448.4,174.6 452.5,171.8 448.6,169.6 444.6,172.3" fill="#9eac16" stroke="#9eac16" stroke-width="0.5"/>
<polygon points="456.4,174.2 460.3,171.4 456.4,169.1 452.5,171.8" fill="#a1ad16" stroke="#a1ad16" stroke-width="0.5"/>
<polygon points="464.3,173.8 468.2,171.1 464.3,168.7 460.3,171.4" fill="#a4af17" stroke="#a4af17" stroke-width="0.5"/>
<polygon points="472.2,173.5 476.1,170.8 472.2,168.3 468.2,171.1" fill="#a5b117" stroke="#a5b117" stroke-width="0.5"/>
<polygon points="480.1,173.3 484,170.5 480,168 476.1,170.8" fill="#a6b217" stroke="#a6b217" stroke-width="0.5"/>
<polygon points="488,173.2 491.9,170.4 487.9,167.8 484,170.5" fill="#a6b417" stroke="#a6b417" stroke-width="0.5"/>
<polygon points="495.9,173.1 499.8,170.3 495.8,167.6 491.9,170.4" fill="#a5b617" stroke="#a5b617" stroke-width="0.5"/>
<polygon points="503.8,173.1 507.7,170.3 503.6,167.5 499.8,170.3" fill="#a3b818" stroke="#a3b818" stroke-width="0.5"/>
<polygon points="511.7,173.2 515.5,170.4 511.4,167.5 507.7,170.3" fill="#a0ba18" stroke="#a0ba18" stroke-width="0.5"/>
<polygon points="519.6,173.3 523.3,170.5 519.3,167.6 515.5,170.4" fill="#9cbc18" stroke="#9cbc18" stroke-width="0.5"/>
<polygon points="527.4,173.6 531.1,170.7 527.1,167.7 523.3,170.5" fill="#98be18" stroke="#98be18" stroke-width="0.5"/>
<polygon points="543,174.2 546.7,171.4 542.6,168.2 538.9,171" fill="#8cc319" stroke="#8cc319" stroke-width="0.5"/>
<polygon points="550.8,174.7 554.4,171.8 550.3,168.6 546.7,171.4" fill="#84c519" stroke="#84c519" stroke-width="0.5"/>
<polygon points="558.4,175.2 562,172.3 557.9,169 554.4,171.8" fill="#7cc719" stroke="#7cc719" stroke-width="0.5"/>
<polygon points="566.1,175.8 569.6,172.9 565.6,169.5 562,172.3" fill="#72ca19" stroke="#72ca19" stroke-width="0.5"/>
<polygon points="581.2,177.2 584.7,174.4 580.6,170.8 577.2,173.6" fill="#5ccf1a" stroke="#5ccf1a" stroke-width="0.5"/>
<polygon points="588.7,178 592.1,175.2 588.1,171.5 584.7,174.4" fill="#55d11b" stroke="#55d11b" stroke-width="0.5"/>
<polygon points="596.1,178.9 599.5,176.1 595.5,172.4 592.1,175.2" fill="#4ed21d" stroke="#4ed21d" stroke-width="0.5"/>
<polygon points="603.5,179.9 606.8,177.1 602.8,173.3 599.5,176.1" fill="#46d41e" stroke="#46d41e" stroke-width="0.5"/>
<polygon points="618,182.2 621.2,179.4 617.3,175.4 614.1,178.2" fill="#35d821" stroke="#35d821" stroke-width="0.5"/>
<polygon points="625.1,183.4 628.3,180.6 624.4,176.6 621.2,179.4" fill="#2cd923" stroke="#2cd923" stroke-width="0.5"/>
<polygon points="632.1,184.8 635.3,182 631.4,177.8 628.3,180.6" fill="#22db25" stroke="#22db25" stroke-width="0.5"/>
<polygon points="639.1,186.2 642.2,183.4 638.4,179.2 635.3,182" fill="#1cdd30" stroke="#1cdd30" stroke-width="0.5"/>
<polygon points="652.7,189.4 655.7,186.6 652,182.2 649,184.9" fill="#1ce260" stroke="#1ce260" stroke-width="0.5"/>
<polygon points="659.4,191.1 662.3,188.3 658.7,183.8 655.7,186.6" fill="#1ce57b" stroke="#1ce57b" stroke-width="0.5"/>
<polygon points="665.9,192.9 668.8,190.1 665.2,185.5 662.3,188.3" fill="#1de797" stroke="#1de797" stroke-width="0.5"/>
<polygon points="535.2,173.9 538.9,171 534.8,167.9 531.1,170.7" fill="#92c019" stroke="#92c019" stroke-width="0.5"/>
<polygon points="573.7,176.4 577.2,173.6 573.1,170.1 569.6,172.9" fill="#67cc1a" stroke="#67cc1a" stroke-width="0.5"/>
<polygon points="610.8,181 614.1,178.2 610.1,174.3 606.8,177.1" fill="#3ed620" stroke="#3ed620" stroke-width="0.5"/>
<polygon points="645.9,187.7 649,184.9 645.2,180.6 642.2,183.4" fill="#1ce047" stroke="#1ce047" stroke-width="0.5"/>
<polygon points="374.2,184 378.4,181.4 375.1,180 370.8,182.5" fill="#6e9f14" stroke="#6e9f14" stroke-width="0.5"/>
<polygon points="389.5,182.1 393.7,179.4 390.2,177.8 386,180.4" fill="#7fa115" stroke="#7fa115" stroke-width="0.5"/>
<polygon points="405,180.4 409.2,177.7 405.6,175.9 401.4,178.5" fill="#8ea415" stroke="#8ea415" stroke-width="0.5"/>
<polygon points="412.9,179.6 417,176.9 413.3,175 409.2,177.7" fill="#94a515" stroke="#94a515" stroke-width="0.5"/>
<polygon points="428.6,178.3 432.7,175.6 428.9,173.5 424.8,176.2" fill="#9fa816" stroke="#9fa816" stroke-width="0.5"/>
<polygon points="444.4,177.3 448.4,174.6 444.6,172.3 440.5,175.1" fill="#a8ab16" stroke="#a8ab16" stroke-width="0.5"/>
<polygon points="452.3,176.9 456.4,174.2 452.5,171.8 448.4,174.6" fill="#abad16" stroke="#abad16" stroke-width="0.5"/>
<polygon points="468.2,176.3 472.2,173.5 468.2,171.1 464.3,173.8" fill="#afb017" stroke="#afb017" stroke-width="0.5"/>
<polygon points="484.1,176 488,173.2 484,170.5 480.1,173.3" fill="#afb417" stroke="#afb417" stroke-width="0.5"/>
<polygon points="492.1,175.9 495.9,173.1 491.9,170.4 488,173.2" fill="#afb517" stroke="#afb517" stroke-width="0.5"/>
<polygon points="507.9,176 511.7,173.2 507.7,170.3 503.8,173.1" fill="#aab918" stroke="#aab918" stroke-width="0.5"/>
<polygon points="523.7,176.4 527.4,173.6 523.3,170.5 519.6,173.3" fill="#a2bd18" stroke="#a2bd18" stroke-width="0.5"/>
<polygon points="547.1,177.5 550.8,174.7 546.7,171.4 543,174.2" fill="#8fc419" stroke="#8fc419" stroke-width="0.5"/>
<polygon points="562.5,178.6 566.1,175.8 562,172.3 558.4,175.2" fill="#7dc919" stroke="#7dc919" stroke-width="0.5"/>
<polygon points="585.3,180.9 588.7,178 584.7,174.4 581.2,177.2" fill="#5bd11a" stroke="#5bd11a" stroke-width="0.5"/>
<polygon points="600.1,182.8 603.5,179.9 599.5,176.1 596.1,178.9" fill="#4dd41d" stroke="#4dd41d" stroke-width="0.5"/>
<polygon points="621.9,186.3 625.1,183.4 621.2,179.4 618,182.2" fill="#32d922" stroke="#32d922" stroke-width="0.5"/>
<polygon points="636,189 639.1,186.2 635.3,182 632.1,184.8" fill="#1edd26" stroke="#1edd26" stroke-width="0.5"/>
<polygon points="656.4,193.9 659.4,191.1 655.7,186.6 652.7,189.4" fill="#1ce46d" stroke="#1ce46d" stroke-width="0.5"/>
<polygon points="381.8,183 386,180.4 382.6,178.8 378.4,181.4" fill="#77a014" stroke="#77a014" stroke-width="0.5"/>
<polygon points="397.3,181.2 401.4,178.5 397.9,176.8 393.7,179.4" fill="#87a215" stroke="#87a215" stroke-width="0.5"/>
<polygon points="420.7,178.9 424.8,176.2 421.1,174.3 417,176.9" fill="#9aa716" stroke="#9aa716" stroke-width="0.5"/>
<polygon points="436.5,177.8 440.5,175.1 436.7,172.9 432.7,175.6" fill="#a4a916" stroke="#a4a916" stroke-width="0.5"/>
<polygon points="460.3,176.6 464.3,173.8 460.3,171.4 456.4,174.2" fill="#adae17" stroke="#adae17" stroke-width="0.5"/>
<polygon points="476.2,176.1 480.1,173.3 476.1,170.8 472.2,173.5" fill="#afb217" stroke="#afb217" stroke-width="0.5"/>
<polygon points="500,175.9 503.8,173.1 499.8,170.3 495.9,173.1" fill="#adb718" stroke="#adb718" stroke-width="0.5"/>
<polygon points="515.8,176.2 519.6,173.3 515.5,170.4 511.7,173.2" fill="#a7bb18" stroke="#a7bb18" stroke-width="0.5"/>
<polygon points="539.3,177.1 543,174.2 538.9,171 535.2,173.9" fill="#97c219" stroke="#97c219" stroke-width="0.5"/>
<polygon points="554.9,178 558.4,175.2 554.4,171.8 550.8,174.7" fill="#87c719" stroke="#87c719" stroke-width="0.5"/>
<polygon points="577.8,180 581.2,177.2 577.2,173.6 573.7,176.4" fill="#67ce1a" stroke="#67ce1a" stroke-width="0.5"/>
<polygon points="592.8,181.8 596.1,178.9 592.1,175.2 588.7,178" fill="#54d21c" stroke="#54d21c" stroke-width="0.5"/>
<polygon points="614.7,185 618,182.2 614.1,178.2 610.8,181" fill="#3cd820" stroke="#3cd820" stroke-width="0.5"/>
<polygon points="629,187.6 632.1,184.8 628.3,180.6 625.1,183.4" fill="#28db24" stroke="#28db24" stroke-width="0.5"/>
<polygon points="649.7,192.2 652.7,189.4 649,184.9 645.9,187.7" fill="#1ce253" stroke="#1ce253" stroke-width="0.5"/>
<polygon points="663,195.7 665.9,192.9 662.3,188.3 659.4,191.1" fill="#1de789" stroke="#1de789" stroke-width="0.5"/>
<polygon points="531.5,176.7 535.2,173.9 531.1,170.7 527.4,173.6" fill="#9dc019" stroke="#9dc019" stroke-width="0.5"/>
<polygon points="570.2,179.3 573.7,176.4 569.6,172.9 566.1,175.8" fill="#73cb1a" stroke="#73cb1a" stroke-width="0.5"/>
<polygon points="607.5,183.9 610.8,181 606.8,177.1 603.5,179.9" fill="#45d61f" stroke="#45d61f" stroke-width="0.5"/>
<polygon points="642.9,190.5 645.9,187.7 642.2,183.4 639.1,186.2" fill="#1cdf3a" stroke="#1cdf3a" stroke-width="0.5"/>
<polygon points="408.7,182.3 412.9,179.6 409.2,177.7 405,180.4" fill="#9da515" stroke="#9da515" stroke-width="0.5"/>
<polygon points="448.3,179.7 452.3,176.9 448.4,174.6 444.4,177.3" fill="#b3ab16" stroke="#b3ab16" stroke-width="0.5"/>
<polygon points="488.2,178.7 492.1,175.9 488,173.2 484.1,176" fill="#b9b517" stroke="#b9b517" stroke-width="0.5"/>
<polygon points="385.3,184.7 389.5,182.1 386,180.4 381.8,183" fill="#87a115" stroke="#87a115" stroke-width="0.5"/>
<polygon points="400.9,183 405,180.4 401.4,178.5 397.3,181.2" fill="#96a315" stroke="#96a315" stroke-width="0.5"/>
<polygon points="424.5,181.1 428.6,178.3 424.8,176.2 420.7,178.9" fill="#a8a716" stroke="#a8a716" stroke-width="0.5"/>
<polygon points="440.3,180.1 444.4,177.3 440.5,175.1 436.5,177.8" fill="#b1aa16" stroke="#b1aa16" stroke-width="0.5"/>
<polygon points="464.2,179.1 468.2,176.3 464.3,173.8 460.3,176.6" fill="#b7ae17" stroke="#b7ae17" stroke-width="0.5"/>
<polygon points="480.2,178.8 484.1,176 480.1,173.3 476.2,176.1" fill="#b9b317" stroke="#b9b317" stroke-width="0.5"/>
<polygon points="504.1,178.9 507.9,176 503.8,173.1 500,175.9" fill="#b5b918" stroke="#b5b918" stroke-width="0.5"/>
<polygon points="519.9,179.2 523.7,176.4 519.6,173.3 515.8,176.2" fill="#adbd18" stroke="#adbd18" stroke-width="0.5"/>
<polygon points="543.5,180.4 547.1,177.5 543,174.2 539.3,177.1" fill="#9ac319" stroke="#9ac319" stroke-width="0.5"/>
<polygon points="559,181.5 562.5,178.6 558.4,175.2 554.9,178" fill="#89c819" stroke="#89c819" stroke-width="0.5"/>
<polygon points="581.8,183.7 585.3,180.9 581.2,177.2 577.8,180" fill="#66d01a" stroke="#66d01a" stroke-width="0.5"/>
<polygon points="596.8,185.6 600.1,182.8 596.1,178.9 592.8,181.8" fill="#53d41c" stroke="#53d41c" stroke-width="0.5"/>
<polygon points="618.6,189.1 621.9,186.3 618,182.2 614.7,185" fill="#39d921" stroke="#39d921" stroke-width="0.5"/>
<polygon points="632.8,191.9 636,189 632.1,184.8 629,187.6" fill="#24dd25" stroke="#24dd25" stroke-width="0.5"/>
<polygon points="653.4,196.7 656.4,193.9 652.7,189.4 649.7,192.2" fill="#1ce45f" stroke="#1ce45f" stroke-width="0.5"/>
<polygon points="377.6,185.6 381.8,183 378.4,181.4 374.2,184" fill="#7f9f14" stroke="#7f9f14" stroke-width="0.5"/>
<polygon points="393,183.8 397.3,181.2 393.7,179.4 389.5,182.1" fill="#8fa215" stroke="#8fa215" stroke-width="0.5"/>
<polygon points="416.6,181.7 420.7,178.9 417,176.9 412.9,179.6" fill="#a3a616" stroke="#a3a616" stroke-width="0.5"/>
<polygon points="432.4,180.5 436.5,177.8 432.7,175.6 428.6,178.3" fill="#ada916" stroke="#ada916" stroke-width="0.5"/>
<polygon points="456.3,179.4 460.3,176.6 456.4,174.2 452.3,176.9" fill="#b5ac17" stroke="#b5ac17" stroke-width="0.5"/>
<polygon points="472.2,178.9 476.2,176.1 472.2,173.5 468.2,176.3" fill="#b8b017" stroke="#b8b017" stroke-width="0.5"/>
<polygon points="496.1,178.8 500,175.9 495.9,173.1 492.1,175.9" fill="#b7b718" stroke="#b7b718" stroke-width="0.5"/>
<polygon points="512,179 515.8,176.2 511.7,173.2 507.9,176" fill="#b1bb18" stroke="#b1bb18" stroke-width="0.5"/>
<polygon points="527.8,179.5 531.5,176.7 527.4,173.6 523.7,176.4" fill="#a8bf19" stroke="#a8bf19" stroke-width="0.5"/>
<polygon points="535.7,179.9 539.3,177.1 535.2,173.9 531.5,176.7" fill="#a1c119" stroke="#a1c119" stroke-width="0.5"/>
<polygon points="551.2,180.9 554.9,178 550.8,174.7 547.1,177.5" fill="#92c619" stroke="#92c619" stroke-width="0.5"/>
<polygon points="566.6,182.2 570.2,179.3 566.1,175.8 562.5,178.6" fill="#7ecb1a" stroke="#7ecb1a" stroke-width="0.5"/>
<polygon points="574.3,182.9 577.8,180 573.7,176.4 570.2,179.3" fill="#73cd1a" stroke="#73cd1a" stroke-width="0.5"/>
<polygon points="589.3,184.7 592.8,181.8 588.7,178 585.3,180.9" fill="#5ad21b" stroke="#5ad21b" stroke-width="0.5"/>
<polygon points="604.1,186.7 607.5,183.9 603.5,179.9 600.1,182.8" fill="#4bd61e" stroke="#4bd61e" stroke-width="0.5"/>
<polygon points="611.4,187.9 614.7,185 610.8,181 607.5,183.9" fill="#42d81f" stroke="#42d81f" stroke-width="0.5"/>
<polygon points="625.8,190.4 629,187.6 625.1,183.4 621.9,186.3" fill="#2fdb23" stroke="#2fdb23" stroke-width="0.5"/>
<polygon points="639.8,193.4 642.9,190.5 639.1,186.2 636,189" fill="#1cdf2d" stroke="#1cdf2d" stroke-width="0.5"/>
<polygon points="646.6,195 649.7,192.2 645.9,187.7 642.9,190.5" fill="#1ce145" stroke="#1ce145" stroke-width="0.5"/>
<polygon points="660,198.4 663,195.7 659.4,191.1 656.4,193.9" fill="#1de77b" stroke="#1de77b" stroke-width="0.5"/>
<polygon points="404.5,185 408.7,182.3 405,180.4 400.9,183" fill="#a6a415" stroke="#a6a415" stroke-width="0.5"/>
<polygon points="444.2,182.5 448.3,179.7 444.4,177.3 440.3,180.1" fill="#b4a216" stroke="#b4a216" stroke-width="0.5"/>
<polygon points="484.3,181.6 488.2,178.7 484.1,176 480.2,178.8" fill="#bcae17" stroke="#bcae17" stroke-width="0.5"/>
<polygon points="381,187.4 385.3,184.7 381.8,183 377.6,185.6" fill="#90a015" stroke="#90a015" stroke-width="0.5"/>
<polygon points="396.6,185.7 400.9,183 397.3,181.2 393,183.8" fill="#9fa315" stroke="#9fa315" stroke-width="0.5"/>
<polygon points="412.4,184.4 416.6,181.7 412.9,179.6 408.7,182.3" fill="#aca516" stroke="#aca516" stroke-width="0.5"/>
<polygon points="420.3,183.8 424.5,181.1 420.7,178.9 416.6,181.7" fill="#aea316" stroke="#aea316" stroke-width="0.5"/>
<polygon points="436.2,182.8 440.3,180.1 436.5,177.8 432.4,180.5" fill="#b2a116" stroke="#b2a116" stroke-width="0.5"/>
<polygon points="452.2,182.2 456.3,179.4 452.3,176.9 448.3,179.7" fill="#b6a217" stroke="#b6a217" stroke-width="0.5"/>
<polygon points="460.2,181.9 464.2,179.1 460.3,176.6 456.3,179.4" fill="#b7a417" stroke="#b7a417" stroke-width="0.5"/>
<polygon points="476.3,181.6 480.2,178.8 476.2,176.1 472.2,178.9" fill="#bbaa17" stroke="#bbaa17" stroke-width="0.5"/>
<polygon points="492.2,181.6 496.1,178.8 492.1,175.9 488.2,178.7" fill="#beb318" stroke="#beb318" stroke-width="0.5"/>
<polygon points="500.2,181.7 504.1,178.9 500,175.9 496.1,178.8" fill="#bfb818" stroke="#bfb818" stroke-width="0.5"/>
<polygon points="516.1,182.1 519.9,179.2 515.8,176.2 512,179" fill="#b7bc18" stroke="#b7bc18" stroke-width="0.5"/>
<polygon points="531.9,182.8 535.7,179.9 531.5,176.7 527.8,179.5" fill="#acc019" stroke="#acc019" stroke-width="0.5"/>
<polygon points="539.8,183.2 543.5,180.4 539.3,177.1 535.7,179.9" fill="#a5c319" stroke="#a5c319" stroke-width="0.5"/>
<polygon points="555.3,184.4 559,181.5 554.9,178 551.2,180.9" fill="#94c819" stroke="#94c819" stroke-width="0.5"/>
<polygon points="570.7,185.8 574.3,182.9 570.2,179.3 566.6,182.2" fill="#7ecd1a" stroke="#7ecd1a" stroke-width="0.5"/>
<polygon points="578.3,186.6 581.8,183.7 577.8,180 574.3,182.9" fill="#72cf1a" stroke="#72cf1a" stroke-width="0.5"/>
<polygon points="593.4,188.5 596.8,185.6 592.8,181.8 589.3,184.7" fill="#59d41b" stroke="#59d41b" stroke-width="0.5"/>
<polygon points="608.1,190.7 611.4,187.9 607.5,183.9 604.1,186.7" fill="#49d81e" stroke="#49d81e" stroke-width="0.5"/>
<polygon points="615.4,192 618.6,189.1 614.7,185 611.4,187.9" fill="#3fda20" stroke="#3fda20" stroke-width="0.5"/>
<polygon points="629.6,194.7 632.8,191.9 629,187.6 625.8,190.4" fill="#2bdd24" stroke="#2bdd24" stroke-width="0.5"/>
<polygon points="643.5,197.8 646.6,195 642.9,190.5 639.8,193.4" fill="#1ce138" stroke="#1ce138" stroke-width="0.5"/>
<polygon points="650.3,199.5 653.4,196.7 649.7,192.2 646.6,195" fill="#1ce452" stroke="#1ce452" stroke-width="0.5"/>
<polygon points="388.8,186.5 393,183.8 389.5,182.1 385.3,184.7" fill="#98a115" stroke="#98a115" stroke-width="0.5"/>
<polygon points="428.3,183.3 432.4,180.5 428.6,178.3 424.5,181.1" fill="#b0a216" stroke="#b0a216" stroke-width="0.5"/>
<polygon points="468.2,181.7 472.2,178.9 468.2,176.3 464.2,179.1" fill="#b9a617" stroke="#b9a617" stroke-width="0.5"/>
<polygon points="508.2,181.9 512,179 507.9,176 504.1,178.9" fill="#bcba18" stroke="#bcba18" stroke-width="0.5"/>
<polygon points="524,182.4 527.8,179.5 523.7,176.4 519.9,179.2" fill="#b2be19" stroke="#b2be19" stroke-width="0.5"/>
<polygon points="547.6,183.8 551.2,180.9 547.1,177.5 543.5,180.4" fill="#9dc519" stroke="#9dc519" stroke-width="0.5"/>
<polygon points="563.1,185 566.6,182.2 562.5,178.6 559,181.5" fill="#8aca1a" stroke="#8aca1a" stroke-width="0.5"/>
<polygon points="585.9,187.5 589.3,184.7 585.3,180.9 581.8,183.7" fill="#64d21a" stroke="#64d21a" stroke-width="0.5"/>
<polygon points="600.8,189.6 604.1,186.7 600.1,182.8 596.8,185.6" fill="#51d61d" stroke="#51d61d" stroke-width="0.5"/>
<polygon points="622.5,193.3 625.8,190.4 621.9,186.3 618.6,189.1" fill="#35db22" stroke="#35db22" stroke-width="0.5"/>
<polygon points="636.6,196.2 639.8,193.4 636,189 632.8,191.9" fill="#20df26" stroke="#20df26" stroke-width="0.5"/>
<polygon points="657,201.3 660,198.4 656.4,193.9 653.4,196.7" fill="#1de66d" stroke="#1de66d" stroke-width="0.5"/>
<polygon points="400.3,187.7 404.5,185 400.9,183 396.6,185.7" fill="#aba015" stroke="#aba015" stroke-width="0.5"/>
<polygon points="416.2,186.5 420.3,183.8 416.6,181.7 412.4,184.4" fill="#af9b16" stroke="#af9b16" stroke-width="0.5"/>
<polygon points="440.1,185.3 444.2,182.5 440.3,180.1 436.2,182.8" fill="#b59816" stroke="#b59816" stroke-width="0.5"/>
<polygon points="456.2,184.7 460.2,181.9 456.3,179.4 452.2,182.2" fill="#b89b17" stroke="#b89b17" stroke-width="0.5"/>
<polygon points="480.3,184.4 484.3,181.6 480.2,178.8 476.3,181.6" fill="#bda417" stroke="#bda417" stroke-width="0.5"/>
<polygon points="496.3,184.6 500.2,181.7 496.1,178.8 492.2,181.6" fill="#c0ae18" stroke="#c0ae18" stroke-width="0.5"/>
<polygon points="536.1,186.1 539.8,183.2 535.7,179.9 531.9,182.8" fill="#b0c219" stroke="#b0c219" stroke-width="0.5"/>
<polygon points="574.8,189.5 578.3,186.6 574.3,182.9 570.7,185.8" fill="#7dce1a" stroke="#7dce1a" stroke-width="0.5"/>
<polygon points="612.1,194.9 615.4,192 611.4,187.9 608.1,190.7" fill="#46da1f" stroke="#46da1f" stroke-width="0.5"/>
<polygon points="647.3,202.3 650.3,199.5 646.6,195 643.5,197.8" fill="#1ce344" stroke="#1ce344" stroke-width="0.5"/>
<polygon points="392.4,188.4 396.6,185.7 393,183.8 388.8,186.5" fill="#a7a215" stroke="#a7a215" stroke-width="0.5"/>
<polygon points="408.2,187.1 412.4,184.4 408.7,182.3 404.5,185" fill="#ad9d16" stroke="#ad9d16" stroke-width="0.5"/>
<polygon points="432.1,185.6 436.2,182.8 432.4,180.5 428.3,183.3" fill="#b39816" stroke="#b39816" stroke-width="0.5"/>
<polygon points="448.2,185 452.2,182.2 448.3,179.7 444.2,182.5" fill="#b79917" stroke="#b79917" stroke-width="0.5"/>
<polygon points="472.3,184.5 476.3,181.6 472.2,178.9 468.2,181.7" fill="#bca017" stroke="#bca017" stroke-width="0.5"/>
<polygon points="488.3,184.5 492.2,181.6 488.2,178.7 484.3,181.6" fill="#bfa918" stroke="#bfa918" stroke-width="0.5"/>
<polygon points="512.3,185 516.1,182.1 512,179 508.2,181.9" fill="#c2bb18" stroke="#c2bb18" stroke-width="0.5"/>
<polygon points="528.2,185.7 531.9,182.8 527.8,179.5 524,182.4" fill="#b7c019" stroke="#b7c019" stroke-width="0.5"/>
<polygon points="551.7,187.3 555.3,184.4 551.2,180.9 547.6,183.8" fill="#9fc719" stroke="#9fc719" stroke-width="0.5"/>
<polygon points="567.2,188.7 570.7,185.8 566.6,182.2 563.1,185" fill="#8acc1a" stroke="#8acc1a" stroke-width="0.5"/>
<polygon points="589.9,191.4 593.4,188.5 589.3,184.7 585.9,187.5" fill="#61d41b" stroke="#61d41b" stroke-width="0.5"/>
<polygon points="604.8,193.6 608.1,190.7 604.1,186.7 600.8,189.6" fill="#4fd81d" stroke="#4fd81d" stroke-width="0.5"/>
<polygon points="626.4,197.6 629.6,194.7 625.8,190.4 622.5,193.3" fill="#31dd23" stroke="#31dd23" stroke-width="0.5"/>
<polygon points="640.4,200.7 643.5,197.8 639.8,193.4 636.6,196.2" fill="#1ce12a" stroke="#1ce12a" stroke-width="0.5"/>
<polygon points="384.6,189.2 388.8,186.5 385.3,184.7 381,187.4" fill="#a0a115" stroke="#a0a115" stroke-width="0.5"/>
<polygon points="424.1,186.1 428.3,183.3 424.5,181.1 420.3,183.8" fill="#b19916" stroke="#b19916" stroke-width="0.5"/>
<polygon points="464.2,184.6 468.2,181.7 464.2,179.1 460.2,181.9" fill="#ba9d17" stroke="#ba9d17" stroke-width="0.5"/>
<polygon points="504.3,184.7 508.2,181.9 504.1,178.9 500.2,181.7" fill="#c1b518" stroke="#c1b518" stroke-width="0.5"/>
<polygon points="520.3,185.3 524,182.4 519.9,179.2 516.1,182.1" fill="#bdbe19" stroke="#bdbe19" stroke-width="0.5"/>
<polygon points="543.9,186.7 547.6,183.8 543.5,180.4 539.8,183.2" fill="#a8c419" stroke="#a8c419" stroke-width="0.5"/>
<polygon points="559.5,187.9 563.1,185 559,181.5 555.3,184.4" fill="#95c91a" stroke="#95c91a" stroke-width="0.5"/>
<polygon points="582.4,190.4 585.9,187.5 581.8,183.7 578.3,186.6" fill="#70d11a" stroke="#70d11a" stroke-width="0.5"/>
<polygon points="597.4,192.5 600.8,189.6 596.8,185.6 593.4,188.5" fill="#57d61c" stroke="#57d61c" stroke-width="0.5"/>
<polygon points="619.3,196.2 622.5,193.3 618.6,189.1 615.4,192" fill="#3cdb21" stroke="#3cdb21" stroke-width="0.5"/>
<polygon points="633.5,199.1 636.6,196.2 632.8,191.9 629.6,194.7" fill="#26df25" stroke="#26df25" stroke-width="0.5"/>
<polygon points="654,204.1 657,201.3 653.4,196.7 650.3,199.5" fill="#1de660" stroke="#1de660" stroke-width="0.5"/>
<polygon points="396,190.5 400.3,187.7 396.6,185.7 392.4,188.4" fill="#ab9715" stroke="#ab9715" stroke-width="0.5"/>
<polygon points="412,189.3 416.2,186.5 412.4,184.4 408.2,187.1" fill="#b09216" stroke="#b09216" stroke-width="0.5"/>
<polygon points="436,188 440.1,185.3 436.2,182.8 432.1,185.6" fill="#b68f16" stroke="#b68f16" stroke-width="0.5"/>
<polygon points="452.1,187.5 456.2,184.7 452.2,182.2 448.2,185" fill="#b99117" stroke="#b99117" stroke-width="0.5"/>
<polygon points="476.3,187.3 480.3,184.4 476.3,181.6 472.3,184.5" fill="#be9a17" stroke="#be9a17" stroke-width="0.5"/>
<polygon points="492.4,187.4 496.3,184.6 492.2,181.6 488.3,184.5" fill="#c1a418" stroke="#c1a418" stroke-width="0.5"/>
<polygon points="532.3,189 536.1,186.1 531.9,182.8 528.2,185.7" fill="#bbc119" stroke="#bbc119" stroke-width="0.5"/>
<polygon points="571.3,192.4 574.8,189.5 570.7,185.8 567.2,188.7" fill="#89ce1a" stroke="#89ce1a" stroke-width="0.5"/>
<polygon points="608.7,197.7 612.1,194.9 608.1,190.7 604.8,193.6" fill="#4cda1e" stroke="#4cda1e" stroke-width="0.5"/>
<polygon points="644.2,205.2 647.3,202.3 643.5,197.8 640.4,200.7" fill="#1ce337" stroke="#1ce337" stroke-width="0.5"/>
<polygon points="388.1,191.1 392.4,188.4 388.8,186.5 384.6,189.2" fill="#a99a15" stroke="#a99a15" stroke-width="0.5"/>
<polygon points="404,189.9 408.2,187.1 404.5,185 400.3,187.7" fill="#ae9416" stroke="#ae9416" stroke-width="0.5"/>
<polygon points="420,188.8 424.1,186.1 420.3,183.8 416.2,186.5" fill="#b29016" stroke="#b29016" stroke-width="0.5"/>
<polygon points="428,188.4 432.1,185.6 428.3,183.3 424.1,186.1" fill="#b48f16" stroke="#b48f16" stroke-width="0.5"/>
<polygon points="444.1,187.8 448.2,185 444.2,182.5 440.1,185.3" fill="#b79017" stroke="#b79017" stroke-width="0.5"/>
<polygon points="460.2,187.4 464.2,184.6 460.2,181.9 456.2,184.7" fill="#bb9317" stroke="#bb9317" stroke-width="0.5"/>
<polygon points="468.3,187.3 472.3,184.5 468.2,181.7 464.2,184.6" fill="#bd9617" stroke="#bd9617" stroke-width="0.5"/>
<polygon points="484.4,187.3 488.3,184.5 484.3,181.6 480.3,184.4" fill="#c09f18" stroke="#c09f18" stroke-width="0.5"/>
<polygon points="500.5,187.6 504.3,184.7 500.2,181.7 496.3,184.6" fill="#c2ab18" stroke="#c2ab18" stroke-width="0.5"/>
<polygon points="508.5,187.9 512.3,185 508.2,181.9 504.3,184.7" fill="#c4b218" stroke="#c4b218" stroke-width="0.5"/>
<polygon points="524.4,188.6 528.2,185.7 524,182.4 520.3,185.3" fill="#c1bf19" stroke="#c1bf19" stroke-width="0.5"/>
<polygon points="540.2,189.6 543.9,186.7 539.8,183.2 536.1,186.1" fill="#b3c419" stroke="#b3c419" stroke-width="0.5"/>
<polygon points="548,190.2 551.7,187.3 547.6,183.8 543.9,186.7" fill="#aac619" stroke="#aac619" stroke-width="0.5"/>
<polygon points="563.6,191.6 567.2,188.7 563.1,185 559.5,187.9" fill="#95cb1a" stroke="#95cb1a" stroke-width="0.5"/>
<polygon points="578.9,193.3 582.4,190.4 578.3,186.6 574.8,189.5" fill="#7cd01a" stroke="#7cd01a" stroke-width="0.5"/>
<polygon points="586.5,194.3 589.9,191.4 585.9,187.5 582.4,190.4" fill="#6dd31b" stroke="#6dd31b" stroke-width="0.5"/>
<polygon points="601.4,196.5 604.8,193.6 600.8,189.6 597.4,192.5" fill="#55d81c" stroke="#55d81c" stroke-width="0.5"/>
<polygon points="616,199.1 619.3,196.2 615.4,192 612.1,194.9" fill="#42db20" stroke="#42db20" stroke-width="0.5"/>
<polygon points="623.2,200.5 626.4,197.6 622.5,193.3 619.3,196.2" fill="#38dd22" stroke="#38dd22" stroke-width="0.5"/>
<polygon points="637.3,203.5 640.4,200.7 636.6,196.2 633.5,199.1" fill="#21e126" stroke="#21e126" stroke-width="0.5"/>
<polygon points="651,206.9 654,204.1 650.3,199.5 647.3,202.3" fill="#1de552" stroke="#1de552" stroke-width="0.5"/>
<polygon points="516.4,188.2 520.3,185.3 516.1,182.1 512.3,185" fill="#c5ba19" stroke="#c5ba19" stroke-width="0.5"/>
<polygon points="555.8,190.8 559.5,187.9 555.3,184.4 551.7,187.3" fill="#a0c91a" stroke="#a0c91a" stroke-width="0.5"/>
<polygon points="594,195.4 597.4,192.5 593.4,188.5 589.9,191.4" fill="#5ed61b" stroke="#5ed61b" stroke-width="0.5"/>
<polygon points="630.3,201.9 633.5,199.1 629.6,194.7 626.4,197.6" fill="#2ddf24" stroke="#2ddf24" stroke-width="0.5"/>
<polygon points="391.8,193.2 396,190.5 392.4,188.4 388.1,191.1" fill="#ac8e15" stroke="#ac8e15" stroke-width="0.5"/>
<polygon points="407.7,192.1 412,189.3 408.2,187.1 404,189.9" fill="#b08916" stroke="#b08916" stroke-width="0.5"/>
<polygon points="423.8,191.2 428,188.4 424.1,186.1 420,188.8" fill="#b58616" stroke="#b58616" stroke-width="0.5"/>
<polygon points="431.9,190.9 436,188 432.1,185.6 428,188.4" fill="#b68616" stroke="#b68616" stroke-width="0.5"/>
<polygon points="448,190.4 452.1,187.5 448.2,185 444.1,187.8" fill="#ba8817" stroke="#ba8817" stroke-width="0.5"/>
<polygon points="464.2,190.1 468.3,187.3 464.2,184.6 460.2,187.4" fill="#bd8d17" stroke="#bd8d17" stroke-width="0.5"/>
<polygon points="472.3,190.1 476.3,187.3 472.3,184.5 468.3,187.3" fill="#bf9017" stroke="#bf9017" stroke-width="0.5"/>
<polygon points="488.5,190.3 492.4,187.4 488.3,184.5 484.4,187.3" fill="#c29a18" stroke="#c29a18" stroke-width="0.5"/>
<polygon points="504.6,190.7 508.5,187.9 504.3,184.7 500.5,187.6" fill="#c5a818" stroke="#c5a818" stroke-width="0.5"/>
<polygon points="528.5,191.9 532.3,189 528.2,185.7 524.4,188.6" fill="#c5c119" stroke="#c5c119" stroke-width="0.5"/>
<polygon points="544.3,193.1 548,190.2 543.9,186.7 540.2,189.6" fill="#b5c519" stroke="#b5c519" stroke-width="0.5"/>
<polygon points="567.7,195.3 571.3,192.4 567.2,188.7 563.6,191.6" fill="#94cd1a" stroke="#94cd1a" stroke-width="0.5"/>
<polygon points="583,197.2 586.5,194.3 582.4,190.4 578.9,193.3" fill="#79d21b" stroke="#79d21b" stroke-width="0.5"/>
<polygon points="605.4,200.6 608.7,197.7 604.8,193.6 601.4,196.5" fill="#52da1d" stroke="#52da1d" stroke-width="0.5"/>
<polygon points="619.9,203.3 623.2,200.5 619.3,196.2 616,199.1" fill="#3edd21" stroke="#3edd21" stroke-width="0.5"/>
<polygon points="641.1,208 644.2,205.2 640.4,200.7 637.3,203.5" fill="#1ce229" stroke="#1ce229" stroke-width="0.5"/>
<polygon points="399.7,192.6 404,189.9 400.3,187.7 396,190.5" fill="#ae8b16" stroke="#ae8b16" stroke-width="0.5"/>
<polygon points="415.8,191.6 420,188.8 416.2,186.5 412,189.3" fill="#b38716" stroke="#b38716" stroke-width="0.5"/>
<polygon points="439.9,190.6 444.1,187.8 440.1,185.3 436,188" fill="#b88717" stroke="#b88717" stroke-width="0.5"/>
<polygon points="456.1,190.2 460.2,187.4 456.2,184.7 452.1,187.5" fill="#bc8a17" stroke="#bc8a17" stroke-width="0.5"/>
<polygon points="480.4,190.2 484.4,187.3 480.3,184.4 476.3,187.3" fill="#c19518" stroke="#c19518" stroke-width="0.5"/>
<polygon points="496.5,190.5 500.5,187.6 496.3,184.6 492.4,187.4" fill="#c3a118" stroke="#c3a118" stroke-width="0.5"/>
<polygon points="520.6,191.5 524.4,188.6 520.3,185.3 516.4,188.2" fill="#c7b919" stroke="#c7b919" stroke-width="0.5"/>
<polygon points="536.5,192.5 540.2,189.6 536.1,186.1 532.3,189" fill="#bec319" stroke="#bec319" stroke-width="0.5"/>
<polygon points="560,194.5 563.6,191.6 559.5,187.9 555.8,190.8" fill="#a0ca1a" stroke="#a0ca1a" stroke-width="0.5"/>
<polygon points="575.4,196.2 578.9,193.3 574.8,189.5 571.3,192.4" fill="#87d01a" stroke="#87d01a" stroke-width="0.5"/>
<polygon points="598,199.4 601.4,196.5 597.4,192.5 594,195.4" fill="#5cd81b" stroke="#5cd81b" stroke-width="0.5"/>
<polygon points="612.7,202 616,199.1 612.1,194.9 608.7,197.7" fill="#49db1f" stroke="#49db1f" stroke-width="0.5"/>
<polygon points="634.1,206.4 637.3,203.5 633.5,199.1 630.3,201.9" fill="#28e125" stroke="#28e125" stroke-width="0.5"/>
<polygon points="647.9,209.8 651,206.9 647.3,202.3 644.2,205.2" fill="#1de544" stroke="#1de544" stroke-width="0.5"/>
<polygon points="512.6,191.1 516.4,188.2 512.3,185 508.5,187.9" fill="#c6b019" stroke="#c6b019" stroke-width="0.5"/>
<polygon points="552.2,193.7 555.8,190.8 551.7,187.3 548,190.2" fill="#abc81a" stroke="#abc81a" stroke-width="0.5"/>
<polygon points="590.5,198.3 594,195.4 589.9,191.4 586.5,194.3" fill="#69d51b" stroke="#69d51b" stroke-width="0.5"/>
<polygon points="627.1,204.8 630.3,201.9 626.4,197.6 623.2,200.5" fill="#33df23" stroke="#33df23" stroke-width="0.5"/>
<polygon points="427.7,193.7 431.9,190.9 428,188.4 423.8,191.2" fill="#b77d16" stroke="#b77d16" stroke-width="0.5"/>
<polygon points="468.3,193 472.3,190.1 468.3,187.3 464.2,190.1" fill="#c08717" stroke="#c08717" stroke-width="0.5"/>
<polygon points="403.5,194.8 407.7,192.1 404,189.9 399.7,192.6" fill="#b18016" stroke="#b18016" stroke-width="0.5"/>
<polygon points="419.6,194 423.8,191.2 420,188.8 415.8,191.6" fill="#b57d16" stroke="#b57d16" stroke-width="0.5"/>
<polygon points="443.9,193.2 448,190.4 444.1,187.8 439.9,190.6" fill="#bb7f17" stroke="#bb7f17" stroke-width="0.5"/>
<polygon points="460.2,193 464.2,190.1 460.2,187.4 456.1,190.2" fill="#be8317" stroke="#be8317" stroke-width="0.5"/>
<polygon points="484.5,193.2 488.5,190.3 484.4,187.3 480.4,190.2" fill="#c39018" stroke="#c39018" stroke-width="0.5"/>
<polygon points="500.7,193.7 504.6,190.7 500.5,187.6 496.5,190.5" fill="#c69e18" stroke="#c69e18" stroke-width="0.5"/>
<polygon points="524.7,194.8 528.5,191.9 524.4,188.6 520.6,191.5" fill="#c9b819" stroke="#c9b819" stroke-width="0.5"/>
<polygon points="540.6,196 544.3,193.1 540.2,189.6 536.5,192.5" fill="#c0c519" stroke="#c0c519" stroke-width="0.5"/>
<polygon points="564.1,198.3 567.7,195.3 563.6,191.6 560,194.5" fill="#a0cc1a" stroke="#a0cc1a" stroke-width="0.5"/>
<polygon points="579.4,200.1 583,197.2 578.9,193.3 575.4,196.2" fill="#84d21b" stroke="#84d21b" stroke-width="0.5"/>
<polygon points="602,203.6 605.4,200.6 601.4,196.5 598,199.4" fill="#59da1c" stroke="#59da1c" stroke-width="0.5"/>
<polygon points="616.6,206.3 619.9,203.3 616,199.1 612.7,202" fill="#45dd20" stroke="#45dd20" stroke-width="0.5"/>
<polygon points="637.9,210.9 641.1,208 637.3,203.5 634.1,206.4" fill="#22e226" stroke="#22e226" stroke-width="0.5"/>
<polygon points="395.5,195.4 399.7,192.6 396,190.5 391.8,193.2" fill="#af8316" stroke="#af8316" stroke-width="0.5"/>
<polygon points="411.5,194.4 415.8,191.6 412,189.3 407.7,192.1" fill="#b37f16" stroke="#b37f16" stroke-width="0.5"/>
<polygon points="435.8,193.4 439.9,190.6 436,188 431.9,190.9" fill="#b97d17" stroke="#b97d17" stroke-width="0.5"/>
<polygon points="452,193.1 456.1,190.2 452.1,187.5 448,190.4" fill="#bd8017" stroke="#bd8017" stroke-width="0.5"/>
<polygon points="476.4,193.1 480.4,190.2 476.3,187.3 472.3,190.1" fill="#c18b18" stroke="#c18b18" stroke-width="0.5"/>
<polygon points="492.6,193.4 496.5,190.5 492.4,187.4 488.5,190.3" fill="#c49618" stroke="#c49618" stroke-width="0.5"/>
<polygon points="508.7,194 512.6,191.1 508.5,187.9 504.6,190.7" fill="#c7a619" stroke="#c7a619" stroke-width="0.5"/>
<polygon points="516.8,194.4 520.6,191.5 516.4,188.2 512.6,191.1" fill="#c8af19" stroke="#c8af19" stroke-width="0.5"/>
<polygon points="532.7,195.4 536.5,192.5 532.3,189 528.5,191.9" fill="#c9c219" stroke="#c9c219" stroke-width="0.5"/>
<polygon points="548.5,196.7 552.2,193.7 548,190.2 544.3,193.1" fill="#b6c71a" stroke="#b6c71a" stroke-width="0.5"/>
<polygon points="556.3,197.4 560,194.5 555.8,190.8 552.2,193.7" fill="#abca1a" stroke="#abca1a" stroke-width="0.5"/>
<polygon points="571.8,199.2 575.4,196.2 571.3,192.4 567.7,195.3" fill="#93cf1a" stroke="#93cf1a" stroke-width="0.5"/>
<polygon points="587,201.2 590.5,198.3 586.5,194.3 583,197.2" fill="#75d51b" stroke="#75d51b" stroke-width="0.5"/>
<polygon points="594.6,202.3 598,199.4 594,195.4 590.5,198.3" fill="#65d71b" stroke="#65d71b" stroke-width="0.5"/>
<polygon points="609.4,204.9 612.7,202 608.7,197.7 605.4,200.6" fill="#4fdb1e" stroke="#4fdb1e" stroke-width="0.5"/>
<polygon points="623.8,207.7 627.1,204.8 623.2,200.5 619.9,203.3" fill="#3adf22" stroke="#3adf22" stroke-width="0.5"/>
<polygon points="630.9,209.3 634.1,206.4 630.3,201.9 627.1,204.8" fill="#2ee124" stroke="#2ee124" stroke-width="0.5"/>
<polygon points="644.8,212.7 647.9,209.8 644.2,205.2 641.1,208" fill="#1de537" stroke="#1de537" stroke-width="0.5"/>
<polygon points="423.5,196.5 427.7,193.7 423.8,191.2 419.6,194" fill="#b87416" stroke="#b87416" stroke-width="0.5"/>
<polygon points="464.2,195.9 468.3,193 464.2,190.1 460.2,193" fill="#c17d17" stroke="#c17d17" stroke-width="0.5"/>
<polygon points="399.2,197.6 403.5,194.8 399.7,192.6 395.5,195.4" fill="#b27816" stroke="#b27816" stroke-width="0.5"/>
<polygon points="415.4,196.8 419.6,194 415.8,191.6 411.5,194.4" fill="#b67516" stroke="#b67516" stroke-width="0.5"/>
<polygon points="431.6,196.3 435.8,193.4 431.9,190.9 427.7,193.7" fill="#ba7417" stroke="#ba7417" stroke-width="0.5"/>
<polygon points="439.8,196.1 443.9,193.2 439.9,190.6 435.8,193.4" fill="#bc7517" stroke="#bc7517" stroke-width="0.5"/>
<polygon points="456.1,195.9 460.2,193 456.1,190.2 452,193.1" fill="#bf7a17" stroke="#bf7a17" stroke-width="0.5"/>
<polygon points="472.4,196 476.4,193.1 472.3,190.1 468.3,193" fill="#c28118" stroke="#c28118" stroke-width="0.5"/>
<polygon points="480.5,196.1 484.5,193.2 480.4,190.2 476.4,193.1" fill="#c48618" stroke="#c48618" stroke-width="0.5"/>
<polygon points="496.7,196.6 500.7,193.7 496.5,190.5 492.6,193.4" fill="#c69318" stroke="#c69318" stroke-width="0.5"/>
<polygon points="512.9,197.3 516.8,194.4 512.6,191.1 508.7,194" fill="#c9a419" stroke="#c9a419" stroke-width="0.5"/>
<polygon points="520.9,197.8 524.7,194.8 520.6,191.5 516.8,194.4" fill="#caae19" stroke="#caae19" stroke-width="0.5"/>
<polygon points="536.9,198.9 540.6,196 536.5,192.5 532.7,195.4" fill="#cbc419" stroke="#cbc419" stroke-width="0.5"/>
<polygon points="552.6,200.4 556.3,197.4 552.2,193.7 548.5,196.7" fill="#b7c91a" stroke="#b7c91a" stroke-width="0.5"/>
<polygon points="560.5,201.2 564.1,198.3 560,194.5 556.3,197.4" fill="#abcb1a" stroke="#abcb1a" stroke-width="0.5"/>
<polygon points="575.9,203.1 579.4,200.1 575.4,196.2 571.8,199.2" fill="#90d11b" stroke="#90d11b" stroke-width="0.5"/>
<polygon points="591.1,205.3 594.6,202.3 590.5,198.3 587,201.2" fill="#70d71b" stroke="#70d71b" stroke-width="0.5"/>
<polygon points="598.6,206.5 602,203.6 598,199.4 594.6,202.3" fill="#5fda1b" stroke="#5fda1b" stroke-width="0.5"/>
<polygon points="613.3,209.2 616.6,206.3 612.7,202 609.4,204.9" fill="#4bdd1f" stroke="#4bdd1f" stroke-width="0.5"/>
<polygon points="627.7,212.2 630.9,209.3 627.1,204.8 623.8,207.7" fill="#35e123" stroke="#35e123" stroke-width="0.5"/>
<polygon points="634.8,213.8 637.9,210.9 634.1,206.4 630.9,209.3" fill="#29e225" stroke="#29e225" stroke-width="0.5"/>
<polygon points="407.3,197.2 411.5,194.4 407.7,192.1 403.5,194.8" fill="#b47616" stroke="#b47616" stroke-width="0.5"/>
<polygon points="447.9,195.9 452,193.1 448,190.4 443.9,193.2" fill="#be7717" stroke="#be7717" stroke-width="0.5"/>
<polygon points="488.6,196.3 492.6,193.4 488.5,190.3 484.5,193.2" fill="#c58c18" stroke="#c58c18" stroke-width="0.5"/>
<polygon points="504.8,196.9 508.7,194 504.6,190.7 500.7,193.7" fill="#c89b19" stroke="#c89b19" stroke-width="0.5"/>
<polygon points="528.9,198.3 532.7,195.4 528.5,191.9 524.7,194.8" fill="#cbb919" stroke="#cbb919" stroke-width="0.5"/>
<polygon points="544.8,199.6 548.5,196.7 544.3,193.1 540.6,196" fill="#c1c61a" stroke="#c1c61a" stroke-width="0.5"/>
<polygon points="568.2,202.1 571.8,199.2 567.7,195.3 564.1,198.3" fill="#9ece1a" stroke="#9ece1a" stroke-width="0.5"/>
<polygon points="583.5,204.1 587,201.2 583,197.2 579.4,200.1" fill="#81d41b" stroke="#81d41b" stroke-width="0.5"/>
<polygon points="606,207.8 609.4,204.9 605.4,200.6 602,203.6" fill="#56db1d" stroke="#56db1d" stroke-width="0.5"/>
<polygon points="620.6,210.6 623.8,207.7 619.9,203.3 616.6,206.3" fill="#40df21" stroke="#40df21" stroke-width="0.5"/>
<polygon points="641.7,215.5 644.8,212.7 641.1,208 637.9,210.9" fill="#1de429" stroke="#1de429" stroke-width="0.5"/>
<polygon points="419.3,199.3 423.5,196.5 419.6,194 415.4,196.8" fill="#b96b16" stroke="#b96b16" stroke-width="0.5"/>
<polygon points="435.6,198.9 439.8,196.1 435.8,193.4 431.6,196.3" fill="#bd6c17" stroke="#bd6c17" stroke-width="0.5"/>
<polygon points="460.1,198.8 464.2,195.9 460.2,193 456.1,195.9" fill="#c27318" stroke="#c27318" stroke-width="0.5"/>
<polygon points="476.5,199 480.5,196.1 476.4,193.1 472.4,196" fill="#c57d18" stroke="#c57d18" stroke-width="0.5"/>
<polygon points="517.1,200.7 520.9,197.8 516.8,194.4 512.9,197.3" fill="#cba319" stroke="#cba319" stroke-width="0.5"/>
<polygon points="556.8,204.2 560.5,201.2 556.3,197.4 552.6,200.4" fill="#b6cb1a" stroke="#b6cb1a" stroke-width="0.5"/>
<polygon points="595.1,209.4 598.6,206.5 594.6,202.3 591.1,205.3" fill="#6bd91b" stroke="#6bd91b" stroke-width="0.5"/>
<polygon points="631.5,216.7 634.8,213.8 630.9,209.3 627.7,212.2" fill="#2fe224" stroke="#2fe224" stroke-width="0.5"/>
<polygon points="411.1,199.6 415.4,196.8 411.5,194.4 407.3,197.2" fill="#b76c16" stroke="#b76c16" stroke-width="0.5"/>
<polygon points="427.4,199.1 431.6,196.3 427.7,193.7 423.5,196.5" fill="#bb6b17" stroke="#bb6b17" stroke-width="0.5"/>
<polygon points="452,198.8 456.1,195.9 452,193.1 447.9,195.9" fill="#c07017" stroke="#c07017" stroke-width="0.5"/>
<polygon points="468.3,198.9 472.4,196 468.3,193 464.2,195.9" fill="#c37818" stroke="#c37818" stroke-width="0.5"/>
<polygon points="492.8,199.5 496.7,196.6 492.6,193.4 488.6,196.3" fill="#c78918" stroke="#c78918" stroke-width="0.5"/>
<polygon points="509,200.2 512.9,197.3 508.7,194 504.8,196.9" fill="#ca9a19" stroke="#ca9a19" stroke-width="0.5"/>
<polygon points="533.1,201.9 536.9,198.9 532.7,195.4 528.9,198.3" fill="#cdba19" stroke="#cdba19" stroke-width="0.5"/>
<polygon points="548.9,203.3 552.6,200.4 548.5,196.7 544.8,199.6" fill="#c2c81a" stroke="#c2c81a" stroke-width="0.5"/>
<polygon points="572.3,206 575.9,203.1 571.8,199.2 568.2,202.1" fill="#9cd01b" stroke="#9cd01b" stroke-width="0.5"/>
<polygon points="587.6,208.2 591.1,205.3 587,201.2 583.5,204.1" fill="#7cd61b" stroke="#7cd61b" stroke-width="0.5"/>
<polygon points="610,212.1 613.3,209.2 609.4,204.9 606,207.8" fill="#52dd1e" stroke="#52dd1e" stroke-width="0.5"/>
<polygon points="624.4,215.1 627.7,212.2 623.8,207.7 620.6,210.6" fill="#3be122" stroke="#3be122" stroke-width="0.5"/>
<polygon points="403,200 407.3,197.2 403.5,194.8 399.2,197.6" fill="#b56d16" stroke="#b56d16" stroke-width="0.5"/>
<polygon points="443.8,198.8 447.9,195.9 443.9,193.2 439.8,196.1" fill="#be6e17" stroke="#be6e17" stroke-width="0.5"/>
<polygon points="484.6,199.2 488.6,196.3 484.5,193.2 480.5,196.1" fill="#c68218" stroke="#c68218" stroke-width="0.5"/>
<polygon points="500.9,199.8 504.8,196.9 500.7,193.7 496.7,196.6" fill="#c99119" stroke="#c99119" stroke-width="0.5"/>
<polygon points="525.1,201.3 528.9,198.3 524.7,194.8 520.9,197.8" fill="#ccae19" stroke="#ccae19" stroke-width="0.5"/>
<polygon points="541,202.6 544.8,199.6 540.6,196 536.9,198.9" fill="#ccc61a" stroke="#ccc61a" stroke-width="0.5"/>
<polygon points="564.6,205.1 568.2,202.1 564.1,198.3 560.5,201.2" fill="#a9cd1a" stroke="#a9cd1a" stroke-width="0.5"/>
<polygon points="580,207.1 583.5,204.1 579.4,200.1 575.9,203.1" fill="#8cd31b" stroke="#8cd31b" stroke-width="0.5"/>
<polygon points="602.6,210.7 606,207.8 602,203.6 598.6,206.5" fill="#5cdb1c" stroke="#5cdb1c" stroke-width="0.5"/>
<polygon points="617.2,213.6 620.6,210.6 616.6,206.3 613.3,209.2" fill="#47df20" stroke="#47df20" stroke-width="0.5"/>
<polygon points="638.6,218.4 641.7,215.5 637.9,210.9 634.8,213.8" fill="#22e427" stroke="#22e427" stroke-width="0.5"/>
<polygon points="415,202.2 419.3,199.3 415.4,196.8 411.1,199.6" fill="#ba6216" stroke="#ba6216" stroke-width="0.5"/>
<polygon points="431.4,201.8 435.6,198.9 431.6,196.3 427.4,199.1" fill="#be6317" stroke="#be6317" stroke-width="0.5"/>
<polygon points="456,201.7 460.1,198.8 456.1,195.9 452,198.8" fill="#c36a18" stroke="#c36a18" stroke-width="0.5"/>
<polygon points="472.4,201.9 476.5,199 472.4,196 468.3,198.9" fill="#c67318" stroke="#c67318" stroke-width="0.5"/>
<polygon points="513.2,203.7 517.1,200.7 512.9,197.3 509,200.2" fill="#cc9919" stroke="#cc9919" stroke-width="0.5"/>
<polygon points="553.1,207.1 556.8,204.2 552.6,200.4 548.9,203.3" fill="#c1ca1a" stroke="#c1ca1a" stroke-width="0.5"/>
<polygon points="591.7,212.4 595.1,209.4 591.1,205.3 587.6,208.2" fill="#77d81b" stroke="#77d81b" stroke-width="0.5"/>
<polygon points="628.3,219.7 631.5,216.7 627.7,212.2 624.4,215.1" fill="#36e223" stroke="#36e223" stroke-width="0.5"/>
<polygon points="406.9,202.5 411.1,199.6 407.3,197.2 403,200" fill="#b86316" stroke="#b86316" stroke-width="0.5"/>
<polygon points="423.2,202 427.4,199.1 423.5,196.5 419.3,199.3" fill="#bc6217" stroke="#bc6217" stroke-width="0.5"/>
<polygon points="439.6,201.7 443.8,198.8 439.8,196.1 435.6,198.9" fill="#bf6417" stroke="#bf6417" stroke-width="0.5"/>
<polygon points="447.8,201.7 452,198.8 447.9,195.9 443.8,198.8" fill="#c16717" stroke="#c16717" stroke-width="0.5"/>
<polygon points="464.2,201.8 468.3,198.9 464.2,195.9 460.1,198.8" fill="#c46e18" stroke="#c46e18" stroke-width="0.5"/>
<polygon points="480.6,202.2 484.6,199.2 480.5,196.1 476.5,199" fill="#c77918" stroke="#c77918" stroke-width="0.5"/>
<polygon points="488.8,202.4 492.8,199.5 488.6,196.3 484.6,199.2" fill="#c87f18" stroke="#c87f18" stroke-width="0.5"/>
<polygon points="505.1,203.2 509,200.2 504.8,196.9 500.9,199.8" fill="#cb8f19" stroke="#cb8f19" stroke-width="0.5"/>
<polygon points="521.3,204.2 525.1,201.3 520.9,197.8 517.1,200.7" fill="#cda419" stroke="#cda419" stroke-width="0.5"/>
<polygon points="529.3,204.8 533.1,201.9 528.9,198.3 525.1,201.3" fill="#ceaf19" stroke="#ceaf19" stroke-width="0.5"/>
<polygon points="545.2,206.3 548.9,203.3 544.8,199.6 541,202.6" fill="#cdc71a" stroke="#cdc71a" stroke-width="0.5"/>
<polygon points="560.9,208 564.6,205.1 560.5,201.2 556.8,204.2" fill="#b5cd1a" stroke="#b5cd1a" stroke-width="0.5"/>
<polygon points="568.7,209 572.3,206 568.2,202.1 564.6,205.1" fill="#a7cf1b" stroke="#a7cf1b" stroke-width="0.5"/>
<polygon points="584.1,211.2 587.6,208.2 583.5,204.1 580,207.1" fill="#88d51b" stroke="#88d51b" stroke-width="0.5"/>
<polygon points="599.2,213.7 602.6,210.7 598.6,206.5 595.1,209.4" fill="#64db1b" stroke="#64db1b" stroke-width="0.5"/>
<polygon points="606.6,215.1 610,212.1 606,207.8 602.6,210.7" fill="#58dd1d" stroke="#58dd1d" stroke-width="0.5"/>
<polygon points="621.2,218 624.4,215.1 620.6,210.6 617.2,213.6" fill="#42e121" stroke="#42e121" stroke-width="0.5"/>
<polygon points="635.4,221.4 638.6,218.4 634.8,213.8 631.5,216.7" fill="#29e426" stroke="#29e426" stroke-width="0.5"/>
<polygon points="497,202.8 500.9,199.8 496.7,196.6 492.8,199.5" fill="#ca8719" stroke="#ca8719" stroke-width="0.5"/>
<polygon points="537.3,205.5 541,202.6 536.9,198.9 533.1,201.9" fill="#cebc1a" stroke="#cebc1a" stroke-width="0.5"/>
<polygon points="576.4,210.1 580,207.1 575.9,203.1 572.3,206" fill="#98d21b" stroke="#98d21b" stroke-width="0.5"/>
<polygon points="613.9,216.5 617.2,213.6 613.3,209.2 610,212.1" fill="#4ddf1f" stroke="#4ddf1f" stroke-width="0.5"/>
<polygon points="410.7,205 415,202.2 411.1,199.6 406.9,202.5" fill="#bb5916" stroke="#bb5916" stroke-width="0.5"/>
<polygon points="427.2,204.7 431.4,201.8 427.4,199.1 423.2,202" fill="#be5a17" stroke="#be5a17" stroke-width="0.5"/>
<polygon points="443.7,204.6 447.8,201.7 443.8,198.8 439.6,201.7" fill="#c25d17" stroke="#c25d17" stroke-width="0.5"/>
<polygon points="451.9,204.6 456,201.7 452,198.8 447.8,201.7" fill="#c46018" stroke="#c46018" stroke-width="0.5"/>
<polygon points="468.4,204.9 472.4,201.9 468.3,198.9 464.2,201.8" fill="#c76918" stroke="#c76918" stroke-width="0.5"/>
<polygon points="484.8,205.4 488.8,202.4 484.6,199.2 480.6,202.2" fill="#c97518" stroke="#c97518" stroke-width="0.5"/>
<polygon points="509.3,206.6 513.2,203.7 509,200.2 505.1,203.2" fill="#cd8f19" stroke="#cd8f19" stroke-width="0.5"/>
<polygon points="525.5,207.8 529.3,204.8 525.1,201.3 521.3,204.2" fill="#cfa519" stroke="#cfa519" stroke-width="0.5"/>
<polygon points="549.4,210.1 553.1,207.1 548.9,203.3 545.2,206.3" fill="#ccc91a" stroke="#ccc91a" stroke-width="0.5"/>
<polygon points="565.1,212 568.7,209 564.6,205.1 560.9,208" fill="#b2cf1b" stroke="#b2cf1b" stroke-width="0.5"/>
<polygon points="588.2,215.4 591.7,212.4 587.6,208.2 584.1,211.2" fill="#82d71b" stroke="#82d71b" stroke-width="0.5"/>
<polygon points="603.2,218 606.6,215.1 602.6,210.7 599.2,213.7" fill="#5fdd1c" stroke="#5fdd1c" stroke-width="0.5"/>
<polygon points="625.1,222.6 628.3,219.7 624.4,215.1 621.2,218" fill="#3ce222" stroke="#3ce222" stroke-width="0.5"/>
<polygon points="419,204.8 423.2,202 419.3,199.3 415,202.2" fill="#bd5917" stroke="#bd5917" stroke-width="0.5"/>
<polygon points="435.4,204.6 439.6,201.7 435.6,198.9 431.4,201.8" fill="#c05b17" stroke="#c05b17" stroke-width="0.5"/>
<polygon points="460.1,204.7 464.2,201.8 460.1,198.8 456,201.7" fill="#c56418" stroke="#c56418" stroke-width="0.5"/>
<polygon points="476.6,205.1 480.6,202.2 476.5,199 472.4,201.9" fill="#c86f18" stroke="#c86f18" stroke-width="0.5"/>
<polygon points="501.1,206.2 505.1,203.2 500.9,199.8 497,202.8" fill="#cc8519" stroke="#cc8519" stroke-width="0.5"/>
<polygon points="517.4,207.2 521.3,204.2 517.1,200.7 513.2,203.7" fill="#ce9919" stroke="#ce9919" stroke-width="0.5"/>
<polygon points="541.5,209.3 545.2,206.3 541,202.6 537.3,205.5" fill="#d0bf1a" stroke="#d0bf1a" stroke-width="0.5"/>
<polygon points="557.3,211 560.9,208 556.8,204.2 553.1,207.1" fill="#c0cc1a" stroke="#c0cc1a" stroke-width="0.5"/>
<polygon points="580.5,214.2 584.1,211.2 580,207.1 576.4,210.1" fill="#94d41b" stroke="#94d41b" stroke-width="0.5"/>
<polygon points="595.7,216.6 599.2,213.7 595.1,209.4 591.7,212.4" fill="#70da1b" stroke="#70da1b" stroke-width="0.5"/>
<polygon points="617.9,221 621.2,218 617.2,213.6 613.9,216.5" fill="#49e120" stroke="#49e120" stroke-width="0.5"/>
<polygon points="632.2,224.3 635.4,221.4 631.5,216.7 628.3,219.7" fill="#30e425" stroke="#30e425" stroke-width="0.5"/>
<polygon points="493,205.7 497,202.8 492.8,199.5 488.8,202.4" fill="#cb7d19" stroke="#cb7d19" stroke-width="0.5"/>
<polygon points="533.5,208.5 537.3,205.5 533.1,201.9 529.3,204.8" fill="#cfb11a" stroke="#cfb11a" stroke-width="0.5"/>
<polygon points="572.8,213 576.4,210.1 572.3,206 568.7,209" fill="#a4d11b" stroke="#a4d11b" stroke-width="0.5"/>
<polygon points="610.6,219.5 613.9,216.5 610,212.1 606.6,215.1" fill="#54df1e" stroke="#54df1e" stroke-width="0.5"/>
<polygon points="447.7,207.5 451.9,204.6 447.8,201.7 443.7,204.6" fill="#c45718" stroke="#c45718" stroke-width="0.5"/>
<polygon points="422.9,207.6 427.2,204.7 423.2,202 419,204.8" fill="#bf5117" stroke="#bf5117" stroke-width="0.5"/>
<polygon points="439.5,207.5 443.7,204.6 439.6,201.7 435.4,204.6" fill="#c35417" stroke="#c35417" stroke-width="0.5"/>
<polygon points="464.3,207.8 468.4,204.9 464.2,201.8 460.1,204.7" fill="#c75f18" stroke="#c75f18" stroke-width="0.5"/>
<polygon points="480.8,208.3 484.8,205.4 480.6,202.2 476.6,205.1" fill="#ca6b18" stroke="#ca6b18" stroke-width="0.5"/>
<polygon points="505.4,209.6 509.3,206.6 505.1,203.2 501.1,206.2" fill="#ce8419" stroke="#ce8419" stroke-width="0.5"/>
<polygon points="521.6,210.8 525.5,207.8 521.3,204.2 517.4,207.2" fill="#d09a19" stroke="#d09a19" stroke-width="0.5"/>
<polygon points="545.7,213.1 549.4,210.1 545.2,206.3 541.5,209.3" fill="#d2c21a" stroke="#d2c21a" stroke-width="0.5"/>
<polygon points="561.4,215 565.1,212 560.9,208 557.3,211" fill="#bece1b" stroke="#bece1b" stroke-width="0.5"/>
<polygon points="584.6,218.4 588.2,215.4 584.1,211.2 580.5,214.2" fill="#8ed71b" stroke="#8ed71b" stroke-width="0.5"/>
<polygon points="599.7,221 603.2,218 599.2,213.7 595.7,216.6" fill="#68dd1c" stroke="#68dd1c" stroke-width="0.5"/>
<polygon points="621.8,225.6 625.1,222.6 621.2,218 617.9,221" fill="#43e321" stroke="#43e321" stroke-width="0.5"/>
<polygon points="414.7,207.7 419,204.8 415,202.2 410.7,205" fill="#bd5017" stroke="#bd5017" stroke-width="0.5"/>
<polygon points="431.2,207.5 435.4,204.6 431.4,201.8 427.2,204.7" fill="#c15217" stroke="#c15217" stroke-width="0.5"/>
<polygon points="456,207.6 460.1,204.7 456,201.7 451.9,204.6" fill="#c65b18" stroke="#c65b18" stroke-width="0.5"/>
<polygon points="472.5,208 476.6,205.1 472.4,201.9 468.4,204.9" fill="#c96518" stroke="#c96518" stroke-width="0.5"/>
<polygon points="489,208.7 493,205.7 488.8,202.4 484.8,205.4" fill="#cb7319" stroke="#cb7319" stroke-width="0.5"/>
<polygon points="497.2,209.1 501.1,206.2 497,202.8 493,205.7" fill="#cd7b19" stroke="#cd7b19" stroke-width="0.5"/>
<polygon points="513.5,210.2 517.4,207.2 513.2,203.7 509.3,206.6" fill="#cf8f19" stroke="#cf8f19" stroke-width="0.5"/>
<polygon points="529.7,211.5 533.5,208.5 529.3,204.8 525.5,207.8" fill="#d0a61a" stroke="#d0a61a" stroke-width="0.5"/>
<polygon points="537.7,212.3 541.5,209.3 537.3,205.5 533.5,208.5" fill="#d1b41a" stroke="#d1b41a" stroke-width="0.5"/>
<polygon points="553.6,214 557.3,211 553.1,207.1 549.4,210.1" fill="#cbcb1a" stroke="#cbcb1a" stroke-width="0.5"/>
<polygon points="569.2,216 572.8,213 568.7,209 565.1,212" fill="#afd11b" stroke="#afd11b" stroke-width="0.5"/>
<polygon points="577,217.1 580.5,214.2 576.4,210.1 572.8,213" fill="#9fd41b" stroke="#9fd41b" stroke-width="0.5"/>
<polygon points="592.2,219.6 595.7,216.6 591.7,212.4 588.2,215.4" fill="#7cda1b" stroke="#7cda1b" stroke-width="0.5"/>
<polygon points="607.2,222.4 610.6,219.5 606.6,215.1 603.2,218" fill="#5adf1d" stroke="#5adf1d" stroke-width="0.5"/>
<polygon points="614.5,223.9 617.9,221 613.9,216.5 610.6,219.5" fill="#4fe11f" stroke="#4fe11f" stroke-width="0.5"/>
<polygon points="628.9,227.2 632.2,224.3 628.3,219.7 625.1,222.6" fill="#36e424" stroke="#36e424" stroke-width="0.5"/>
<polygon points="443.5,210.5 447.7,207.5 443.7,204.6 439.5,207.5" fill="#c54d18" stroke="#c54d18" stroke-width="0.5"/>
<polygon points="418.7,210.5 422.9,207.6 419,204.8 414.7,207.7" fill="#c04817" stroke="#c04817" stroke-width="0.5"/>
<polygon points="435.2,210.4 439.5,207.5 435.4,204.6 431.2,207.5" fill="#c44b17" stroke="#c44b17" stroke-width="0.5"/>
<polygon points="451.8,210.6 456,207.6 451.9,204.6 447.7,207.5" fill="#c75118" stroke="#c75118" stroke-width="0.5"/>
<polygon points="460.1,210.8 464.3,207.8 460.1,204.7 456,207.6" fill="#c85618" stroke="#c85618" stroke-width="0.5"/>
<polygon points="476.7,211.3 480.8,208.3 476.6,205.1 472.5,208" fill="#cb6118" stroke="#cb6118" stroke-width="0.5"/>
<polygon points="493.2,212.1 497.2,209.1 493,205.7 489,208.7" fill="#ce7119" stroke="#ce7119" stroke-width="0.5"/>
<polygon points="501.4,212.6 505.4,209.6 501.1,206.2 497.2,209.1" fill="#cf7a19" stroke="#cf7a19" stroke-width="0.5"/>
<polygon points="517.7,213.8 521.6,210.8 517.4,207.2 513.5,210.2" fill="#d18f19" stroke="#d18f19" stroke-width="0.5"/>
<polygon points="533.9,215.3 537.7,212.3 533.5,208.5 529.7,211.5" fill="#d2a91a" stroke="#d2a91a" stroke-width="0.5"/>
<polygon points="541.9,216.1 545.7,213.1 541.5,209.3 537.7,212.3" fill="#d3b71a" stroke="#d3b71a" stroke-width="0.5"/>
<polygon points="557.7,218 561.4,215 557.3,211 553.6,214" fill="#c9cd1b" stroke="#c9cd1b" stroke-width="0.5"/>
<polygon points="573.4,220.1 577,217.1 572.8,213 569.2,216" fill="#abd31b" stroke="#abd31b" stroke-width="0.5"/>
<polygon points="581.1,221.3 584.6,218.4 580.5,214.2 577,217.1" fill="#9ad61b" stroke="#9ad61b" stroke-width="0.5"/>
<polygon points="596.3,224 599.7,221 595.7,216.6 592.2,219.6" fill="#74dc1c" stroke="#74dc1c" stroke-width="0.5"/>
<polygon points="611.1,226.9 614.5,223.9 610.6,219.5 607.2,222.4" fill="#55e11e" stroke="#55e11e" stroke-width="0.5"/>
<polygon points="618.4,228.5 621.8,225.6 617.9,221 614.5,223.9" fill="#4ae320" stroke="#4ae320" stroke-width="0.5"/>
<polygon points="426.9,210.4 431.2,207.5 427.2,204.7 422.9,207.6" fill="#c24917" stroke="#c24917" stroke-width="0.5"/>
<polygon points="468.4,211 472.5,208 468.4,204.9 464.3,207.8" fill="#ca5b18" stroke="#ca5b18" stroke-width="0.5"/>
<polygon points="485,211.7 489,208.7 484.8,205.4 480.8,208.3" fill="#cc6919" stroke="#cc6919" stroke-width="0.5"/>
<polygon points="509.6,213.2 513.5,210.2 509.3,206.6 505.4,209.6" fill="#d08419" stroke="#d08419" stroke-width="0.5"/>
<polygon points="525.8,214.5 529.7,211.5 525.5,207.8 521.6,210.8" fill="#d19c1a" stroke="#d19c1a" stroke-width="0.5"/>
<polygon points="549.8,217 553.6,214 549.4,210.1 545.7,213.1" fill="#d3c71a" stroke="#d3c71a" stroke-width="0.5"/>
<polygon points="565.6,219 569.2,216 565.1,212 561.4,215" fill="#bbd01b" stroke="#bbd01b" stroke-width="0.5"/>
<polygon points="588.7,222.6 592.2,219.6 588.2,215.4 584.6,218.4" fill="#88d91b" stroke="#88d91b" stroke-width="0.5"/>
<polygon points="603.8,225.4 607.2,222.4 603.2,218 599.7,221" fill="#61df1c" stroke="#61df1c" stroke-width="0.5"/>
<polygon points="625.6,230.2 628.9,227.2 625.1,222.6 621.8,225.6" fill="#3de423" stroke="#3de423" stroke-width="0.5"/>
<polygon points="439.3,213.4 443.5,210.5 439.5,207.5 435.2,210.4" fill="#c64418" stroke="#c64418" stroke-width="0.5"/>
<polygon points="456,213.7 460.1,210.8 456,207.6 451.8,210.6" fill="#c94c18" stroke="#c94c18" stroke-width="0.5"/>
<polygon points="497.4,215.6 501.4,212.6 497.2,209.1 493.2,212.1" fill="#d07019" stroke="#d07019" stroke-width="0.5"/>
<polygon points="538.1,219.1 541.9,216.1 537.7,212.3 533.9,215.3" fill="#d4ad1a" stroke="#d4ad1a" stroke-width="0.5"/>
<polygon points="577.5,224.4 581.1,221.3 577,217.1 573.4,220.1" fill="#a6d51b" stroke="#a6d51b" stroke-width="0.5"/>
<polygon points="615.1,231.5 618.4,228.5 614.5,223.9 611.1,226.9" fill="#50e31f" stroke="#50e31f" stroke-width="0.5"/>
<polygon points="431,213.3 435.2,210.4 431.2,207.5 426.9,210.4" fill="#c54117" stroke="#c54117" stroke-width="0.5"/>
<polygon points="447.7,213.5 451.8,210.6 447.7,207.5 443.5,210.5" fill="#c84818" stroke="#c84818" stroke-width="0.5"/>
<polygon points="472.6,214.3 476.7,211.3 472.5,208 468.4,211" fill="#cc5718" stroke="#cc5718" stroke-width="0.5"/>
<polygon points="489.2,215.1 493.2,212.1 489,208.7 485,211.7" fill="#cf6719" stroke="#cf6719" stroke-width="0.5"/>
<polygon points="513.8,216.8 517.7,213.8 513.5,210.2 509.6,213.2" fill="#d18519" stroke="#d18519" stroke-width="0.5"/>
<polygon points="530,218.3 533.9,215.3 529.7,211.5 525.8,214.5" fill="#d39e1a" stroke="#d39e1a" stroke-width="0.5"/>
<polygon points="554,221 557.7,218 553.6,214 549.8,217" fill="#d4cc1b" stroke="#d4cc1b" stroke-width="0.5"/>
<polygon points="569.7,223.2 573.4,220.1 569.2,216 565.6,219" fill="#b6d21b" stroke="#b6d21b" stroke-width="0.5"/>
<polygon points="592.8,227 596.3,224 592.2,219.6 588.7,222.6" fill="#80db1c" stroke="#80db1c" stroke-width="0.5"/>
<polygon points="607.7,229.9 611.1,226.9 607.2,222.4 603.8,225.4" fill="#5ce11d" stroke="#5ce11d" stroke-width="0.5"/>
<polygon points="422.7,213.3 426.9,210.4 422.9,207.6 418.7,210.5" fill="#c34017" stroke="#c34017" stroke-width="0.5"/>
<polygon points="464.3,214 468.4,211 464.3,207.8 460.1,210.8" fill="#cb5118" stroke="#cb5118" stroke-width="0.5"/>
<polygon points="480.9,214.7 485,211.7 480.8,208.3 476.7,211.3" fill="#cd5f19" stroke="#cd5f19" stroke-width="0.5"/>
<polygon points="505.6,216.2 509.6,213.2 505.4,209.6 501.4,212.6" fill="#d17a19" stroke="#d17a19" stroke-width="0.5"/>
<polygon points="521.9,217.5 525.8,214.5 521.6,210.8 517.7,213.8" fill="#d2911a" stroke="#d2911a" stroke-width="0.5"/>
<polygon points="546.1,220 549.8,217 545.7,213.1 541.9,216.1" fill="#d4bc1a" stroke="#d4bc1a" stroke-width="0.5"/>
<polygon points="561.9,222 565.6,219 561.4,215 557.7,218" fill="#c6cf1b" stroke="#c6cf1b" stroke-width="0.5"/>
<polygon points="585.2,225.6 588.7,222.6 584.6,218.4 581.1,221.3" fill="#94d81b" stroke="#94d81b" stroke-width="0.5"/>
<polygon points="600.3,228.4 603.8,225.4 599.7,221 596.3,224" fill="#6cde1c" stroke="#6cde1c" stroke-width="0.5"/>
<polygon points="622.4,233.2 625.6,230.2 621.8,225.6 618.4,228.5" fill="#43e422" stroke="#43e422" stroke-width="0.5"/>
<polygon points="435.1,216.4 439.3,213.4 435.2,210.4 431,213.3" fill="#c73b18" stroke="#c73b18" stroke-width="0.5"/>
<polygon points="451.8,216.7 456,213.7 451.8,210.6 447.7,213.5" fill="#ca4218" stroke="#ca4218" stroke-width="0.5"/>
<polygon points="493.4,218.6 497.4,215.6 493.2,212.1 489.2,215.1" fill="#d16519" stroke="#d16519" stroke-width="0.5"/>
<polygon points="534.3,222.1 538.1,219.1 533.9,215.3 530,218.3" fill="#d5a21a" stroke="#d5a21a" stroke-width="0.5"/>
<polygon points="573.9,227.4 577.5,224.4 573.4,220.1 569.7,223.2" fill="#b1d41b" stroke="#b1d41b" stroke-width="0.5"/>
<polygon points="611.7,234.5 615.1,231.5 611.1,226.9 607.7,229.9" fill="#57e31e" stroke="#57e31e" stroke-width="0.5"/>
<polygon points="426.7,216.3 431,213.3 426.9,210.4 422.7,213.3" fill="#c53817" stroke="#c53817" stroke-width="0.5"/>
<polygon points="443.5,216.5 447.7,213.5 443.5,210.5 439.3,213.4" fill="#c93e18" stroke="#c93e18" stroke-width="0.5"/>
<polygon points="460.2,217 464.3,214 460.1,210.8 456,213.7" fill="#cc4818" stroke="#cc4818" stroke-width="0.5"/>
<polygon points="468.5,217.3 472.6,214.3 468.4,211 464.3,214" fill="#cd4e18" stroke="#cd4e18" stroke-width="0.5"/>
<polygon points="485.1,218.1 489.2,215.1 485,211.7 480.9,214.7" fill="#cf5d19" stroke="#cf5d19" stroke-width="0.5"/>
<polygon points="501.6,219.2 505.6,216.2 501.4,212.6 497.4,215.6" fill="#d26f19" stroke="#d26f19" stroke-width="0.5"/>
<polygon points="509.9,219.8 513.8,216.8 509.6,213.2 505.6,216.2" fill="#d27a19" stroke="#d27a19" stroke-width="0.5"/>
<polygon points="526.2,221.3 530,218.3 525.8,214.5 521.9,217.5" fill="#d4941a" stroke="#d4941a" stroke-width="0.5"/>
<polygon points="542.3,223 546.1,220 541.9,216.1 538.1,219.1" fill="#d5b11a" stroke="#d5b11a" stroke-width="0.5"/>
<polygon points="550.3,224 554,221 549.8,217 546.1,220" fill="#d6c11b" stroke="#d6c11b" stroke-width="0.5"/>
<polygon points="566.1,226.2 569.7,223.2 565.6,219 561.9,222" fill="#c2d11b" stroke="#c2d11b" stroke-width="0.5"/>
<polygon points="581.6,228.6 585.2,225.6 581.1,221.3 577.5,224.4" fill="#9fd71b" stroke="#9fd71b" stroke-width="0.5"/>
<polygon points="589.3,230 592.8,227 588.7,222.6 585.2,225.6" fill="#8cda1c" stroke="#8cda1c" stroke-width="0.5"/>
<polygon points="604.3,232.9 607.7,229.9 603.8,225.4 600.3,228.4" fill="#62e11c" stroke="#62e11c" stroke-width="0.5"/>
<polygon points="619,236.2 622.4,233.2 618.4,228.5 615.1,231.5" fill="#4ae421" stroke="#4ae421" stroke-width="0.5"/>
<polygon points="476.8,217.7 480.9,214.7 476.7,211.3 472.6,214.3" fill="#ce5519" stroke="#ce5519" stroke-width="0.5"/>
<polygon points="518,220.5 521.9,217.5 517.7,213.8 513.8,216.8" fill="#d3861a" stroke="#d3861a" stroke-width="0.5"/>
<polygon points="558.2,225.1 561.9,222 557.7,218 554,221" fill="#d1ce1b" stroke="#d1ce1b" stroke-width="0.5"/>
<polygon points="596.8,231.4 600.3,228.4 596.3,224 592.8,227" fill="#78de1c" stroke="#78de1c" stroke-width="0.5"/>
<polygon points="430.8,219.3 435.1,216.4 431,213.3 426.7,216.3" fill="#c83118" stroke="#c83118" stroke-width="0.5"/>
<polygon points="447.6,219.7 451.8,216.7 447.7,213.5 443.5,216.5" fill="#cb3918" stroke="#cb3918" stroke-width="0.5"/>
<polygon points="464.4,220.3 468.5,217.3 464.3,214 460.2,217" fill="#ce4418" stroke="#ce4418" stroke-width="0.5"/>
<polygon points="489.4,221.6 493.4,218.6 489.2,215.1 485.1,218.1" fill="#d25b19" stroke="#d25b19" stroke-width="0.5"/>
<polygon points="505.9,222.9 509.9,219.8 505.6,216.2 501.6,219.2" fill="#d3701a" stroke="#d3701a" stroke-width="0.5"/>
<polygon points="530.4,225.2 534.3,222.1 530,218.3 526.2,221.3" fill="#d6971a" stroke="#d6971a" stroke-width="0.5"/>
<polygon points="546.5,227.1 550.3,224 546.1,220 542.3,223" fill="#d7b61b" stroke="#d7b61b" stroke-width="0.5"/>
<polygon points="570.3,230.4 573.9,227.4 569.7,223.2 566.1,226.2" fill="#bdd41b" stroke="#bdd41b" stroke-width="0.5"/>
<polygon points="585.7,233 589.3,230 585.2,225.6 581.6,228.6" fill="#98da1c" stroke="#98da1c" stroke-width="0.5"/>
<polygon points="608.3,237.5 611.7,234.5 607.7,229.9 604.3,232.9" fill="#5de31d" stroke="#5de31d" stroke-width="0.5"/>
<polygon points="439.2,219.5 443.5,216.5 439.3,213.4 435.1,216.4" fill="#ca3518" stroke="#ca3518" stroke-width="0.5"/>
<polygon points="456,220 460.2,217 456,213.7 451.8,216.7" fill="#cd3e18" stroke="#cd3e18" stroke-width="0.5"/>
<polygon points="481,221.1 485.1,218.1 480.9,214.7 476.8,217.7" fill="#d05319" stroke="#d05319" stroke-width="0.5"/>
<polygon points="497.6,222.2 501.6,219.2 497.4,215.6 493.4,218.6" fill="#d36519" stroke="#d36519" stroke-width="0.5"/>
<polygon points="522.3,224.3 526.2,221.3 521.9,217.5 518,220.5" fill="#d5891a" stroke="#d5891a" stroke-width="0.5"/>
<polygon points="538.5,226.1 542.3,223 538.1,219.1 534.3,222.1" fill="#d6a61a" stroke="#d6a61a" stroke-width="0.5"/>
<polygon points="562.4,229.2 566.1,226.2 561.9,222 558.2,225.1" fill="#cdd11b" stroke="#cdd11b" stroke-width="0.5"/>
<polygon points="578,231.7 581.6,228.6 577.5,224.4 573.9,227.4" fill="#abd71b" stroke="#abd71b" stroke-width="0.5"/>
<polygon points="600.9,235.9 604.3,232.9 600.3,228.4 596.8,231.4" fill="#6ee01c" stroke="#6ee01c" stroke-width="0.5"/>
<polygon points="615.7,239.2 619,236.2 615.1,231.5 611.7,234.5" fill="#51e420" stroke="#51e420" stroke-width="0.5"/>
<polygon points="472.7,220.7 476.8,217.7 472.6,214.3 468.5,217.3" fill="#cf4b19" stroke="#cf4b19" stroke-width="0.5"/>
<polygon points="514.1,223.6 518,220.5 513.8,216.8 509.9,219.8" fill="#d47c1a" stroke="#d47c1a" stroke-width="0.5"/>
<polygon points="554.5,228.1 558.2,225.1 554,221 550.3,224" fill="#d7c81b" stroke="#d7c81b" stroke-width="0.5"/>
<polygon points="593.3,234.4 596.8,231.4 592.8,227 589.3,230" fill="#84dd1c" stroke="#84dd1c" stroke-width="0.5"/>
<polygon points="443.4,222.7 447.6,219.7 443.5,216.5 439.2,219.5" fill="#cc2f18" stroke="#cc2f18" stroke-width="0.5"/>
<polygon points="460.2,223.3 464.4,220.3 460.2,217 456,220" fill="#cf3a18" stroke="#cf3a18" stroke-width="0.5"/>
<polygon points="485.3,224.7 489.4,221.6 485.1,218.1 481,221.1" fill="#d25119" stroke="#d25119" stroke-width="0.5"/>
<polygon points="501.9,225.9 505.9,222.9 501.6,219.2 497.6,222.2" fill="#d4661a" stroke="#d4661a" stroke-width="0.5"/>
<polygon points="526.5,228.2 530.4,225.2 526.2,221.3 522.3,224.3" fill="#d78c1a" stroke="#d78c1a" stroke-width="0.5"/>
<polygon points="542.7,230.1 546.5,227.1 542.3,223 538.5,226.1" fill="#d8ab1b" stroke="#d8ab1b" stroke-width="0.5"/>
<polygon points="566.6,233.5 570.3,230.4 566.1,226.2 562.4,229.2" fill="#c8d31b" stroke="#c8d31b" stroke-width="0.5"/>
<polygon points="582.2,236.1 585.7,233 581.6,228.6 578,231.7" fill="#a4d91c" stroke="#a4d91c" stroke-width="0.5"/>
<polygon points="604.9,240.5 608.3,237.5 604.3,232.9 600.9,235.9" fill="#63e31c" stroke="#63e31c" stroke-width="0.5"/>
<polygon points="435,222.5 439.2,219.5 435.1,216.4 430.8,219.3" fill="#ca2b18" stroke="#ca2b18" stroke-width="0.5"/>
<polygon points="451.8,223 456,220 451.8,216.7 447.6,219.7" fill="#cd3418" stroke="#cd3418" stroke-width="0.5"/>
<polygon points="468.6,223.7 472.7,220.7 468.5,217.3 464.4,220.3" fill="#d04119" stroke="#d04119" stroke-width="0.5"/>
<polygon points="477,224.2 481,221.1 476.8,217.7 472.7,220.7" fill="#d14919" stroke="#d14919" stroke-width="0.5"/>
<polygon points="493.6,225.3 497.6,222.2 493.4,218.6 489.4,221.6" fill="#d35b19" stroke="#d35b19" stroke-width="0.5"/>
<polygon points="510.2,226.6 514.1,223.6 509.9,219.8 505.9,222.9" fill="#d5711a" stroke="#d5711a" stroke-width="0.5"/>
<polygon points="518.4,227.4 522.3,224.3 518,220.5 514.1,223.6" fill="#d67e1a" stroke="#d67e1a" stroke-width="0.5"/>
<polygon points="534.7,229.1 538.5,226.1 534.3,222.1 530.4,225.2" fill="#d79b1a" stroke="#d79b1a" stroke-width="0.5"/>
<polygon points="550.8,231.2 554.5,228.1 550.3,224 546.5,227.1" fill="#d8bd1b" stroke="#d8bd1b" stroke-width="0.5"/>
<polygon points="558.7,232.3 562.4,229.2 558.2,225.1 554.5,228.1" fill="#d8cf1b" stroke="#d8cf1b" stroke-width="0.5"/>
<polygon points="574.4,234.7 578,231.7 573.9,227.4 570.3,230.4" fill="#b7d61b" stroke="#b7d61b" stroke-width="0.5"/>
<polygon points="589.8,237.5 593.3,234.4 589.3,230 585.7,233" fill="#90dc1c" stroke="#90dc1c" stroke-width="0.5"/>
<polygon points="597.4,239 600.9,235.9 596.8,231.4 593.3,234.4" fill="#7adf1c" stroke="#7adf1c" stroke-width="0.5"/>
<polygon points="612.3,242.2 615.7,239.2 611.7,234.5 608.3,237.5" fill="#57e41f" stroke="#57e41f" stroke-width="0.5"/>
<polygon points="439.1,225.7 443.4,222.7 439.2,219.5 435,222.5" fill="#cd2618" stroke="#cd2618" stroke-width="0.5"/>
<polygon points="456,226.3 460.2,223.3 456,220 451.8,223" fill="#d03018" stroke="#d03018" stroke-width="0.5"/>
<polygon points="472.8,227.2 477,224.2 472.7,220.7 468.6,223.7" fill="#d23f19" stroke="#d23f19" stroke-width="0.5"/>
<polygon points="481.2,227.7 485.3,224.7 481,221.1 477,224.2" fill="#d34719" stroke="#d34719" stroke-width="0.5"/>
<polygon points="497.9,229 501.9,225.9 497.6,222.2 493.6,225.3" fill="#d55b1a" stroke="#d55b1a" stroke-width="0.5"/>
<polygon points="514.4,230.5 518.4,227.4 514.1,223.6 510.2,226.6" fill="#d7741a" stroke="#d7741a" stroke-width="0.5"/>
<polygon points="522.6,231.3 526.5,228.2 522.3,224.3 518.4,227.4" fill="#d8811a" stroke="#d8811a" stroke-width="0.5"/>
<polygon points="538.9,233.2 542.7,230.1 538.5,226.1 534.7,229.1" fill="#d9a01b" stroke="#d9a01b" stroke-width="0.5"/>
<polygon points="555,235.3 558.7,232.3 554.5,228.1 550.8,231.2" fill="#d9c41b" stroke="#d9c41b" stroke-width="0.5"/>
<polygon points="562.9,236.5 566.6,233.5 562.4,229.2 558.7,232.3" fill="#d4d21b" stroke="#d4d21b" stroke-width="0.5"/>
<polygon points="578.6,239.1 582.2,236.1 578,231.7 574.4,234.7" fill="#afd81c" stroke="#afd81c" stroke-width="0.5"/>
<polygon points="593.9,242 597.4,239 593.3,234.4 589.8,237.5" fill="#86df1c" stroke="#86df1c" stroke-width="0.5"/>
<polygon points="601.4,243.6 604.9,240.5 600.9,235.9 597.4,239" fill="#6fe21c" stroke="#6fe21c" stroke-width="0.5"/>
<polygon points="447.6,226 451.8,223 447.6,219.7 443.4,222.7" fill="#ce2b18" stroke="#ce2b18" stroke-width="0.5"/>
<polygon points="464.4,226.7 468.6,223.7 464.4,220.3 460.2,223.3" fill="#d13719" stroke="#d13719" stroke-width="0.5"/>
<polygon points="489.6,228.3 493.6,225.3 489.4,221.6 485.3,224.7" fill="#d45119" stroke="#d45119" stroke-width="0.5"/>
<polygon points="506.2,229.7 510.2,226.6 505.9,222.9 501.9,225.9" fill="#d6671a" stroke="#d6671a" stroke-width="0.5"/>
<polygon points="530.8,232.2 534.7,229.1 530.4,225.2 526.5,228.2" fill="#d8901a" stroke="#d8901a" stroke-width="0.5"/>
<polygon points="547,234.2 550.8,231.2 546.5,227.1 542.7,230.1" fill="#d9b21b" stroke="#d9b21b" stroke-width="0.5"/>
<polygon points="570.8,237.8 574.4,234.7 570.3,230.4 566.6,233.5" fill="#c2d51b" stroke="#c2d51b" stroke-width="0.5"/>
<polygon points="586.3,240.5 589.8,237.5 585.7,233 582.2,236.1" fill="#9bdb1c" stroke="#9bdb1c" stroke-width="0.5"/>
<polygon points="608.9,245.2 612.3,242.2 608.3,237.5 604.9,240.5" fill="#5de41e" stroke="#5de41e" stroke-width="0.5"/>
<polygon points="477.1,230.8 481.2,227.7 477,224.2 472.8,227.2" fill="#d43d19" stroke="#d43d19" stroke-width="0.5"/>
<polygon points="518.7,234.4 522.6,231.3 518.4,227.4 514.4,230.5" fill="#d9771a" stroke="#d9771a" stroke-width="0.5"/>
<polygon points="559.2,239.6 562.9,236.5 558.7,232.3 555,235.3" fill="#dacc1b" stroke="#dacc1b" stroke-width="0.5"/>
<polygon points="598,246.6 601.4,243.6 597.4,239 593.9,242" fill="#7ce11c" stroke="#7ce11c" stroke-width="0.5"/>
<polygon points="451.8,229.4 456,226.3 451.8,223 447.6,226" fill="#d12718" stroke="#d12718" stroke-width="0.5"/>
<polygon points="468.7,230.2 472.8,227.2 468.6,223.7 464.4,226.7" fill="#d33519" stroke="#d33519" stroke-width="0.5"/>
<polygon points="493.9,232 497.9,229 493.6,225.3 489.6,228.3" fill="#d6511a" stroke="#d6511a" stroke-width="0.5"/>
<polygon points="510.5,233.5 514.4,230.5 510.2,226.6 506.2,229.7" fill="#d8691a" stroke="#d8691a" stroke-width="0.5"/>
<polygon points="535.1,236.3 538.9,233.2 534.7,229.1 530.8,232.2" fill="#da961b" stroke="#da961b" stroke-width="0.5"/>
<polygon points="551.2,238.4 555,235.3 550.8,231.2 547,234.2" fill="#dab91b" stroke="#dab91b" stroke-width="0.5"/>
<polygon points="574.9,242.2 578.6,239.1 574.4,234.7 570.8,237.8" fill="#bbd71c" stroke="#bbd71c" stroke-width="0.5"/>
<polygon points="590.4,245.1 593.9,242 589.8,237.5 586.3,240.5" fill="#92de1c" stroke="#92de1c" stroke-width="0.5"/>
<polygon points="443.3,229 447.6,226 443.4,222.7 439.1,225.7" fill="#cf2118" stroke="#cf2118" stroke-width="0.5"/>
<polygon points="460.2,229.8 464.4,226.7 460.2,223.3 456,226.3" fill="#d22d19" stroke="#d22d19" stroke-width="0.5"/>
<polygon points="485.5,231.4 489.6,228.3 485.3,224.7 481.2,227.7" fill="#d54719" stroke="#d54719" stroke-width="0.5"/>
<polygon points="502.2,232.7 506.2,229.7 501.9,225.9 497.9,229" fill="#d75d1a" stroke="#d75d1a" stroke-width="0.5"/>
<polygon points="526.9,235.3 530.8,232.2 526.5,228.2 522.6,231.3" fill="#d9861a" stroke="#d9861a" stroke-width="0.5"/>
<polygon points="543.2,237.3 547,234.2 542.7,230.1 538.9,233.2" fill="#daa71b" stroke="#daa71b" stroke-width="0.5"/>
<polygon points="567.1,240.9 570.8,237.8 566.6,233.5 562.9,236.5" fill="#ced41b" stroke="#ced41b" stroke-width="0.5"/>
<polygon points="582.7,243.6 586.3,240.5 582.2,236.1 578.6,239.1" fill="#a7da1c" stroke="#a7da1c" stroke-width="0.5"/>
<polygon points="605.5,248.2 608.9,245.2 604.9,240.5 601.4,243.6" fill="#64e41d" stroke="#64e41d" stroke-width="0.5"/>
<polygon points="473,233.8 477.1,230.8 472.8,227.2 468.7,230.2" fill="#d53319" stroke="#d53319" stroke-width="0.5"/>
<polygon points="514.8,237.5 518.7,234.4 514.4,230.5 510.5,233.5" fill="#da6c1a" stroke="#da6c1a" stroke-width="0.5"/>
<polygon points="555.4,242.7 559.2,239.6 555,235.3 551.2,238.4" fill="#dbc11b" stroke="#dbc11b" stroke-width="0.5"/>
<polygon points="594.4,249.7 598,246.6 593.9,242 590.4,245.1" fill="#88e01c" stroke="#88e01c" stroke-width="0.5"/>
<polygon points="447.6,232.4 451.8,229.4 447.6,226 443.3,229" fill="#d21d18" stroke="#d21d18" stroke-width="0.5"/>
<polygon points="464.5,233.3 468.7,230.2 464.4,226.7 460.2,229.8" fill="#d42b19" stroke="#d42b19" stroke-width="0.5"/>
<polygon points="489.8,235.1 493.9,232 489.6,228.3 485.5,231.4" fill="#d7471a" stroke="#d7471a" stroke-width="0.5"/>
<polygon points="506.5,236.6 510.5,233.5 506.2,229.7 502.2,232.7" fill="#d95f1a" stroke="#d95f1a" stroke-width="0.5"/>
<polygon points="531.2,239.3 535.1,236.3 530.8,232.2 526.9,235.3" fill="#db8b1b" stroke="#db8b1b" stroke-width="0.5"/>
<polygon points="547.4,241.5 551.2,238.4 547,234.2 543.2,237.3" fill="#dbae1b" stroke="#dbae1b" stroke-width="0.5"/>
<polygon points="571.3,245.3 574.9,242.2 570.8,237.8 567.1,240.9" fill="#c7d71c" stroke="#c7d71c" stroke-width="0.5"/>
<polygon points="586.8,248.1 590.4,245.1 586.3,240.5 582.7,243.6" fill="#9edd1c" stroke="#9edd1c" stroke-width="0.5"/>
<polygon points="481.4,234.4 485.5,231.4 481.2,227.7 477.1,230.8" fill="#d63d19" stroke="#d63d19" stroke-width="0.5"/>
<polygon points="523,238.4 526.9,235.3 522.6,231.3 518.7,234.4" fill="#da7b1a" stroke="#da7b1a" stroke-width="0.5"/>
<polygon points="563.4,243.9 567.1,240.9 562.9,236.5 559.2,239.6" fill="#d9d31b" stroke="#d9d31b" stroke-width="0.5"/>
<polygon points="602,251.3 605.5,248.2 601.4,243.6 598,246.6" fill="#70e31d" stroke="#70e31d" stroke-width="0.5"/>
<polygon points="456,232.8 460.2,229.8 456,226.3 451.8,229.4" fill="#d32419" stroke="#d32419" stroke-width="0.5"/>
<polygon points="498.2,235.8 502.2,232.7 497.9,229 493.9,232" fill="#d8521a" stroke="#d8521a" stroke-width="0.5"/>
<polygon points="539.3,240.4 543.2,237.3 538.9,233.2 535.1,236.3" fill="#db9c1b" stroke="#db9c1b" stroke-width="0.5"/>
<polygon points="579.1,246.7 582.7,243.6 578.6,239.1 574.9,242.2" fill="#b3da1c" stroke="#b3da1c" stroke-width="0.5"/>
<polygon points="468.8,236.9 473,233.8 468.7,230.2 464.5,233.3" fill="#d62919" stroke="#d62919" stroke-width="0.5"/>
<polygon points="510.8,240.6 514.8,237.5 510.5,233.5 506.5,236.6" fill="#db621a" stroke="#db621a" stroke-width="0.5"/>
<polygon points="551.7,245.8 555.4,242.7 551.2,238.4 547.4,241.5" fill="#dcb61b" stroke="#dcb61b" stroke-width="0.5"/>
<polygon points="590.9,252.7 594.4,249.7 590.4,245.1 586.8,248.1" fill="#94df1c" stroke="#94df1c" stroke-width="0.5"/>
<polygon points="485.7,238.2 489.8,235.1 485.5,231.4 481.4,234.4" fill="#d83d1a" stroke="#d83d1a" stroke-width="0.5"/>
<polygon points="527.3,242.4 531.2,239.3 526.9,235.3 523,238.4" fill="#dc801b" stroke="#dc801b" stroke-width="0.5"/>
<polygon points="567.6,248.3 571.3,245.3 567.1,240.9 563.4,243.9" fill="#d2d61c" stroke="#d2d61c" stroke-width="0.5"/>
<polygon points="460.3,236.4 464.5,233.3 460.2,229.8 456,232.8" fill="#d52119" stroke="#d52119" stroke-width="0.5"/>
<polygon points="477.3,237.5 481.4,234.4 477.1,230.8 473,233.8" fill="#d73219" stroke="#d73219" stroke-width="0.5"/>
<polygon points="502.5,239.7 506.5,236.6 502.2,232.7 498.2,235.8" fill="#da541a" stroke="#da541a" stroke-width="0.5"/>
<polygon points="519.1,241.5 523,238.4 518.7,234.4 514.8,237.5" fill="#db701a" stroke="#db701a" stroke-width="0.5"/>
<polygon points="543.6,244.6 547.4,241.5 543.2,237.3 539.3,240.4" fill="#dca31b" stroke="#dca31b" stroke-width="0.5"/>
<polygon points="559.7,247 563.4,243.9 559.2,239.6 555.4,242.7" fill="#ddca1b" stroke="#ddca1b" stroke-width="0.5"/>
<polygon points="583.2,251.2 586.8,248.1 582.7,243.6 579.1,246.7" fill="#aadc1c" stroke="#aadc1c" stroke-width="0.5"/>
<polygon points="598.5,254.4 602,251.3 598,246.6 594.4,249.7" fill="#7ce31d" stroke="#7ce31d" stroke-width="0.5"/>
<polygon points="451.8,235.9 456,232.8 451.8,229.4 447.6,232.4" fill="#d41a19" stroke="#d41a19" stroke-width="0.5"/>
<polygon points="494.1,238.9 498.2,235.8 493.9,232 489.8,235.1" fill="#d9481a" stroke="#d9481a" stroke-width="0.5"/>
<polygon points="535.5,243.5 539.3,240.4 535.1,236.3 531.2,239.3" fill="#dc911b" stroke="#dc911b" stroke-width="0.5"/>
<polygon points="575.4,249.7 579.1,246.7 574.9,242.2 571.3,245.3" fill="#bfd91c" stroke="#bfd91c" stroke-width="0.5"/>
<polygon points="464.6,240 468.8,236.9 464.5,233.3 460.3,236.4" fill="#d71f19" stroke="#d71f19" stroke-width="0.5"/>
<polygon points="481.6,241.3 485.7,238.2 481.4,234.4 477.3,237.5" fill="#d9331a" stroke="#d9331a" stroke-width="0.5"/>
<polygon points="506.8,243.7 510.8,240.6 506.5,236.6 502.5,239.7" fill="#dc571a" stroke="#dc571a" stroke-width="0.5"/>
<polygon points="523.4,245.6 527.3,242.4 523,238.4 519.1,241.5" fill="#dd751b" stroke="#dd751b" stroke-width="0.5"/>
<polygon points="547.9,248.9 551.7,245.8 547.4,241.5 543.6,244.6" fill="#deab1b" stroke="#deab1b" stroke-width="0.5"/>
<polygon points="563.9,251.5 567.6,248.3 563.4,243.9 559.7,247" fill="#ded51c" stroke="#ded51c" stroke-width="0.5"/>
<polygon points="587.3,255.8 590.9,252.7 586.8,248.1 583.2,251.2" fill="#9fdf1c" stroke="#9fdf1c" stroke-width="0.5"/>
<polygon points="456.1,239.4 460.3,236.4 456,232.8 451.8,235.9" fill="#d61919" stroke="#d61919" stroke-width="0.5"/>
<polygon points="498.4,242.8 502.5,239.7 498.2,235.8 494.1,238.9" fill="#db4a1a" stroke="#db4a1a" stroke-width="0.5"/>
<polygon points="539.8,247.7 543.6,244.6 539.3,240.4 535.5,243.5" fill="#dd981b" stroke="#dd981b" stroke-width="0.5"/>
<polygon points="579.6,254.3 583.2,251.2 579.1,246.7 575.4,249.7" fill="#b6db1c" stroke="#b6db1c" stroke-width="0.5"/>
<polygon points="473.1,240.6 477.3,237.5 473,233.8 468.8,236.9" fill="#d82819" stroke="#d82819" stroke-width="0.5"/>
<polygon points="515.1,244.6 519.1,241.5 514.8,237.5 510.8,240.6" fill="#dc661a" stroke="#dc661a" stroke-width="0.5"/>
<polygon points="555.9,250.1 559.7,247 555.4,242.7 551.7,245.8" fill="#debf1b" stroke="#debf1b" stroke-width="0.5"/>
<polygon points="595,257.4 598.5,254.4 594.4,249.7 590.9,252.7" fill="#88e21d" stroke="#88e21d" stroke-width="0.5"/>
<polygon points="490,242 494.1,238.9 489.8,235.1 485.7,238.2" fill="#da3e1a" stroke="#da3e1a" stroke-width="0.5"/>
<polygon points="531.6,246.6 535.5,243.5 531.2,239.3 527.3,242.4" fill="#dd861b" stroke="#dd861b" stroke-width="0.5"/>
<polygon points="571.8,252.8 575.4,249.7 571.3,245.3 567.6,248.3" fill="#cad81c" stroke="#cad81c" stroke-width="0.5"/>
<polygon points="460.4,243.1 464.6,240 460.3,236.4 456.1,239.4" fill="#d81919" stroke="#d81919" stroke-width="0.5"/>
<polygon points="502.8,246.8 506.8,243.7 502.5,239.7 498.4,242.8" fill="#dd4d1a" stroke="#dd4d1a" stroke-width="0.5"/>
<polygon points="544.1,252 547.9,248.9 543.6,244.6 539.8,247.7" fill="#dfa01b" stroke="#dfa01b" stroke-width="0.5"/>
<polygon points="583.7,258.9 587.3,255.8 583.2,251.2 579.6,254.3" fill="#abde1c" stroke="#abde1c" stroke-width="0.5"/>
<polygon points="477.4,244.4 481.6,241.3 477.3,237.5 473.1,240.6" fill="#da291a" stroke="#da291a" stroke-width="0.5"/>
<polygon points="519.4,248.7 523.4,245.6 519.1,241.5 515.1,244.6" fill="#de6a1b" stroke="#de6a1b" stroke-width="0.5"/>
<polygon points="560.2,254.6 563.9,251.5 559.7,247 555.9,250.1" fill="#dfc91c" stroke="#dfc91c" stroke-width="0.5"/>
<polygon points="494.4,245.9 498.4,242.8 494.1,238.9 490,242" fill="#dc401a" stroke="#dc401a" stroke-width="0.5"/>
<polygon points="535.9,250.8 539.8,247.7 535.5,243.5 531.6,246.6" fill="#de8d1b" stroke="#de8d1b" stroke-width="0.5"/>
<polygon points="576,257.4 579.6,254.3 575.4,249.7 571.8,252.8" fill="#c1db1c" stroke="#c1db1c" stroke-width="0.5"/>
<polygon points="468.9,243.7 473.1,240.6 468.8,236.9 464.6,240" fill="#d91f19" stroke="#d91f19" stroke-width="0.5"/>
<polygon points="485.9,245.1 490,242 485.7,238.2 481.6,241.3" fill="#db341a" stroke="#db341a" stroke-width="0.5"/>
<polygon points="511.1,247.7 515.1,244.6 510.8,240.6 506.8,243.7" fill="#dd5b1a" stroke="#dd5b1a" stroke-width="0.5"/>
<polygon points="527.7,249.7 531.6,246.6 527.3,242.4 523.4,245.6" fill="#de7b1b" stroke="#de7b1b" stroke-width="0.5"/>
<polygon points="552.1,253.3 555.9,250.1 551.7,245.8 547.9,248.9" fill="#dfb41b" stroke="#dfb41b" stroke-width="0.5"/>
<polygon points="568.1,256 571.8,252.8 567.6,248.3 563.9,251.5" fill="#d6d71c" stroke="#d6d71c" stroke-width="0.5"/>
<polygon points="591.4,260.5 595,257.4 590.9,252.7 587.3,255.8" fill="#94e11d" stroke="#94e11d" stroke-width="0.5"/>
<polygon points="498.7,249.9 502.8,246.8 498.4,242.8 494.4,245.9" fill="#de421a" stroke="#de421a" stroke-width="0.5"/>
<polygon points="540.2,255.1 544.1,252 539.8,247.7 535.9,250.8" fill="#e0951b" stroke="#e0951b" stroke-width="0.5"/>
<polygon points="580.1,262.1 583.7,258.9 579.6,254.3 576,257.4" fill="#b7dd1c" stroke="#b7dd1c" stroke-width="0.5"/>
<polygon points="473.3,247.5 477.4,244.4 473.1,240.6 468.9,243.7" fill="#db1e1a" stroke="#db1e1a" stroke-width="0.5"/>
<polygon points="490.3,249 494.4,245.9 490,242 485.9,245.1" fill="#dd351a" stroke="#dd351a" stroke-width="0.5"/>
<polygon points="515.5,251.8 519.4,248.7 515.1,244.6 511.1,247.7" fill="#df601b" stroke="#df601b" stroke-width="0.5"/>
<polygon points="532,254 535.9,250.8 531.6,246.6 527.7,249.7" fill="#df821b" stroke="#df821b" stroke-width="0.5"/>
<polygon points="556.4,257.7 560.2,254.6 555.9,250.1 552.1,253.3" fill="#e0be1c" stroke="#e0be1c" stroke-width="0.5"/>
<polygon points="572.3,260.5 576,257.4 571.8,252.8 568.1,256" fill="#cdda1c" stroke="#cdda1c" stroke-width="0.5"/>
<polygon points="464.7,246.8 468.9,243.7 464.6,240 460.4,243.1" fill="#da1919" stroke="#da1919" stroke-width="0.5"/>
<polygon points="507.1,250.8 511.1,247.7 506.8,243.7 502.8,246.8" fill="#de511a" stroke="#de511a" stroke-width="0.5"/>
<polygon points="548.3,256.4 552.1,253.3 547.9,248.9 544.1,252" fill="#e0a91c" stroke="#e0a91c" stroke-width="0.5"/>
<polygon points="587.9,263.7 591.4,260.5 587.3,255.8 583.7,258.9" fill="#a0e01d" stroke="#a0e01d" stroke-width="0.5"/>
<polygon points="481.8,248.2 485.9,245.1 481.6,241.3 477.4,244.4" fill="#dc291a" stroke="#dc291a" stroke-width="0.5"/>
<polygon points="523.8,252.9 527.7,249.7 523.4,245.6 519.4,248.7" fill="#df701b" stroke="#df701b" stroke-width="0.5"/>
<polygon points="564.4,259.1 568.1,256 563.9,251.5 560.2,254.6" fill="#dfd51c" stroke="#dfd51c" stroke-width="0.5"/>
<polygon points="494.6,253 498.7,249.9 494.4,245.9 490.3,249" fill="#df381a" stroke="#df381a" stroke-width="0.5"/>
<polygon points="536.3,258.3 540.2,255.1 535.9,250.8 532,254" fill="#e18a1b" stroke="#e18a1b" stroke-width="0.5"/>
<polygon points="576.5,265.2 580.1,262.1 576,257.4 572.3,260.5" fill="#c3dc1c" stroke="#c3dc1c" stroke-width="0.5"/>
<polygon points="469.1,250.6 473.3,247.5 468.9,243.7 464.7,246.8" fill="#dc1a1a" stroke="#dc1a1a" stroke-width="0.5"/>
<polygon points="511.5,255 515.5,251.8 511.1,247.7 507.1,250.8" fill="#e0551b" stroke="#e0551b" stroke-width="0.5"/>
<polygon points="552.6,260.8 556.4,257.7 552.1,253.3 548.3,256.4" fill="#e1b31c" stroke="#e1b31c" stroke-width="0.5"/>
<polygon points="486.1,252.2 490.3,249 485.9,245.1 481.8,248.2" fill="#de2b1a" stroke="#de2b1a" stroke-width="0.5"/>
<polygon points="528.1,257.1 532,254 527.7,249.7 523.8,252.9" fill="#e0771b" stroke="#e0771b" stroke-width="0.5"/>
<polygon points="568.6,263.7 572.3,260.5 568.1,256 564.4,259.1" fill="#d9d91c" stroke="#d9d91c" stroke-width="0.5"/>
<polygon points="503.1,254 507.1,250.8 502.8,246.8 498.7,249.9" fill="#df461a" stroke="#df461a" stroke-width="0.5"/>
<polygon points="544.5,259.5 548.3,256.4 544.1,252 540.2,255.1" fill="#e19e1c" stroke="#e19e1c" stroke-width="0.5"/>
<polygon points="584.3,266.8 587.9,263.7 583.7,258.9 580.1,262.1" fill="#abdf1d" stroke="#abdf1d" stroke-width="0.5"/>
<polygon points="477.6,251.4 481.8,248.2 477.4,244.4 473.3,247.5" fill="#dd1f1a" stroke="#dd1f1a" stroke-width="0.5"/>
<polygon points="519.8,256 523.8,252.9 519.4,248.7 515.5,251.8" fill="#e0661b" stroke="#e0661b" stroke-width="0.5"/>
<polygon points="560.6,262.2 564.4,259.1 560.2,254.6 556.4,257.7" fill="#e1c91c" stroke="#e1c91c" stroke-width="0.5"/>
<polygon points="490.5,256.2 494.6,253 490.3,249 486.1,252.2" fill="#df2e1a" stroke="#df2e1a" stroke-width="0.5"/>
<polygon points="532.4,261.4 536.3,258.3 532,254 528.1,257.1" fill="#e27f1b" stroke="#e27f1b" stroke-width="0.5"/>
<polygon points="572.8,268.3 576.5,265.2 572.3,260.5 568.6,263.7" fill="#cfdc1c" stroke="#cfdc1c" stroke-width="0.5"/>
<polygon points="507.4,258.1 511.5,255 507.1,250.8 503.1,254" fill="#e14b1b" stroke="#e14b1b" stroke-width="0.5"/>
<polygon points="548.8,264 552.6,260.8 548.3,256.4 544.5,259.5" fill="#e2a81c" stroke="#e2a81c" stroke-width="0.5"/>
<polygon points="482,255.3 486.1,252.2 481.8,248.2 477.6,251.4" fill="#df211a" stroke="#df211a" stroke-width="0.5"/>
<polygon points="499,257.1 503.1,254 498.7,249.9 494.6,253" fill="#e03c1a" stroke="#e03c1a" stroke-width="0.5"/>
<polygon points="524.2,260.3 528.1,257.1 523.8,252.9 519.8,256" fill="#e16c1b" stroke="#e16c1b" stroke-width="0.5"/>
<polygon points="540.6,262.7 544.5,259.5 540.2,255.1 536.3,258.3" fill="#e2931c" stroke="#e2931c" stroke-width="0.5"/>
<polygon points="564.9,266.8 568.6,263.7 564.4,259.1 560.6,262.2" fill="#e1d61c" stroke="#e1d61c" stroke-width="0.5"/>
<polygon points="580.7,269.9 584.3,266.8 580.1,262.1 576.5,265.2" fill="#b7df1d" stroke="#b7df1d" stroke-width="0.5"/>
<polygon points="473.4,254.5 477.6,251.4 473.3,247.5 469.1,250.6" fill="#dd1a1a" stroke="#dd1a1a" stroke-width="0.5"/>
<polygon points="515.8,259.2 519.8,256 515.5,251.8 511.5,255" fill="#e15b1b" stroke="#e15b1b" stroke-width="0.5"/>
<polygon points="556.9,265.4 560.6,262.2 556.4,257.7 552.6,260.8" fill="#e2be1c" stroke="#e2be1c" stroke-width="0.5"/>
<polygon points="486.4,259.4 490.5,256.2 486.1,252.2 482,255.3" fill="#e0231a" stroke="#e0231a" stroke-width="0.5"/>
<polygon points="503.4,261.3 507.4,258.1 503.1,254 499,257.1" fill="#e2401b" stroke="#e2401b" stroke-width="0.5"/>
<polygon points="528.5,264.6 532.4,261.4 528.1,257.1 524.2,260.3" fill="#e3741b" stroke="#e3741b" stroke-width="0.5"/>
<polygon points="545,267.2 548.8,264 544.5,259.5 540.6,262.7" fill="#e39d1c" stroke="#e39d1c" stroke-width="0.5"/>
<polygon points="569.1,271.5 572.8,268.3 568.6,263.7 564.9,266.8" fill="#dadb1c" stroke="#dadb1c" stroke-width="0.5"/>
<polygon points="477.8,258.5 482,255.3 477.6,251.4 473.4,254.5" fill="#df1a1a" stroke="#df1a1a" stroke-width="0.5"/>
<polygon points="520.2,263.4 524.2,260.3 519.8,256 515.8,259.2" fill="#e2611b" stroke="#e2611b" stroke-width="0.5"/>
<polygon points="561.1,270 564.9,266.8 560.6,262.2 556.9,265.4" fill="#e2ca1c" stroke="#e2ca1c" stroke-width="0.5"/>
<polygon points="494.9,260.3 499,257.1 494.6,253 490.5,256.2" fill="#e1311a" stroke="#e1311a" stroke-width="0.5"/>
<polygon points="536.8,265.8 540.6,262.7 536.3,258.3 532.4,261.4" fill="#e3881c" stroke="#e3881c" stroke-width="0.5"/>
<polygon points="577,273.1 580.7,269.9 576.5,265.2 572.8,268.3" fill="#c3de1d" stroke="#c3de1d" stroke-width="0.5"/>
<polygon points="511.8,262.3 515.8,259.2 511.5,255 507.4,258.1" fill="#e2501b" stroke="#e2501b" stroke-width="0.5"/>
<polygon points="553.1,268.5 556.9,265.4 552.6,260.8 548.8,264" fill="#e3b31c" stroke="#e3b31c" stroke-width="0.5"/>
<polygon points="482.2,262.5 486.4,259.4 482,255.3 477.8,258.5" fill="#e11a1a" stroke="#e11a1a" stroke-width="0.5"/>
<polygon points="524.6,267.8 528.5,264.6 524.2,260.3 520.2,263.4" fill="#e4691b" stroke="#e4691b" stroke-width="0.5"/>
<polygon points="565.4,274.6 569.1,271.5 564.9,266.8 561.1,270" fill="#e3d71c" stroke="#e3d71c" stroke-width="0.5"/>
<polygon points="499.3,264.5 503.4,261.3 499,257.1 494.9,260.3" fill="#e3361b" stroke="#e3361b" stroke-width="0.5"/>
<polygon points="541.1,270.3 545,267.2 540.6,262.7 536.8,265.8" fill="#e4911c" stroke="#e4911c" stroke-width="0.5"/>
<polygon points="516.2,266.6 520.2,263.4 515.8,259.2 511.8,262.3" fill="#e3571b" stroke="#e3571b" stroke-width="0.5"/>
<polygon points="557.4,273.1 561.1,270 556.9,265.4 553.1,268.5" fill="#e3bf1c" stroke="#e3bf1c" stroke-width="0.5"/>
<polygon points="490.8,263.5 494.9,260.3 490.5,256.2 486.4,259.4" fill="#e2271a" stroke="#e2271a" stroke-width="0.5"/>
<polygon points="507.8,265.5 511.8,262.3 507.4,258.1 503.4,261.3" fill="#e3461b" stroke="#e3461b" stroke-width="0.5"/>
<polygon points="532.9,269 536.8,265.8 532.4,261.4 528.5,264.6" fill="#e47d1c" stroke="#e47d1c" stroke-width="0.5"/>
<polygon points="549.3,271.7 553.1,268.5 548.8,264 545,267.2" fill="#e4a71c" stroke="#e4a71c" stroke-width="0.5"/>
<polygon points="573.3,276.2 577,273.1 572.8,268.3 569.1,271.5" fill="#cfdd1d" stroke="#cfdd1d" stroke-width="0.5"/>
<polygon points="520.6,271 524.6,267.8 520.2,263.4 516.2,266.6" fill="#e55e1b" stroke="#e55e1b" stroke-width="0.5"/>
<polygon points="561.6,277.8 565.4,274.6 561.1,270 557.4,273.1" fill="#e4cc1c" stroke="#e4cc1c" stroke-width="0.5"/>
<polygon points="495.2,267.6 499.3,264.5 494.9,260.3 490.8,263.5" fill="#e42b1b" stroke="#e42b1b" stroke-width="0.5"/>
<polygon points="512.2,269.8 516.2,266.6 511.8,262.3 507.8,265.5" fill="#e44c1b" stroke="#e44c1b" stroke-width="0.5"/>
<polygon points="537.2,273.5 541.1,270.3 536.8,265.8 532.9,269" fill="#e5861c" stroke="#e5861c" stroke-width="0.5"/>
<polygon points="553.6,276.3 557.4,273.1 553.1,268.5 549.3,271.7" fill="#e5b41c" stroke="#e5b41c" stroke-width="0.5"/>
<polygon points="486.7,266.6 490.8,263.5 486.4,259.4 482.2,262.5" fill="#e31d1a" stroke="#e31d1a" stroke-width="0.5"/>
<polygon points="528.9,272.2 532.9,269 528.5,264.6 524.6,267.8" fill="#e5721c" stroke="#e5721c" stroke-width="0.5"/>
<polygon points="569.6,279.4 573.3,276.2 569.1,271.5 565.4,274.6" fill="#dadc1d" stroke="#dadc1d" stroke-width="0.5"/>
<polygon points="503.7,268.7 507.8,265.5 503.4,261.3 499.3,264.5" fill="#e43b1b" stroke="#e43b1b" stroke-width="0.5"/>
<polygon points="545.4,274.9 549.3,271.7 545,267.2 541.1,270.3" fill="#e59c1c" stroke="#e59c1c" stroke-width="0.5"/>
<polygon points="516.6,274.2 520.6,271 516.2,266.6 512.2,269.8" fill="#e6541b" stroke="#e6541b" stroke-width="0.5"/>
<polygon points="557.9,281 561.6,277.8 557.4,273.1 553.6,276.3" fill="#e5c11c" stroke="#e5c11c" stroke-width="0.5"/>
<polygon points="491.1,270.8 495.2,267.6 490.8,263.5 486.7,266.6" fill="#e5211b" stroke="#e5211b" stroke-width="0.5"/>
<polygon points="533.3,276.7 537.2,273.5 532.9,269 528.9,272.2" fill="#e67b1c" stroke="#e67b1c" stroke-width="0.5"/>
<polygon points="508.1,273 512.2,269.8 507.8,265.5 503.7,268.7" fill="#e5421b" stroke="#e5421b" stroke-width="0.5"/>
<polygon points="549.8,279.5 553.6,276.3 549.3,271.7 545.4,274.9" fill="#e6a81c" stroke="#e6a81c" stroke-width="0.5"/>
<polygon points="525,275.4 528.9,272.2 524.6,267.8 520.6,271" fill="#e6671c" stroke="#e6671c" stroke-width="0.5"/>
<polygon points="565.9,282.6 569.6,279.4 565.4,274.6 561.6,277.8" fill="#e4da1d" stroke="#e4da1d" stroke-width="0.5"/>
<polygon points="499.6,271.9 503.7,268.7 499.3,264.5 495.2,267.6" fill="#e5311b" stroke="#e5311b" stroke-width="0.5"/>
<polygon points="541.6,278.1 545.4,274.9 541.1,270.3 537.2,273.5" fill="#e6911c" stroke="#e6911c" stroke-width="0.5"/>
<polygon points="512.6,277.4 516.6,274.2 512.2,269.8 508.1,273" fill="#e7491b" stroke="#e7491b" stroke-width="0.5"/>
<polygon points="554.1,284.2 557.9,281 553.6,276.3 549.8,279.5" fill="#e6b51c" stroke="#e6b51c" stroke-width="0.5"/>
<polygon points="529.4,279.9 533.3,276.7 528.9,272.2 525,275.4" fill="#e7711c" stroke="#e7711c" stroke-width="0.5"/>
<polygon points="504.1,276.2 508.1,273 503.7,268.7 499.6,271.9" fill="#e6371b" stroke="#e6371b" stroke-width="0.5"/>
<polygon points="545.9,282.7 549.8,279.5 545.4,274.9 541.6,278.1" fill="#e79d1c" stroke="#e79d1c" stroke-width="0.5"/>
<polygon points="521,278.6 525,275.4 520.6,271 516.6,274.2" fill="#e75c1c" stroke="#e75c1c" stroke-width="0.5"/>
<polygon points="562.2,285.8 565.9,282.6 561.6,277.8 557.9,281" fill="#e5cf1d" stroke="#e5cf1d" stroke-width="0.5"/>
<polygon points="495.5,275.1 499.6,271.9 495.2,267.6 491.1,270.8" fill="#e6261b" stroke="#e6261b" stroke-width="0.5"/>
<polygon points="537.7,281.3 541.6,278.1 537.2,273.5 533.3,276.7" fill="#e7861c" stroke="#e7861c" stroke-width="0.5"/>
<polygon points="508.5,280.6 512.6,277.4 508.1,273 504.1,276.2" fill="#e83e1b" stroke="#e83e1b" stroke-width="0.5"/>
<polygon points="550.2,287.4 554.1,284.2 549.8,279.5 545.9,282.7" fill="#e7aa1c" stroke="#e7aa1c" stroke-width="0.5"/>
<polygon points="525.4,283.1 529.4,279.9 525,275.4 521,278.6" fill="#e8661c" stroke="#e8661c" stroke-width="0.5"/>
<polygon points="500,279.4 504.1,276.2 499.6,271.9 495.5,275.1" fill="#e72d1b" stroke="#e72d1b" stroke-width="0.5"/>
<polygon points="542,285.9 545.9,282.7 541.6,278.1 537.7,281.3" fill="#e8921c" stroke="#e8921c" stroke-width="0.5"/>
<polygon points="517,281.9 521,278.6 516.6,274.2 512.6,277.4" fill="#e8511c" stroke="#e8511c" stroke-width="0.5"/>
<polygon points="558.4,289 562.2,285.8 557.9,281 554.1,284.2" fill="#e6c31d" stroke="#e6c31d" stroke-width="0.5"/>
<polygon points="533.8,284.5 537.7,281.3 533.3,276.7 529.4,279.9" fill="#e87b1c" stroke="#e87b1c" stroke-width="0.5"/>
<polygon points="504.4,283.8 508.5,280.6 504.1,276.2 500,279.4" fill="#e9341b" stroke="#e9341b" stroke-width="0.5"/>
<polygon points="546.4,290.6 550.2,287.4 545.9,282.7 542,285.9" fill="#e89f1c" stroke="#e89f1c" stroke-width="0.5"/>
<polygon points="521.4,286.4 525.4,283.1 521,278.6 517,281.9" fill="#e95b1c" stroke="#e95b1c" stroke-width="0.5"/>
<polygon points="538.1,289.2 542,285.9 537.7,281.3 533.8,284.5" fill="#e9871c" stroke="#e9871c" stroke-width="0.5"/>
<polygon points="513,285.1 517,281.9 512.6,277.4 508.5,280.6" fill="#e9471c" stroke="#e9471c" stroke-width="0.5"/>
<polygon points="554.6,292.2 558.4,289 554.1,284.2 550.2,287.4" fill="#e7b81d" stroke="#e7b81d" stroke-width="0.5"/>
<polygon points="529.8,287.7 533.8,284.5 529.4,279.9 525.4,283.1" fill="#e9701c" stroke="#e9701c" stroke-width="0.5"/>
<polygon points="542.5,293.9 546.4,290.6 542,285.9 538.1,289.2" fill="#e9941c" stroke="#e9941c" stroke-width="0.5"/>
<polygon points="517.4,289.6 521.4,286.4 517,281.9 513,285.1" fill="#ea501c" stroke="#ea501c" stroke-width="0.5"/>
<polygon points="534.2,292.4 538.1,289.2 533.8,284.5 529.8,287.7" fill="#ea7c1c" stroke="#ea7c1c" stroke-width="0.5"/>
<polygon points="508.9,288.3 513,285.1 508.5,280.6 504.4,283.8" fill="#ea3c1c" stroke="#ea3c1c" stroke-width="0.5"/>
<polygon points="550.8,295.4 554.6,292.2 550.2,287.4 546.4,290.6" fill="#e9ad1d" stroke="#e9ad1d" stroke-width="0.5"/>
<polygon points="525.8,291 529.8,287.7 525.4,283.1 521.4,286.4" fill="#ea651c" stroke="#ea651c" stroke-width="0.5"/>
<polygon points="538.6,297.1 542.5,293.9 538.1,289.2 534.2,292.4" fill="#eb891c" stroke="#eb891c" stroke-width="0.5"/>
<polygon points="513.4,292.9 517.4,289.6 513,285.1 508.9,288.3" fill="#eb451c" stroke="#eb451c" stroke-width="0.5"/>
<polygon points="530.3,295.6 534.2,292.4 529.8,287.7 525.8,291" fill="#eb711c" stroke="#eb711c" stroke-width="0.5"/>
<polygon points="546.9,298.7 550.8,295.4 546.4,290.6 542.5,293.9" fill="#eaa11d" stroke="#eaa11d" stroke-width="0.5"/>
<polygon points="521.9,294.2 525.8,291 521.4,286.4 517.4,289.6" fill="#eb5b1c" stroke="#eb5b1c" stroke-width="0.5"/>
<polygon points="534.7,300.4 538.6,297.1 534.2,292.4 530.3,295.6" fill="#ec7e1c" stroke="#ec7e1c" stroke-width="0.5"/>
<polygon points="526.3,298.9 530.3,295.6 525.8,291 521.9,294.2" fill="#ec661c" stroke="#ec661c" stroke-width="0.5"/>
<polygon points="543,301.9 546.9,298.7 542.5,293.9 538.6,297.1" fill="#eb961d" stroke="#eb961d" stroke-width="0.5"/>
<polygon points="517.8,297.5 521.9,294.2 517.4,289.6 513.4,292.9" fill="#ec501c" stroke="#ec501c" stroke-width="0.5"/>
<polygon points="530.7,303.7 534.7,300.4 530.3,295.6 526.3,298.9" fill="#ed731c" stroke="#ed731c" stroke-width="0.5"/>
<polygon points="522.3,302.2 526.3,298.9 521.9,294.2 517.8,297.5" fill="#ed5b1c" stroke="#ed5b1c" stroke-width="0.5"/>
<polygon points="539.1,305.2 543,301.9 538.6,297.1 534.7,300.4" fill="#ec8b1d" stroke="#ec8b1d" stroke-width="0.5"/>
<polygon points="526.8,306.9 530.7,303.7 526.3,298.9 522.3,302.2" fill="#ee681c" stroke="#ee681c" stroke-width="0.5"/>
<polygon points="535.2,308.5 539.1,305.2 534.7,300.4 530.7,303.7" fill="#ed801d" stroke="#ed801d" stroke-width="0.5"/>
<polygon points="531.2,311.8 535.2,308.5 530.7,303.7 526.8,306.9" fill="#ee751d" stroke="#ee751d" stroke-width="0.5"/>
<path d="M531.2 311.8 523.8 303.8 516.3 295.9 508.9 288.3 501.5 280.9 494 273.7 486.7 266.6 479.3 259.8 472 253.2 464.7 246.8 457.5 240.6 450.4 234.7 443.3 229 436.3 223.5 429.5 218.3 422.7 213.3 416 208.6 409.4 204.2 403 200 396.7 196.1 390.6 192.5 384.6 189.2 378.7 186.2 373 183.5 367.5 181.1M533.1 310.2 525.7 302.2 518.3 294.4 510.8 286.8 503.4 279.4 496 272.1 488.6 265.1 481.3 258.3 474 251.7 466.7 245.3 459.5 239.2 452.4 233.2 445.4 227.6 438.4 222.1 431.5 216.9 424.7 211.9 418 207.2 411.5 202.8 405.1 198.7 398.8 194.8 392.6 191.2 386.6 187.9 380.7 184.9 375.1 182.3 369.6 179.9M535 308.6 527.6 300.6 520.2 292.8 512.8 285.2 505.4 277.8 498 270.6 490.6 263.6 483.3 256.8 476 250.2 468.7 243.9 461.5 237.7 454.4 231.8 447.4 226.1 440.4 220.7 433.5 215.5 426.7 210.5 420.1 205.9 413.5 201.5 407.1 197.3 400.8 193.5 394.6 189.9 388.6 186.6 382.8 183.7 377.1 181 371.6 178.7M536.9 307.1 529.5 299.1 522.1 291.3 514.7 283.7 507.3 276.3 499.9 269.1 492.6 262.1 485.2 255.3 478 248.7 470.7 242.4 463.5 236.2 456.4 230.3 449.4 224.7 442.4 219.3 435.5 214.1 428.8 209.2 422.1 204.5 415.5 200.1 409.1 196 402.8 192.2 396.6 188.6 390.6 185.4 384.8 182.4 379.1 179.8 373.6 177.5M538.7 305.5 531.4 297.5 524 289.7 516.6 282.2 509.2 274.8 501.9 267.6 494.5 260.6 487.2 253.8 479.9 247.2 472.7 240.9 465.5 234.8 458.4 228.9 451.4 223.2 444.4 217.8 437.6 212.7 430.8 207.8 424.1 203.1 417.6 198.8 411.1 194.7 404.8 190.8 398.7 187.3 392.6 184.1 386.8 181.2 381.1 178.6 375.6 176.3M540.6 303.9 533.3 296 525.9 288.2 518.5 280.6 511.2 273.2 503.8 266.1 496.5 259.1 489.2 252.3 481.9 245.8 474.7 239.4 467.5 233.3 460.4 227.5 453.4 221.8 446.4 216.4 439.6 211.3 432.8 206.4 426.1 201.8 419.6 197.4 413.1 193.3 406.8 189.5 400.7 186 394.7 182.8 388.8 179.9 383.1 177.4 377.5 175.1M542.5 302.4 535.1 294.4 527.8 286.7 520.4 279.1 513.1 271.7 505.7 264.5 498.4 257.6 491.1 250.8 483.9 244.3 476.7 238 469.5 231.9 462.4 226 455.4 220.4 448.4 215 441.6 209.9 434.8 205 428.1 200.4 421.6 196.1 415.2 192 408.9 188.2 402.7 184.7 396.7 181.6 390.8 178.7 385.1 176.1 379.5 173.9M544.3 300.8 537 292.9 529.7 285.1 522.3 277.6 515 270.2 507.7 263 500.4 256.1 493.1 249.3 485.8 242.8 478.6 236.5 471.5 230.4 464.4 224.6 457.4 219 450.4 213.6 443.6 208.5 436.8 203.6 430.2 199 423.6 194.7 417.2 190.7 410.9 186.9 404.7 183.5 398.6 180.3 392.8 177.4 387.1 174.9 381.5 172.7M546.2 299.3 538.9 291.3 531.5 283.6 524.2 276 516.9 268.7 509.6 261.5 502.3 254.6 495 247.8 487.8 241.3 480.6 235 473.5 229 466.4 223.1 459.4 217.5 452.4 212.2 445.6 207.1 438.8 202.2 432.1 197.7 425.6 193.4 419.2 189.3 412.8 185.6 406.7 182.2 400.6 179 394.8 176.2 389 173.7 383.5 171.5M548 297.7 540.7 289.8 533.4 282.1 526.1 274.5 518.8 267.2 511.5 260 504.2 253.1 497 246.3 489.7 239.8 482.6 233.6 475.4 227.5 468.4 221.7 461.3 216.1 454.4 210.8 447.6 205.7 440.8 200.9 434.1 196.3 427.6 192 421.2 188 414.8 184.3 408.7 180.9 402.6 177.8 396.7 175 391 172.5 385.4 170.3M549.8 296.2 542.6 288.3 535.3 280.5 528 273 520.7 265.6 513.4 258.5 506.1 251.6 498.9 244.9 491.7 238.4 484.5 232.1 477.4 226.1 470.3 220.3 463.3 214.7 456.4 209.4 449.5 204.3 442.8 199.5 436.1 195 429.6 190.7 423.1 186.7 416.8 183 410.6 179.6 404.6 176.5 398.7 173.7 393 171.2 387.4 169.1M551.7 294.6 544.4 286.7 537.1 279 529.9 271.5 522.6 264.1 515.3 257 508.1 250.1 500.8 243.4 493.6 236.9 486.5 230.6 479.3 224.6 472.3 218.8 465.3 213.3 458.4 208 451.5 202.9 444.8 198.1 438.1 193.6 431.6 189.4 425.1 185.4 418.8 181.7 412.6 178.3 406.6 175.2 400.7 172.5 394.9 170 389.4 167.9M553.5 293.1 546.3 285.2 539 277.5 531.7 269.9 524.5 262.6 517.2 255.5 510 248.6 502.8 241.9 495.6 235.4 488.4 229.2 481.3 223.2 474.2 217.4 467.3 211.9 460.3 206.6 453.5 201.5 446.7 196.8 440.1 192.3 433.5 188 427.1 184.1 420.8 180.4 414.6 177.1 408.5 174 402.6 171.2 396.9 168.8 391.3 166.7M555.3 291.6 548.1 283.7 540.9 275.9 533.6 268.4 526.4 261.1 519.1 254 511.9 247.1 504.7 240.4 497.5 234 490.3 227.7 483.2 221.7 476.2 216 469.2 210.4 462.3 205.2 455.5 200.2 448.7 195.4 442.1 190.9 435.5 186.7 429.1 182.8 422.7 179.1 416.5 175.8 410.5 172.7 404.6 170 398.8 167.6 393.2 165.5M557.1 290 549.9 282.1 542.7 274.4 535.5 266.9 528.2 259.6 521 252.5 513.8 245.6 506.6 238.9 499.4 232.5 492.3 226.3 485.2 220.3 478.1 214.5 471.2 209 464.2 203.8 457.4 198.8 450.7 194 444 189.6 437.5 185.4 431 181.5 424.7 177.8 418.5 174.5 412.4 171.5 406.5 168.8 400.8 166.4 395.2 164.3M558.9 288.5 551.7 280.6 544.5 272.9 537.3 265.4 530.1 258.1 522.9 251 515.7 244.1 508.5 237.5 501.3 231 494.2 224.8 487.1 218.9 480.1 213.1 473.1 207.6 466.2 202.4 459.4 197.4 452.6 192.7 446 188.2 439.4 184 433 180.1 426.7 176.5 420.5 173.2 414.4 170.2 408.5 167.5 402.7 165.2 397.1 163.1M560.7 287 553.6 279.1 546.4 271.4 539.2 263.9 532 256.6 524.8 249.5 517.6 242.6 510.4 236 503.2 229.6 496.1 223.4 489 217.4 482 211.7 475 206.2 468.1 201 461.3 196 454.6 191.3 447.9 186.9 441.4 182.7 434.9 178.8 428.6 175.3 422.4 172 416.3 169 410.4 166.3 404.6 164 399 162M562.5 285.5 555.4 277.6 548.2 269.9 541 262.4 533.8 255.1 526.6 248 519.4 241.2 512.3 234.5 505.1 228.1 498 221.9 491 216 483.9 210.3 477 204.8 470.1 199.6 463.3 194.6 456.5 190 449.9 185.5 443.3 181.4 436.9 177.5 430.5 174 424.3 170.7 418.3 167.7 412.3 165.1 406.6 162.8 400.9 160.8M564.3 283.9 557.2 276 550 268.4 542.9 260.9 535.7 253.6 528.5 246.5 521.3 239.7 514.2 233.1 507 226.7 499.9 220.5 492.9 214.6 485.9 208.9 478.9 203.4 472 198.2 465.2 193.3 458.5 188.6 451.8 184.2 445.3 180.1 438.8 176.2 432.5 172.7 426.3 169.4 420.2 166.5 414.3 163.9 408.5 161.6 402.8 159.6M566.1 282.4 559 274.5 551.8 266.9 544.7 259.4 537.5 252.1 530.4 245.1 523.2 238.2 516.1 231.6 508.9 225.2 501.8 219.1 494.8 213.1 487.8 207.4 480.8 202 473.9 196.8 467.1 191.9 460.4 187.2 453.7 182.9 447.2 178.8 440.7 174.9 434.4 171.4 428.2 168.2 422.1 165.3 416.2 162.7 410.4 160.4 404.7 158.4M567.9 280.9 560.8 273 553.7 265.3 546.5 257.9 539.4 250.6 532.2 243.6 525.1 236.7 517.9 230.1 510.8 223.8 503.7 217.6 496.7 211.7 489.7 206 482.7 200.6 475.9 195.4 469 190.5 462.3 185.9 455.7 181.5 449.1 177.4 442.7 173.6 436.3 170.1 430.1 166.9 424 164 418.1 161.4 412.3 159.2 406.6 157.2M569.6 279.4 562.6 271.5 555.5 263.8 548.3 256.4 541.2 249.1 534.1 242.1 526.9 235.3 519.8 228.7 512.7 222.3 505.6 216.2 498.6 210.3 491.6 204.6 484.6 199.2 477.8 194.1 471 189.2 464.2 184.6 457.6 180.2 451 176.1 444.6 172.3 438.3 168.9 432 165.7 425.9 162.8 420 160.2 414.2 158 408.5 156.1M571.4 277.9 564.3 270 557.3 262.3 550.1 254.9 543 247.6 535.9 240.6 528.8 233.8 521.7 227.2 514.6 220.9 507.5 214.7 500.5 208.9 493.5 203.2 486.6 197.8 479.7 192.7 472.9 187.8 466.1 183.2 459.5 178.9 452.9 174.8 446.5 171.1 440.2 167.6 433.9 164.4 427.9 161.5 421.9 159 416.1 156.8 410.4 154.9M573.2 276.4 566.1 268.5 559.1 260.8 552 253.4 544.8 246.2 537.7 239.1 530.6 232.3 523.5 225.8 516.4 219.4 509.4 213.3 502.4 207.4 495.4 201.8 488.5 196.4 481.6 191.3 474.8 186.5 468.1 181.9 461.4 177.5 454.9 173.5 448.4 169.8 442.1 166.3 435.8 163.2 429.7 160.3 423.8 157.8 418 155.6 412.3 153.7M574.9 274.9 567.9 267 560.8 259.4 553.8 251.9 546.7 244.7 539.6 237.7 532.5 230.9 525.4 224.3 518.3 218 511.3 211.9 504.2 206 497.3 200.4 490.3 195.1 483.5 189.9 476.7 185.1 470 180.5 463.3 176.2 456.8 172.2 450.3 168.5 444 165 437.7 161.9 431.6 159.1 425.7 156.6 419.8 154.4 414.2 152.6M576.7 273.4 569.7 265.5 562.6 257.9 555.6 250.4 548.5 243.2 541.4 236.2 534.3 229.4 527.2 222.9 520.2 216.6 513.1 210.5 506.1 204.6 499.1 199 492.2 193.7 485.4 188.6 478.6 183.7 471.8 179.2 465.2 174.9 458.7 170.9 452.2 167.2 445.9 163.8 439.6 160.7 433.5 157.9 427.6 155.4 421.7 153.2 416 151.4M578.4 271.9 571.4 264 564.4 256.4 557.3 248.9 550.3 241.7 543.2 234.7 536.1 228 529.1 221.4 522 215.1 515 209 508 203.2 501 197.6 494.1 192.3 487.2 187.2 480.5 182.4 473.7 177.9 467.1 173.6 460.5 169.6 454.1 165.9 447.7 162.5 441.5 159.4 435.4 156.6 429.4 154.2 423.6 152 417.9 150.2M580.1 270.4 573.2 262.5 566.2 254.9 559.1 247.5 552.1 240.3 545 233.3 538 226.5 530.9 220 523.9 213.7 516.8 207.6 509.8 201.8 502.9 196.2 496 190.9 489.1 185.8 482.3 181 475.6 176.5 469 172.3 462.4 168.3 456 164.6 449.6 161.2 443.4 158.2 437.3 155.4 431.3 153 425.4 150.9 419.7 149.1M581.9 268.9 574.9 261 567.9 253.4 560.9 246 553.9 238.8 546.8 231.8 539.8 225.1 532.7 218.6 525.7 212.3 518.7 206.2 511.7 200.4 504.7 194.8 497.8 189.5 491 184.5 484.2 179.7 477.5 175.2 470.9 171 464.3 167 457.9 163.3 451.5 160 445.3 156.9 439.1 154.2 433.2 151.8 427.3 149.7 421.6 147.9M583.6 267.4 576.7 259.5 569.7 251.9 562.7 244.5 555.7 237.3 548.6 230.4 541.6 223.6 534.6 217.1 527.5 210.8 520.5 204.8 513.5 199 506.6 193.4 499.7 188.2 492.9 183.1 486.1 178.4 479.4 173.9 472.7 169.6 466.2 165.7 459.7 162.1 453.4 158.7 447.1 155.7 441 153 435 150.6 429.1 148.5 423.4 146.8M585.3 265.9 578.4 258.1 571.4 250.4 564.5 243.1 557.4 235.9 550.4 228.9 543.4 222.2 536.4 215.7 529.4 209.4 522.4 203.4 515.4 197.6 508.5 192.1 501.6 186.8 494.7 181.8 487.9 177 481.2 172.5 474.6 168.3 468 164.4 461.6 160.8 455.2 157.5 449 154.5 442.9 151.8 436.9 149.4 431 147.3 425.3 145.6M587 264.4 580.1 256.6 573.2 249 566.2 241.6 559.2 234.4 552.2 227.5 545.2 220.7 538.2 214.2 531.2 208 524.2 202 517.2 196.2 510.3 190.7 503.4 185.4 496.6 180.4 489.8 175.7 483.1 171.2 476.5 167 469.9 163.1 463.4 159.5 457.1 156.2 450.8 153.2 444.7 150.5 438.7 148.2 432.8 146.1 427.1 144.5M588.7 262.9 581.8 255.1 574.9 247.5 568 240.1 561 233 554 226 547 219.3 540 212.8 533 206.6 526 200.6 519.1 194.8 512.1 189.3 505.3 184 498.4 179.1 491.7 174.3 484.9 169.9 478.3 165.7 471.8 161.8 465.3 158.3 458.9 155 452.7 152 446.5 149.3 440.5 147 434.7 145 428.9 143.3M590.4 261.4 583.6 253.6 576.7 246 569.7 238.7 562.7 231.5 555.8 224.6 548.8 217.9 541.8 211.4 534.8 205.2 527.8 199.2 520.9 193.4 514 187.9 507.1 182.7 500.3 177.7 493.5 173 486.8 168.6 480.2 164.4 473.6 160.6 467.1 157 460.8 153.7 454.5 150.8 448.4 148.1 442.4 145.8 436.5 143.8 430.7 142.2M592.1 260 585.3 252.2 578.4 244.6 571.5 237.2 564.5 230 557.5 223.1 550.6 216.4 543.6 210 536.6 203.7 529.6 197.8 522.7 192 515.8 186.5 508.9 181.3 502.1 176.4 495.3 171.7 488.6 167.3 482 163.1 475.4 159.3 469 155.7 462.6 152.5 456.4 149.5 450.2 146.9 444.2 144.6 438.3 142.6 432.5 141M593.8 258.5 587 250.7 580.1 243.1 573.2 235.7 566.3 228.6 559.3 221.7 552.3 215 545.4 208.5 538.4 202.3 531.4 196.4 524.5 190.6 517.6 185.2 510.7 180 503.9 175 497.2 170.3 490.5 165.9 483.8 161.8 477.3 158 470.8 154.5 464.4 151.2 458.2 148.3 452 145.7 446 143.4 440.1 141.5 434.3 139.9M595.5 257 588.7 249.2 581.8 241.6 574.9 234.3 568 227.2 561.1 220.2 554.1 213.6 547.1 207.1 540.2 200.9 533.2 195 526.3 189.3 519.4 183.8 512.6 178.6 505.7 173.7 499 169 492.3 164.6 485.7 160.5 479.1 156.7 472.6 153.2 466.3 150 460 147.1 453.8 144.5 447.8 142.2 441.9 140.3 436.1 138.7M597.2 255.5 590.4 247.8 583.5 240.2 576.6 232.8 569.7 225.7 562.8 218.8 555.9 212.1 548.9 205.7 542 199.5 535 193.6 528.1 187.9 521.2 182.4 514.4 177.3 507.6 172.3 500.8 167.7 494.1 163.3 487.5 159.2 480.9 155.4 474.5 151.9 468.1 148.8 461.8 145.9 455.7 143.3 449.6 141.1 443.7 139.2 437.9 137.6M598.8 254.1 592.1 246.3 585.2 238.7 578.4 231.4 571.5 224.3 564.6 217.4 557.6 210.7 550.7 204.3 543.7 198.1 536.8 192.2 529.9 186.5 523 181.1 516.2 175.9 509.4 171 502.6 166.4 495.9 162 489.3 157.9 482.7 154.2 476.3 150.7 469.9 147.5 463.6 144.7 457.5 142.1 451.4 139.9 445.5 138 439.7 136.5M600.5 252.6 593.7 244.8 586.9 237.3 580.1 229.9 573.2 222.8 566.3 216 559.4 209.3 552.4 202.9 545.5 196.7 538.6 190.8 531.7 185.1 524.8 179.7 518 174.6 511.2 169.7 504.4 165 497.7 160.7 491.1 156.7 484.6 152.9 478.1 149.4 471.7 146.3 465.4 143.4 459.3 140.9 453.2 138.7 447.3 136.8 441.5 135.3M602.2 251.2 595.4 243.4 588.6 235.8 581.8 228.5 574.9 221.4 568 214.5 561.1 207.9 554.2 201.5 547.3 195.3 540.4 189.4 533.5 183.8 526.6 178.3 519.8 173.2 513 168.3 506.2 163.7 499.5 159.4 492.9 155.4 486.4 151.6 479.9 148.2 473.5 145.1 467.2 142.2 461 139.7 455 137.5 449.1 135.7 443.2 134.2M603.8 249.7 597.1 241.9 590.3 234.4 583.5 227.1 576.6 220 569.8 213.1 562.9 206.5 556 200.1 549 193.9 542.1 188 535.3 182.4 528.4 177 521.6 171.9 514.8 167 508 162.4 501.3 158.1 494.7 154.1 488.2 150.4 481.7 146.9 475.3 143.8 469 141 462.8 138.5 456.8 136.4 450.8 134.5 445 133.1M605.5 248.2 598.7 240.5 592 232.9 585.2 225.6 578.3 218.5 571.5 211.7 564.6 205.1 557.7 198.7 550.8 192.5 543.9 186.7 537 181 530.2 175.6 523.3 170.5 516.6 165.7 509.8 161.1 503.1 156.8 496.5 152.8 489.9 149.1 483.5 145.7 477.1 142.6 470.8 139.8 464.6 137.3 458.5 135.2 452.6 133.4 446.8 131.9M607.1 246.8 600.4 239 593.7 231.5 586.9 224.2 580 217.1 573.2 210.3 566.3 203.7 559.4 197.3 552.5 191.2 545.7 185.3 538.8 179.7 531.9 174.3 525.1 169.2 518.3 164.4 511.6 159.8 504.9 155.5 498.3 151.5 491.7 147.9 485.3 144.5 478.9 141.4 472.6 138.6 466.4 136.2 460.3 134 454.3 132.3 448.5 130.8M608.7 245.3 602.1 237.6 595.3 230.1 588.5 222.8 581.7 215.7 574.9 208.9 568 202.2 561.2 195.9 554.3 189.8 547.4 183.9 540.5 178.3 533.7 172.9 526.9 167.9 520.1 163 513.4 158.5 506.7 154.2 500.1 150.3 493.5 146.6 487 143.2 480.6 140.2 474.3 137.4 468.1 135 462.1 132.9 456.1 131.1 450.3 129.7M610.4 243.9 603.7 236.2 597 228.6 590.2 221.3 583.4 214.3 576.6 207.4 569.7 200.8 562.9 194.5 556 188.4 549.1 182.5 542.3 176.9 535.5 171.6 528.6 166.5 521.9 161.7 515.1 157.2 508.5 152.9 501.8 149 495.3 145.3 488.8 142 482.4 138.9 476.1 136.2 469.9 133.8 463.8 131.7 457.8 130 452 128.6M612 242.5 605.3 234.7 598.6 227.2 591.9 219.9 585.1 212.9 578.3 206 571.5 199.4 564.6 193.1 557.7 187 550.9 181.2 544 175.6 537.2 170.2 530.4 165.2 523.6 160.4 516.9 155.9 510.2 151.7 503.6 147.7 497 144.1 490.6 140.8 484.2 137.7 477.9 135 471.7 132.6 465.6 130.6 459.6 128.8 453.7 127.5M613.6 241 607 233.3 600.3 225.8 593.6 218.5 586.8 211.4 580 204.6 573.2 198 566.3 191.7 559.5 185.6 552.6 179.8 545.8 174.2 538.9 168.9 532.1 163.9 525.4 159.1 518.7 154.6 512 150.4 505.4 146.5 498.8 142.8 492.3 139.5 485.9 136.5 479.6 133.8 473.4 131.4 467.3 129.4 461.3 127.7 455.4 126.3M615.2 239.6 608.6 231.9 601.9 224.4 595.2 217.1 588.5 210 581.7 203.2 574.9 196.7 568 190.3 561.2 184.3 554.3 178.4 547.5 172.9 540.7 167.6 533.9 162.5 527.1 157.8 520.4 153.3 513.7 149.1 507.1 145.2 500.5 141.6 494.1 138.3 487.7 135.3 481.4 132.6 475.1 130.3 469 128.3 463 126.6 457.2 125.2M616.8 238.2 610.2 230.4 603.6 222.9 596.9 215.7 590.1 208.6 583.3 201.8 576.5 195.3 569.7 188.9 562.9 182.9 556.1 177.1 549.2 171.5 542.4 166.2 535.6 161.2 528.9 156.5 522.1 152 515.5 147.8 508.8 143.9 502.3 140.3 495.8 137.1 489.4 134.1 483.1 131.4 476.9 129.1 470.8 127.1 464.7 125.4 458.9 124.1M618.4 236.7 611.8 229 605.2 221.5 598.5 214.2 591.8 207.2 585 200.4 578.2 193.9 571.4 187.6 564.6 181.5 557.8 175.7 550.9 170.2 544.1 164.9 537.4 159.9 530.6 155.2 523.9 150.7 517.2 146.6 510.6 142.7 504 139.1 497.5 135.8 491.1 132.9 484.8 130.2 478.6 127.9 472.5 126 466.5 124.3 460.6 123M620 235.3 613.4 227.6 606.8 220.1 600.1 212.8 593.4 205.8 586.7 199 579.9 192.5 573.1 186.2 566.3 180.2 559.5 174.4 552.7 168.8 545.9 163.6 539.1 158.6 532.3 153.9 525.6 149.4 518.9 145.3 512.3 141.4 505.8 137.9 499.3 134.6 492.9 131.7 486.5 129.1 480.3 126.8 474.2 124.8 468.2 123.2 462.3 121.9M621.6 233.9 615 226.2 608.4 218.7 601.8 211.4 595.1 204.4 588.3 197.6 581.6 191.1 574.8 184.8 568 178.8 561.2 173 554.4 167.5 547.6 162.2 540.8 157.3 534 152.6 527.3 148.1 520.7 144 514 140.2 507.5 136.6 501 133.4 494.6 130.5 488.3 127.9 482 125.6 475.9 123.7 469.9 122.1 464 120.8M623.1 232.5 616.6 224.8 610 217.3 603.4 210 596.7 203 590 196.3 583.2 189.7 576.5 183.5 569.7 177.4 562.9 171.7 556.1 166.2 549.3 160.9 542.5 156 535.8 151.3 529 146.9 522.4 142.7 515.8 138.9 509.2 135.4 502.7 132.2 496.3 129.3 490 126.7 483.7 124.4 477.6 122.5 471.6 120.9 465.6 119.7M624.7 231 618.2 223.3 611.6 215.9 605 208.6 598.3 201.6 591.6 194.9 584.9 188.4 578.1 182.1 571.3 176.1 564.5 170.3 557.8 164.8 551 159.6 544.2 154.7 537.5 150 530.8 145.6 524.1 141.5 517.5 137.7 510.9 134.2 504.4 131 498 128.1 491.7 125.5 485.4 123.3 479.3 121.4 473.2 119.8 467.3 118.6M626.3 229.6 619.8 221.9 613.2 214.5 606.6 207.2 600 200.2 593.3 193.5 586.5 187 579.8 180.7 573 174.7 566.2 169 559.4 163.5 552.7 158.3 545.9 153.3 539.2 148.7 532.5 144.3 525.8 140.2 519.2 136.4 512.6 132.9 506.1 129.8 499.7 126.9 493.4 124.3 487.1 122.1 481 120.3 474.9 118.7 469 117.5M627.8 228.2 621.4 220.5 614.8 213.1 608.2 205.8 601.6 198.9 594.9 192.1 588.2 185.6 581.4 179.4 574.7 173.4 567.9 167.6 561.1 162.2 554.4 157 547.6 152 540.9 147.4 534.2 143 527.5 139 520.9 135.2 514.3 131.7 507.8 128.6 501.4 125.7 495.1 123.2 488.8 121 482.6 119.1 476.6 117.6 470.6 116.4M629.4 226.8 622.9 219.1 616.4 211.7 609.8 204.4 603.2 197.5 596.5 190.7 589.8 184.2 583.1 178 576.3 172 569.6 166.3 562.8 160.8 556 155.7 549.3 150.7 542.5 146.1 535.8 141.8 529.2 137.7 522.6 134 516 130.5 509.5 127.3 503.1 124.5 496.7 122 490.5 119.8 484.3 118 478.3 116.5 472.3 115.3M630.9 225.4 624.5 217.7 618 210.3 611.4 203.1 604.8 196.1 598.1 189.4 591.5 182.9 584.7 176.7 578 170.7 571.2 165 564.5 159.5 557.7 154.3 551 149.4 544.2 144.8 537.5 140.5 530.9 136.5 524.3 132.7 517.7 129.3 511.2 126.1 504.8 123.3 498.4 120.8 492.2 118.7 486 116.9 479.9 115.4 473.9 114.2M632.5 224 626 216.3 619.6 208.9 613 201.7 606.4 194.7 599.8 188 593.1 181.5 586.4 175.3 579.6 169.3 572.9 163.6 566.1 158.2 559.4 153 552.6 148.2 545.9 143.6 539.2 139.2 532.6 135.2 525.9 131.5 519.4 128.1 512.9 124.9 506.4 122.2 500.1 119.7 493.8 117.5 487.6 115.7 481.6 114.3 475.6 113.2M634 222.6 627.6 214.9 621.1 207.5 614.6 200.3 608 193.3 601.4 186.6 594.7 180.2 588 174 581.3 168 574.5 162.3 567.8 156.9 561 151.7 554.3 146.9 547.6 142.3 540.9 138 534.2 134 527.6 130.3 521 126.8 514.5 123.7 508.1 121 501.7 118.5 495.5 116.4 489.3 114.6 483.2 113.2 477.2 112.1M635.5 221.2 629.1 213.6 622.7 206.1 616.2 198.9 609.6 192 603 185.3 596.3 178.8 589.6 172.6 582.9 166.7 576.2 161 569.4 155.6 562.7 150.4 555.9 145.6 549.2 141 542.5 136.7 535.9 132.7 529.3 129 522.7 125.6 516.2 122.6 509.8 119.8 503.4 117.4 497.1 115.3 490.9 113.5 484.8 112.1 478.9 111M637 219.8 630.7 212.2 624.2 204.7 617.7 197.5 611.2 190.6 604.6 183.9 597.9 177.5 591.2 171.3 584.5 165.3 577.8 159.7 571.1 154.3 564.3 149.1 557.6 144.3 550.9 139.7 544.2 135.5 537.5 131.5 530.9 127.8 524.4 124.4 517.9 121.4 511.4 118.6 505.1 116.2 498.8 114.1 492.6 112.4 486.5 111 480.5 109.9M638.6 218.4 632.2 210.8 625.8 203.4 619.3 196.2 612.7 189.2 606.1 182.5 599.5 176.1 592.8 169.9 586.1 164 579.4 158.3 572.7 153 566 147.8 559.2 143 552.5 138.5 545.9 134.2 539.2 130.2 532.6 126.6 526 123.2 519.5 120.2 513.1 117.4 506.7 115.1 500.4 113 494.2 111.3 488.1 109.9 482.1 108.9M640.1 217.1 633.7 209.4 627.3 202 620.8 194.8 614.3 187.9 607.7 181.2 601.1 174.8 594.4 168.6 587.7 162.7 581 157 574.3 151.7 567.6 146.6 560.9 141.7 554.2 137.2 547.5 133 540.8 129 534.2 125.4 527.7 122 521.2 119 514.7 116.3 508.3 113.9 502 111.9 495.8 110.1 489.7 108.8 483.7 107.8M641.6 215.7 635.2 208 628.9 200.6 622.4 193.4 615.9 186.5 609.3 179.8 602.7 173.4 596 167.3 589.4 161.4 582.7 155.7 575.9 150.4 569.2 145.3 562.5 140.5 555.8 135.9 549.1 131.7 542.5 127.8 535.9 124.1 529.3 120.8 522.8 117.8 516.3 115.1 510 112.8 503.7 110.7 497.4 109 491.3 107.7 485.3 106.7M643 214.3 636.8 206.7 630.4 199.2 623.9 192.1 617.4 185.2 610.9 178.5 604.3 172.1 597.6 165.9 591 160 584.3 154.4 577.6 149.1 570.8 144 564.1 139.2 557.4 134.7 550.8 130.5 544.1 126.5 537.5 122.9 530.9 119.6 524.4 116.6 518 114 511.6 111.6 505.3 109.6 499.1 107.9 492.9 106.6 486.9 105.6M644.5 212.9 638.3 205.3 631.9 197.9 625.5 190.7 619 183.8 612.4 177.1 605.8 170.7 599.2 164.6 592.5 158.7 585.9 153.1 579.2 147.8 572.5 142.7 565.8 137.9 559.1 133.4 552.4 129.2 545.7 125.3 539.1 121.7 532.6 118.4 526 115.4 519.6 112.8 513.2 110.5 506.9 108.5 500.7 106.8 494.5 105.5 488.5 104.6M646 211.6 639.8 203.9 633.4 196.5 627 189.4 620.5 182.5 614 175.8 607.4 169.4 600.8 163.3 594.1 157.4 587.5 151.8 580.8 146.5 574.1 141.4 567.4 136.6 560.7 132.2 554 128 547.4 124.1 540.8 120.5 534.2 117.2 527.7 114.3 521.2 111.6 514.8 109.3 508.5 107.4 502.3 105.7 496.1 104.4 490.1 103.5M647.5 210.2 641.2 202.6 634.9 195.2 628.5 188 622.1 181.1 615.5 174.5 609 168.1 602.4 162 595.7 156.1 589 150.5 582.4 145.2 575.7 140.1 569 135.4 562.3 130.9 555.6 126.7 549 122.9 542.4 119.3 535.8 116 529.3 113.1 522.8 110.5 516.4 108.2 510.1 106.2 503.8 104.6 497.7 103.4 491.6 102.5M649 208.8 642.7 201.2 636.4 193.8 630 186.7 623.6 179.8 617.1 173.1 610.5 166.8 603.9 160.6 597.3 154.8 590.6 149.2 583.9 143.9 577.3 138.9 570.6 134.1 563.9 129.7 557.2 125.5 550.6 121.7 544 118.1 537.4 114.9 530.9 111.9 524.4 109.3 518 107.1 511.7 105.1 505.4 103.5 499.3 102.3 493.2 101.4M650.4 207.5 644.2 199.8 637.9 192.5 631.5 185.3 625.1 178.4 618.6 171.8 612.1 165.4 605.5 159.3 598.8 153.5 592.2 147.9 585.5 142.6 578.8 137.6 572.2 132.9 565.5 128.4 558.8 124.3 552.2 120.4 545.6 116.9 539 113.7 532.5 110.8 526 108.2 519.6 105.9 513.3 104 507 102.4 500.8 101.2 494.8 100.3M651.9 206.1 645.7 198.5 639.4 191.1 633 184 626.6 177.1 620.1 170.5 613.6 164.1 607 158 600.4 152.2 593.8 146.6 587.1 141.3 580.4 136.3 573.7 131.6 567.1 127.2 560.4 123.1 553.8 119.2 547.2 115.7 540.6 112.5 534.1 109.6 527.6 107 521.2 104.8 514.8 102.9 508.6 101.3 502.4 100.1 496.3 99.3M653.3 204.8 647.1 197.1 640.9 189.8 634.5 182.6 628.1 175.8 621.7 169.1 615.1 162.8 608.6 156.7 602 150.9 595.3 145.3 588.7 140.1 582 135.1 575.3 130.4 568.7 125.9 562 121.8 555.4 118 548.7 114.5 542.2 111.3 535.6 108.4 529.2 105.9 522.8 103.7 516.4 101.8 510.1 100.3 504 99.1 497.9 98.2M654.8 203.4 648.6 195.8 642.4 188.4 636 181.3 629.6 174.4 623.2 167.8 616.7 161.5 610.1 155.4 603.5 149.6 596.9 144 590.2 138.8 583.6 133.8 576.9 129.1 570.2 124.7 563.6 120.6 556.9 116.8 550.3 113.3 543.8 110.1 537.2 107.3 530.7 104.7 524.3 102.5 518 100.7 511.7 99.2 505.5 98 499.4 97.2M656.2 202.1 650 194.5 643.8 187.1 637.5 180 631.1 173.1 624.7 166.5 618.2 160.2 611.6 154.1 605 148.3 598.4 142.8 591.8 137.5 585.1 132.5 578.5 127.9 571.8 123.5 565.1 119.4 558.5 115.6 551.9 112.1 545.3 109 538.8 106.1 532.3 103.6 525.9 101.4 519.5 99.6 513.2 98.1 507.1 96.9 500.9 96.2M657.6 200.7 651.5 193.1 645.3 185.7 639 178.6 632.6 171.8 626.2 165.2 619.7 158.9 613.2 152.8 606.6 147 600 141.5 593.3 136.2 586.7 131.3 580 126.6 573.4 122.2 566.7 118.2 560.1 114.4 553.5 110.9 546.9 107.8 540.4 105 533.9 102.5 527.4 100.3 521.1 98.5 514.8 97 508.6 95.9 502.5 95.1M659 199.4 652.9 191.8 646.7 184.4 640.4 177.3 634.1 170.5 627.7 163.9 621.2 157.6 614.7 151.5 608.1 145.7 601.5 140.2 594.9 135 588.2 130 581.6 125.4 574.9 121 568.3 117 561.6 113.2 555 109.8 548.4 106.6 541.9 103.8 535.4 101.3 529 99.2 522.6 97.4 516.3 95.9 510.1 94.8 504 94.1M660.5 198 654.4 190.4 648.2 183.1 641.9 176 635.6 169.2 629.2 162.6 622.7 156.3 616.2 150.2 609.6 144.4 603 138.9 596.4 133.7 589.8 128.8 583.1 124.1 576.5 119.8 569.8 115.8 563.2 112 556.6 108.6 550 105.5 543.5 102.7 537 100.2 530.5 98.1 524.2 96.3 517.9 94.9 511.6 93.8 505.5 93M661.9 196.7 655.8 189.1 649.6 181.8 643.4 174.7 637 167.8 630.6 161.3 624.2 155 617.7 148.9 611.1 143.2 604.5 137.7 597.9 132.5 591.3 127.5 584.6 122.9 578 118.6 571.4 114.5 564.7 110.8 558.1 107.4 551.5 104.3 545 101.5 538.5 99.1 532.1 97 525.7 95.2 519.4 93.8 513.1 92.7 507 92M663.3 195.4 657.2 187.8 651.1 180.4 644.8 173.4 638.5 166.5 632.1 160 625.7 153.7 619.2 147.6 612.6 141.9 606.1 136.4 599.4 131.2 592.8 126.3 586.2 121.7 579.5 117.4 572.9 113.3 566.3 109.6 559.7 106.2 553.1 103.1 546.5 100.4 540 98 533.6 95.9 527.2 94.1 520.9 92.7 514.7 91.7 508.5 91M664.7 194.1 658.6 186.5 652.5 179.1 646.3 172 640 165.2 633.6 158.7 627.2 152.4 620.7 146.4 614.1 140.6 607.6 135.1 601 130 594.3 125.1 587.7 120.5 581.1 116.1 574.4 112.1 567.8 108.4 561.2 105.1 554.6 102 548.1 99.2 541.6 96.8 535.1 94.8 528.7 93 522.4 91.6 516.2 90.6 510 89.9M666 192.7 660 185.1 653.9 177.8 647.7 170.7 641.4 163.9 635 157.4 628.6 151.1 622.1 145.1 615.6 139.3 609.1 133.9 602.5 128.7 595.8 123.8 589.2 119.2 582.6 114.9 575.9 110.9 569.3 107.3 562.7 103.9 556.1 100.8 549.6 98.1 543.1 95.7 536.6 93.7 530.2 91.9 523.9 90.6 517.6 89.6 511.5 88.9M667.4 191.4 661.4 183.8 655.3 176.5 649.1 169.4 642.8 162.6 636.5 156.1 630.1 149.8 623.6 143.8 617.1 138.1 610.6 132.6 604 127.5 597.4 122.6 590.7 118 584.1 113.7 577.5 109.7 570.8 106.1 564.2 102.7 557.6 99.7 551.1 97 544.6 94.6 538.1 92.6 531.7 90.9 525.4 89.5 519.1 88.5 513 87.9M668.8 190.1 662.8 182.5 656.7 175.2 650.5 168.1 644.3 161.3 637.9 154.8 631.5 148.5 625.1 142.5 618.6 136.8 612 131.4 605.5 126.2 598.9 121.4 592.2 116.8 585.6 112.5 579 108.6 572.3 104.9 565.7 101.6 559.2 98.5 552.6 95.9 546.1 93.5 539.6 91.5 533.2 89.8 526.9 88.5 520.6 87.5 514.4 86.9M531.2 311.8 537.8 306.3 544.3 300.8 550.8 295.4 557.1 290 563.4 284.7 569.6 279.4 575.8 274.1 581.9 268.9 587.9 263.7 593.8 258.5 599.7 253.3 605.5 248.2 611.2 243.2 616.8 238.2 622.4 233.2 627.8 228.2 633.2 223.3 638.6 218.4 643.8 213.6 649 208.8 654 204.1 659 199.4 664 194.7 668.8 190.1M529.1 309.4 535.7 304 542.2 298.5 548.7 293.1 555.1 287.8 561.4 282.4 567.6 277.1 573.8 271.8 579.9 266.6 585.9 261.4 591.9 256.2 597.7 251.1 603.5 246 609.3 240.9 614.9 235.9 620.5 230.9 626 226 631.4 221.1 636.7 216.2 642 211.4 647.2 206.6 652.3 201.9 657.3 197.2 662.2 192.5 667.1 187.9M527 307.2 533.6 301.7 540.1 296.3 546.6 290.9 553 285.5 559.3 280.2 565.6 274.9 571.8 269.6 577.9 264.4 583.9 259.2 589.9 254 595.8 248.9 601.6 243.8 607.4 238.7 613 233.7 618.6 228.7 624.1 223.8 629.6 218.9 634.9 214 640.2 209.2 645.4 204.4 650.5 199.7 655.6 195 660.5 190.4 665.4 185.7M524.9 304.9 531.5 299.4 538 294 544.5 288.6 550.9 283.2 557.3 277.9 563.6 272.6 569.8 267.4 575.9 262.1 582 256.9 588 251.8 593.9 246.7 599.7 241.6 605.5 236.5 611.2 231.5 616.8 226.5 622.3 221.6 627.7 216.7 633.1 211.9 638.4 207 643.6 202.3 648.8 197.5 653.8 192.8 658.8 188.2 663.7 183.6M522.7 302.6 529.4 297.2 535.9 291.8 542.5 286.4 548.9 281 555.3 275.7 561.5 270.4 567.8 265.1 573.9 259.9 580 254.7 586 249.6 591.9 244.5 597.8 239.4 603.6 234.3 609.3 229.3 614.9 224.4 620.4 219.4 625.9 214.6 631.3 209.7 636.6 204.9 641.8 200.1 647 195.4 652 190.7 657 186.1 661.9 181.5M520.6 300.4 527.3 294.9 533.9 289.5 540.4 284.2 546.8 278.8 553.2 273.5 559.5 268.2 565.8 263 571.9 257.7 578 252.6 584 247.4 590 242.3 595.9 237.2 601.6 232.2 607.4 227.2 613 222.2 618.6 217.3 624.1 212.4 629.5 207.6 634.8 202.8 640 198 645.2 193.3 650.3 188.6 655.3 183.9 660.2 179.3M518.5 298.2 525.2 292.7 531.8 287.3 538.3 281.9 544.8 276.6 551.2 271.3 557.5 266 563.7 260.8 569.9 255.6 576 250.4 582.1 245.2 588 240.1 593.9 235.1 599.7 230 605.5 225 611.1 220.1 616.7 215.2 622.2 210.3 627.6 205.5 633 200.7 638.2 195.9 643.4 191.2 648.5 186.5 653.5 181.9 658.5 177.3M516.3 295.9 523 290.5 529.7 285.1 536.2 279.8 542.7 274.4 549.1 269.1 555.5 263.8 561.7 258.6 567.9 253.4 574.1 248.2 580.1 243.1 586.1 238 592 232.9 597.8 227.9 603.6 222.9 609.2 218 614.8 213.1 620.3 208.2 625.8 203.4 631.1 198.6 636.4 193.8 641.6 189.1 646.7 184.4 651.8 179.8 656.7 175.2M514.2 293.8 520.9 288.3 527.6 282.9 534.1 277.6 540.6 272.3 547.1 267 553.4 261.7 559.7 256.5 565.9 251.3 572.1 246.1 578.1 241 584.1 235.9 590 230.8 595.9 225.8 601.7 220.8 607.3 215.9 612.9 211 618.5 206.1 623.9 201.3 629.3 196.5 634.6 191.7 639.8 187 644.9 182.4 650 177.7 655 173.1M512.1 291.6 518.8 286.2 525.5 280.8 532.1 275.4 538.6 270.1 545 264.8 551.4 259.6 557.7 254.3 563.9 249.1 570.1 244 576.2 238.9 582.2 233.8 588.1 228.7 594 223.7 599.7 218.7 605.4 213.8 611.1 208.9 616.6 204 622.1 199.2 627.5 194.4 632.8 189.7 638 185 643.2 180.3 648.2 175.7 653.2 171.1M510 289.4 516.7 284 523.4 278.6 530 273.3 536.5 268 543 262.7 549.4 257.4 555.7 252.2 561.9 247 568.1 241.9 574.2 236.8 580.2 231.7 586.2 226.7 592 221.7 597.8 216.7 603.5 211.8 609.2 206.9 614.7 202 620.2 197.2 625.6 192.4 630.9 187.7 636.2 183 641.4 178.3 646.4 173.7 651.4 169.1M507.8 287.3 514.6 281.9 521.3 276.5 527.9 271.2 534.4 265.9 540.9 260.6 547.3 255.3 553.6 250.1 559.9 245 566.1 239.8 572.2 234.7 578.2 229.6 584.2 224.6 590.1 219.6 595.9 214.6 601.6 209.7 607.3 204.8 612.9 200 618.4 195.2 623.8 190.4 629.1 185.7 634.4 181 639.5 176.3 644.6 171.7 649.7 167.1M505.7 285.1 512.5 279.7 519.2 274.4 525.8 269 532.4 263.7 538.9 258.5 545.3 253.3 551.6 248.1 557.9 242.9 564.1 237.8 570.2 232.7 576.3 227.6 582.3 222.6 588.2 217.6 594 212.6 599.7 207.7 605.4 202.8 611 198 616.5 193.2 621.9 188.4 627.3 183.7 632.5 179 637.7 174.3 642.8 169.7 647.9 165.2M503.6 283 510.4 277.6 517.1 272.3 523.7 267 530.3 261.7 536.8 256.4 543.2 251.2 549.6 246 555.9 240.8 562.1 235.7 568.2 230.6 574.3 225.6 580.3 220.5 586.2 215.6 592.1 210.6 597.8 205.7 603.5 200.8 609.1 196 614.6 191.2 620.1 186.4 625.4 181.7 630.7 177 635.9 172.4 641 167.8 646.1 163.2M501.5 280.9 508.3 275.5 515 270.2 521.6 264.9 528.2 259.6 534.8 254.4 541.2 249.1 547.6 243.9 553.9 238.8 560.1 233.7 566.3 228.6 572.3 223.6 578.3 218.5 584.3 213.6 590.1 208.6 595.9 203.7 601.6 198.9 607.2 194 612.7 189.2 618.2 184.5 623.6 179.8 628.9 175.1 634.1 170.5 639.2 165.9 644.3 161.3M499.3 278.8 506.2 273.5 512.9 268.1 519.6 262.8 526.2 257.5 532.7 252.3 539.2 247.1 545.5 241.9 551.9 236.8 558.1 231.7 564.3 226.6 570.4 221.6 576.4 216.6 582.3 211.6 588.2 206.7 594 201.8 599.7 196.9 605.3 192.1 610.9 187.3 616.3 182.6 621.7 177.8 627 173.2 632.3 168.6 637.4 164 642.5 159.4M497.2 276.7 504 271.4 510.8 266.1 517.5 260.8 524.1 255.5 530.6 250.3 537.1 245.1 543.5 239.9 549.8 234.8 556.1 229.7 562.3 224.6 568.4 219.6 574.4 214.6 580.4 209.6 586.3 204.7 592.1 199.8 597.8 195 603.4 190.2 609 185.4 614.5 180.6 619.9 175.9 625.2 171.3 630.4 166.7 635.6 162.1 640.7 157.6M495.1 274.7 501.9 269.4 508.7 264 515.4 258.8 522 253.5 528.6 248.3 535.1 243.1 541.5 237.9 547.8 232.8 554.1 227.7 560.3 222.7 566.4 217.6 572.5 212.6 578.4 207.7 584.3 202.8 590.1 197.9 595.9 193.1 601.5 188.3 607.1 183.5 612.6 178.8 618 174.1 623.3 169.4 628.6 164.8 633.8 160.2 638.9 155.7M493 272.7 499.8 267.3 506.6 262 513.3 256.7 520 251.5 526.5 246.3 533 241.1 539.5 236 545.8 230.8 552.1 225.8 558.3 220.7 564.4 215.7 570.5 210.7 576.5 205.8 582.4 200.9 588.2 196 593.9 191.2 599.6 186.4 605.2 181.6 610.7 176.9 616.1 172.2 621.5 167.6 626.8 163 631.9 158.4 637 153.9M490.9 270.6 497.7 265.3 504.5 260 511.3 254.8 517.9 249.5 524.5 244.3 531 239.1 537.4 234 543.8 228.9 550.1 223.8 556.3 218.8 562.5 213.8 568.5 208.8 574.5 203.9 580.4 199 586.3 194.1 592 189.3 597.7 184.5 603.3 179.8 608.8 175 614.3 170.4 619.6 165.7 624.9 161.1 630.1 156.6 635.2 152.1M488.8 268.6 495.6 263.3 502.4 258 509.2 252.8 515.8 247.6 522.4 242.4 529 237.2 535.4 232.1 541.8 227 548.1 221.9 554.3 216.9 560.5 211.9 566.6 206.9 572.6 202 578.5 197.1 584.3 192.3 590.1 187.4 595.8 182.7 601.4 177.9 606.9 173.2 612.4 168.5 617.8 163.9 623.1 159.3 628.3 154.8 633.4 150.3M486.7 266.6 493.5 261.3 500.4 256.1 507.1 250.8 513.8 245.6 520.4 240.4 526.9 235.3 533.4 230.2 539.8 225.1 546.1 220 552.3 215 558.5 210 564.6 205.1 570.6 200.1 576.5 195.3 582.4 190.4 588.2 185.6 593.9 180.8 599.5 176.1 605.1 171.4 610.5 166.8 615.9 162.1 621.2 157.6 626.4 153 631.5 148.5M484.6 264.7 491.4 259.4 498.3 254.1 505 248.9 511.7 243.7 518.3 238.5 524.9 233.4 531.4 228.3 537.8 223.2 544.1 218.1 550.3 213.1 556.5 208.2 562.6 203.2 568.6 198.3 574.6 193.4 580.5 188.6 586.3 183.8 592 179 597.6 174.3 603.2 169.6 608.6 165 614 160.4 619.3 155.8 624.6 151.3 629.7 146.8M482.4 262.7 489.4 257.4 496.2 252.2 503 247 509.7 241.8 516.3 236.6 522.8 231.5 529.3 226.4 535.7 221.3 542.1 216.3 548.3 211.3 554.5 206.3 560.7 201.4 566.7 196.5 572.6 191.6 578.5 186.8 584.3 182 590.1 177.3 595.7 172.5 601.3 167.9 606.7 163.2 612.2 158.6 617.5 154.1 622.7 149.5 627.9 145.1M480.3 260.8 487.3 255.5 494.1 250.3 500.9 245.1 507.6 239.9 514.2 234.7 520.8 229.6 527.3 224.5 533.7 219.5 540.1 214.4 546.4 209.5 552.6 204.5 558.7 199.6 564.7 194.7 570.7 189.8 576.6 185 582.4 180.2 588.1 175.5 593.8 170.8 599.4 166.1 604.9 161.5 610.3 156.9 615.6 152.3 620.9 147.8 626 143.4M478.3 258.9 485.2 253.6 492 248.4 498.8 243.2 505.6 238 512.2 232.9 518.8 227.8 525.3 222.7 531.7 217.6 538.1 212.6 544.4 207.6 550.6 202.7 556.7 197.8 562.8 192.9 568.7 188.1 574.6 183.3 580.5 178.5 586.2 173.8 591.9 169.1 597.5 164.4 603 159.8 608.4 155.2 613.7 150.7 619 146.2 624.2 141.7M476.2 257 483.1 251.7 490 246.5 496.8 241.3 503.5 236.2 510.2 231 516.8 225.9 523.3 220.9 529.7 215.8 536.1 210.8 542.4 205.9 548.6 200.9 554.7 196 560.8 191.2 566.8 186.3 572.7 181.5 578.5 176.8 584.3 172 590 167.4 595.6 162.7 601.1 158.1 606.5 153.5 611.9 149 617.1 144.5 622.3 140M474.1 255.1 481 249.8 487.9 244.6 494.7 239.5 501.5 234.3 508.1 229.2 514.7 224.1 521.2 219.1 527.7 214 534.1 209 540.4 204.1 546.6 199.2 552.8 194.3 558.8 189.4 564.8 184.6 570.8 179.8 576.6 175.1 582.4 170.3 588.1 165.7 593.7 161 599.2 156.4 604.6 151.9 610 147.3 615.3 142.9 620.4 138.4M472 253.2 478.9 248 485.8 242.8 492.7 237.6 499.4 232.5 506.1 227.4 512.7 222.3 519.2 217.3 525.7 212.3 532.1 207.3 538.4 202.3 544.6 197.4 550.8 192.5 556.9 187.7 562.9 182.9 568.8 178.1 574.7 173.4 580.4 168.7 586.1 164 591.7 159.4 597.3 154.8 602.7 150.2 608.1 145.7 613.4 141.2 618.6 136.8M469.9 251.4 476.9 246.2 483.8 241 490.6 235.8 497.4 230.7 504.1 225.6 510.7 220.5 517.2 215.5 523.7 210.5 530.1 205.5 536.4 200.6 542.7 195.7 548.8 190.8 554.9 186 560.9 181.2 566.9 176.4 572.7 171.7 578.5 167 584.2 162.4 589.8 157.7 595.4 153.2 600.8 148.6 606.2 144.1 611.5 139.7 616.7 135.2M467.8 249.5 474.8 244.3 481.7 239.2 488.6 234 495.3 228.9 502 223.8 508.6 218.8 515.2 213.8 521.7 208.8 528.1 203.8 534.4 198.9 540.7 194 546.9 189.1 553 184.3 559 179.5 564.9 174.8 570.8 170.1 576.6 165.4 582.3 160.7 587.9 156.1 593.5 151.6 598.9 147 604.3 142.5 609.6 138.1 614.8 133.7M465.8 247.7 472.7 242.5 479.7 237.4 486.5 232.2 493.3 227.2 500 222.1 506.6 217 513.2 212 519.7 207.1 526.1 202.1 532.4 197.2 538.7 192.3 544.9 187.5 551 182.7 557 177.9 563 173.1 568.9 168.4 574.7 163.8 580.4 159.1 586 154.5 591.6 150 597 145.5 602.4 141 607.7 136.5 613 132.1M463.7 245.9 470.7 240.8 477.6 235.6 484.5 230.5 491.3 225.4 498 220.3 504.6 215.3 511.2 210.3 517.7 205.4 524.1 200.4 530.5 195.5 536.7 190.7 542.9 185.8 549 181 555.1 176.3 561 171.5 566.9 166.8 572.7 162.2 578.5 157.6 584.1 153 589.7 148.4 595.1 143.9 600.5 139.4 605.9 135 611.1 130.6M461.6 244.1 468.6 239 475.6 233.9 482.4 228.8 489.2 223.7 495.9 218.6 502.6 213.6 509.2 208.6 515.7 203.7 522.1 198.8 528.5 193.9 534.7 189 541 184.2 547.1 179.4 553.1 174.7 559.1 169.9 565 165.3 570.8 160.6 576.5 156 582.2 151.4 587.8 146.9 593.2 142.4 598.7 137.9 604 133.5 609.2 129.1M459.6 242.4 466.6 237.2 473.5 232.1 480.4 227 487.2 222 493.9 216.9 500.6 211.9 507.2 207 513.7 202 520.1 197.1 526.5 192.3 532.8 187.4 539 182.6 545.1 177.8 551.2 173.1 557.2 168.4 563.1 163.7 568.9 159.1 574.6 154.5 580.3 149.9 585.9 145.4 591.3 140.9 596.8 136.4 602.1 132 607.3 127.7M457.5 240.6 464.5 235.5 471.5 230.4 478.4 225.3 485.2 220.3 491.9 215.3 498.6 210.3 505.2 205.3 511.7 200.4 518.1 195.5 524.5 190.6 530.8 185.8 537 181 543.2 176.3 549.2 171.5 555.2 166.8 561.1 162.2 566.9 157.5 572.7 153 578.4 148.4 583.9 143.9 589.4 139.4 594.9 135 600.2 130.6 605.5 126.2M455.5 238.9 462.5 233.8 469.5 228.7 476.3 223.7 483.2 218.6 489.9 213.6 496.6 208.6 503.2 203.7 509.7 198.8 516.2 193.9 522.5 189.1 528.8 184.2 535.1 179.5 541.2 174.7 547.3 170 553.3 165.3 559.2 160.7 565 156 570.8 151.5 576.4 146.9 582 142.4 587.5 138 593 133.5 598.3 129.2 603.6 124.8M453.4 237.2 460.5 232.1 467.4 227 474.3 222 481.1 217 487.9 212 494.6 207 501.2 202.1 507.7 197.2 514.2 192.3 520.6 187.5 526.9 182.7 533.1 177.9 539.3 173.2 545.3 168.5 551.3 163.8 557.3 159.2 563.1 154.6 568.8 150 574.5 145.5 580.1 141 585.6 136.5 591.1 132.1 596.4 127.7 601.7 123.4M451.4 235.5 458.4 230.4 465.4 225.4 472.3 220.4 479.1 215.3 485.9 210.4 492.6 205.4 499.2 200.5 505.7 195.6 512.2 190.8 518.6 185.9 524.9 181.1 531.1 176.4 537.3 171.7 543.4 167 549.4 162.3 555.3 157.7 561.2 153.1 566.9 148.6 572.6 144 578.2 139.6 583.7 135.1 589.2 130.7 594.5 126.4 599.8 122M449.4 233.9 456.4 228.8 463.4 223.7 470.3 218.7 477.1 213.7 483.9 208.8 490.6 203.8 497.2 198.9 503.8 194.1 510.2 189.2 516.6 184.4 522.9 179.6 529.2 174.9 535.4 170.2 541.4 165.5 547.5 160.9 553.4 156.2 559.2 151.7 565 147.1 570.7 142.6 576.3 138.2 581.8 133.7 587.3 129.4 592.6 125 597.9 120.7M447.3 232.2 454.4 227.2 461.4 222.1 468.3 217.1 475.1 212.1 481.9 207.2 488.6 202.3 495.2 197.4 501.8 192.5 508.3 187.7 514.7 182.9 521 178.1 527.2 173.4 533.4 168.7 539.5 164.1 545.5 159.4 551.5 154.8 557.3 150.3 563.1 145.7 568.8 141.3 574.4 136.8 579.9 132.4 585.4 128 590.7 123.7 596 119.4M445.3 230.6 452.4 225.6 459.4 220.5 466.3 215.5 473.1 210.6 479.9 205.6 486.6 200.7 493.3 195.9 499.8 191 506.3 186.2 512.7 181.4 519 176.7 525.3 172 531.5 167.3 537.6 162.6 543.6 158 549.5 153.4 555.4 148.9 561.2 144.4 566.9 139.9 572.5 135.5 578 131 583.5 126.7 588.8 122.4 594.1 118.1M443.3 229 450.4 224 457.4 219 464.3 214 471.2 209 477.9 204.1 484.6 199.2 491.3 194.4 497.8 189.5 504.3 184.7 510.7 180 517.1 175.2 523.3 170.5 529.5 165.9 535.6 161.2 541.6 156.6 547.6 152 553.5 147.5 559.2 143 564.9 138.6 570.6 134.1 576.1 129.7 581.6 125.4 586.9 121.1 592.2 116.8M441.3 227.4 448.4 222.4 455.4 217.4 462.3 212.4 469.2 207.5 476 202.6 482.7 197.7 489.3 192.9 495.9 188.1 502.4 183.3 508.8 178.5 515.1 173.8 521.4 169.1 527.6 164.5 533.7 159.8 539.7 155.2 545.7 150.7 551.5 146.2 557.3 141.7 563 137.2 568.7 132.8 574.2 128.4 579.7 124.1 585 119.8 590.3 115.5M439.3 225.8 446.4 220.8 453.4 215.9 460.3 210.9 467.2 206 474 201.1 480.7 196.2 487.4 191.4 493.9 186.6 500.4 181.8 506.8 177.1 513.2 172.4 519.5 167.7 525.6 163.1 531.8 158.5 537.8 153.9 543.7 149.4 549.6 144.8 555.4 140.4 561.1 135.9 566.8 131.5 572.3 127.2 577.8 122.9 583.1 118.6 588.4 114.3M437.3 224.3 444.4 219.3 451.4 214.3 458.4 209.4 465.2 204.5 472 199.6 478.7 194.8 485.4 190 492 185.2 498.5 180.4 504.9 175.7 511.2 171 517.5 166.4 523.7 161.7 529.8 157.1 535.9 152.6 541.8 148 547.7 143.6 553.5 139.1 559.2 134.7 564.8 130.3 570.4 125.9 575.9 121.6 581.2 117.4 586.5 113.1M435.4 222.8 442.4 217.8 449.5 212.8 456.4 207.9 463.3 203 470.1 198.2 476.8 193.4 483.4 188.6 490 183.8 496.5 179 503 174.3 509.3 169.7 515.6 165 521.8 160.4 527.9 155.8 533.9 151.3 539.9 146.8 545.8 142.3 551.6 137.8 557.3 133.4 562.9 129.1 568.5 124.7 574 120.4 579.3 116.2 584.7 111.9M433.4 221.3 440.5 216.3 447.5 211.4 454.4 206.5 461.3 201.6 468.1 196.8 474.8 191.9 481.5 187.2 488.1 182.4 494.6 177.7 501 173 507.4 168.3 513.7 163.7 519.9 159.1 526 154.5 532 150 538 145.5 543.9 141 549.7 136.6 555.4 132.2 561 127.9 566.6 123.5 572.1 119.2 577.4 115 582.8 110.8M431.4 219.8 438.5 214.8 445.5 209.9 452.5 205 459.4 200.2 466.2 195.3 472.9 190.5 479.6 185.8 486.1 181 492.7 176.3 499.1 171.6 505.4 167 511.7 162.4 517.9 157.8 524.1 153.3 530.1 148.7 536.1 144.3 542 139.8 547.8 135.4 553.5 131 559.1 126.7 564.7 122.4 570.2 118.1 575.6 113.9 580.9 109.7M429.5 218.3 436.6 213.4 443.6 208.5 450.5 203.6 457.4 198.8 464.2 194 471 189.2 477.6 184.4 484.2 179.7 490.7 175 497.2 170.3 503.5 165.7 509.8 161.1 516 156.5 522.1 152 528.2 147.5 534.2 143 540 138.6 545.9 134.2 551.6 129.8 557.2 125.5 562.8 121.2 568.3 117 573.7 112.7 579 108.6M427.5 216.9 434.6 211.9 441.6 207.1 448.6 202.2 455.5 197.4 462.3 192.6 469 187.8 475.7 183.1 482.3 178.4 488.8 173.7 495.2 169.1 501.6 164.4 507.9 159.9 514.1 155.3 520.2 150.8 526.3 146.3 532.3 141.8 538.1 137.4 544 133 549.7 128.7 555.3 124.4 560.9 120.1 566.4 115.9 571.8 111.7 577.1 107.5M425.6 215.4 432.7 210.5 439.7 205.7 446.7 200.8 453.5 196 460.4 191.3 467.1 186.5 473.8 181.8 480.4 177.1 486.9 172.4 493.3 167.8 499.7 163.2 506 158.6 512.2 154.1 518.3 149.6 524.4 145.1 530.3 140.7 536.2 136.3 542 131.9 547.8 127.6 553.4 123.3 559 119 564.5 114.8 569.9 110.6 575.2 106.4M423.6 214 430.7 209.1 437.8 204.3 444.7 199.5 451.6 194.7 458.4 189.9 465.2 185.2 471.9 180.5 478.5 175.8 485 171.2 491.4 166.6 497.8 162 504.1 157.4 510.3 152.9 516.4 148.4 522.5 144 528.4 139.5 534.3 135.1 540.2 130.8 545.9 126.5 551.5 122.2 557.1 117.9 562.6 113.7 568 109.5 573.3 105.4M421.7 212.6 428.8 207.8 435.9 203 442.8 198.2 449.7 193.4 456.5 188.6 463.3 183.9 469.9 179.2 476.5 174.6 483.1 169.9 489.5 165.3 495.9 160.8 502.2 156.2 508.4 151.7 514.5 147.3 520.6 142.8 526.5 138.4 532.4 134 538.3 129.7 544 125.4 549.6 121.1 555.2 116.9 560.7 112.7 566.1 108.5 571.4 104.4M419.8 211.3 426.9 206.4 433.9 201.6 440.9 196.8 447.8 192.1 454.6 187.4 461.4 182.7 468 178 474.6 173.3 481.2 168.7 487.6 164.1 494 159.6 500.3 155.1 506.5 150.6 512.6 146.1 518.7 141.7 524.7 137.3 530.5 133 536.4 128.6 542.1 124.3 547.7 120.1 553.3 115.9 558.8 111.7 564.2 107.5 569.5 103.4M417.9 209.9 425 205.1 432 200.3 439 195.6 445.9 190.8 452.7 186.1 459.5 181.4 466.1 176.8 472.7 172.1 479.3 167.5 485.7 163 492.1 158.4 498.4 153.9 504.6 149.5 510.7 145 516.8 140.6 522.8 136.2 528.7 131.9 534.5 127.6 540.2 123.3 545.9 119.1 551.4 114.9 556.9 110.7 562.3 106.6 567.6 102.5M416 208.6 423.1 203.8 430.2 199 437.1 194.3 444 189.6 450.8 184.9 457.6 180.2 464.3 175.6 470.9 171 477.4 166.4 483.8 161.8 490.2 157.3 496.5 152.8 502.7 148.4 508.8 143.9 514.9 139.5 520.9 135.2 526.8 130.9 532.6 126.6 538.3 122.3 544 118.1 549.5 113.9 555 109.8 560.4 105.6 565.7 101.6M414.1 207.3 421.2 202.5 428.3 197.8 435.2 193 442.1 188.3 449 183.7 455.7 179 462.4 174.4 469 169.8 475.5 165.2 482 160.7 488.3 156.2 494.6 151.7 500.8 147.3 507 142.9 513 138.5 519 134.2 524.9 129.9 530.7 125.6 536.4 121.3 542.1 117.1 547.7 113 553.1 108.8 558.5 104.7 563.9 100.7M412.2 206 419.4 201.3 426.4 196.5 433.4 191.8 440.3 187.1 447.1 182.5 453.8 177.8 460.5 173.2 467.1 168.7 473.6 164.1 480.1 159.6 486.4 155.1 492.7 150.7 499 146.2 505.1 141.9 511.1 137.5 517.1 133.2 523 128.9 528.8 124.6 534.6 120.4 540.2 116.2 545.8 112.1 551.3 107.9 556.7 103.8 562 99.8M410.4 204.8 417.5 200 424.5 195.3 431.5 190.6 438.4 185.9 445.2 181.3 452 176.7 458.6 172.1 465.2 167.5 471.8 163 478.2 158.5 484.6 154.1 490.9 149.6 497.1 145.2 503.2 140.8 509.3 136.5 515.3 132.2 521.1 127.9 527 123.7 532.7 119.5 538.3 115.3 543.9 111.2 549.4 107.1 554.8 103 560.1 99M408.5 203.6 415.6 198.8 422.7 194.1 429.6 189.4 436.5 184.8 443.4 180.2 450.1 175.6 456.8 171 463.4 166.5 469.9 162 476.4 157.5 482.7 153 489 148.6 495.2 144.2 501.4 139.9 507.4 135.5 513.4 131.2 519.3 127 525.1 122.8 530.8 118.6 536.5 114.4 542 110.3 547.5 106.2 552.9 102.2 558.2 98.1M406.7 202.3 413.8 197.6 420.8 192.9 427.8 188.3 434.7 183.7 441.5 179 448.3 174.5 454.9 169.9 461.5 165.4 468.1 160.9 474.5 156.4 480.9 152 487.2 147.6 493.4 143.2 499.5 138.9 505.6 134.6 511.5 130.3 517.4 126.1 523.2 121.9 529 117.7 534.6 113.6 540.2 109.5 545.6 105.4 551 101.4 556.3 97.4M404.8 201.2 411.9 196.5 419 191.8 426 187.2 432.8 182.5 439.7 178 446.4 173.4 453.1 168.9 459.7 164.4 466.2 159.9 472.7 155.4 479 151 485.3 146.6 491.5 142.3 497.7 138 503.7 133.7 509.7 129.4 515.6 125.2 521.4 121 527.1 116.9 532.7 112.7 538.3 108.6 543.8 104.6 549.2 100.6 554.5 96.6M403 200 410.1 195.3 417.2 190.7 424.1 186.1 431 181.5 437.8 176.9 444.6 172.3 451.3 167.8 457.9 163.3 464.4 158.9 470.8 154.5 477.2 150.1 483.5 145.7 489.7 141.4 495.8 137.1 501.9 132.8 507.8 128.6 513.7 124.3 519.5 120.2 525.2 116 530.9 111.9 536.4 107.9 541.9 103.8 547.3 99.8 552.6 95.9M401.2 198.9 408.3 194.2 415.3 189.6 422.3 185 429.2 180.4 436 175.8 442.8 171.3 449.4 166.8 456 162.4 462.5 157.9 469 153.5 475.4 149.1 481.6 144.8 487.8 140.5 494 136.2 500 131.9 506 127.7 511.9 123.5 517.7 119.4 523.4 115.2 529 111.2 534.6 107.1 540 103.1 545.4 99.1 550.7 95.1M399.4 197.7 406.5 193.1 413.5 188.5 420.5 183.9 427.4 179.3 434.2 174.8 441 170.3 447.6 165.8 454.2 161.4 460.7 157 467.2 152.6 473.5 148.2 479.8 143.9 486 139.6 492.1 135.3 498.2 131.1 504.1 126.9 510 122.7 515.8 118.6 521.5 114.5 527.2 110.4 532.7 106.4 538.2 102.4 543.6 98.4 548.9 94.5M397.6 196.6 404.7 192 411.7 187.4 418.7 182.9 425.6 178.3 432.4 173.8 439.1 169.3 445.8 164.9 452.4 160.4 458.9 156 465.4 151.7 471.7 147.3 478 143 484.2 138.7 490.3 134.5 496.4 130.3 502.3 126.1 508.2 121.9 514 117.8 519.7 113.7 525.3 109.7 530.9 105.7 536.3 101.7 541.7 97.7 547 93.8M395.8 195.6 402.9 191 410 186.4 416.9 181.9 423.8 177.3 430.6 172.8 437.4 168.4 444 163.9 450.6 159.5 457.1 155.1 463.5 150.8 469.9 146.5 476.2 142.2 482.4 137.9 488.5 133.7 494.5 129.5 500.5 125.3 506.4 121.2 512.2 117.1 517.9 113 523.5 109 529 105 534.5 101 539.9 97.1 545.2 93.2M394.1 194.5 401.2 189.9 408.2 185.4 415.1 180.9 422 176.4 428.8 171.9 435.6 167.4 442.2 163 448.8 158.6 455.3 154.3 461.8 149.9 468.1 145.6 474.4 141.4 480.6 137.1 486.7 132.9 492.7 128.7 498.7 124.6 504.5 120.5 510.3 116.4 516 112.3 521.7 108.3 527.2 104.3 532.7 100.4 538 96.5 543.3 92.6M392.3 193.5 399.4 188.9 406.4 184.4 413.4 179.9 420.3 175.4 427.1 171 433.8 166.5 440.5 162.1 447 157.8 453.5 153.4 460 149.1 466.3 144.8 472.6 140.6 478.8 136.4 484.9 132.2 490.9 128 496.9 123.9 502.7 119.8 508.5 115.7 514.2 111.7 519.8 107.7 525.4 103.7 530.8 99.8 536.2 95.9 541.5 92M390.6 192.5 397.7 188 404.7 183.5 411.6 179 418.5 174.5 425.3 170.1 432 165.7 438.7 161.3 445.3 156.9 451.8 152.6 458.2 148.3 464.5 144 470.8 139.8 477 135.6 483.1 131.4 489.1 127.3 495.1 123.2 500.9 119.1 506.7 115.1 512.4 111 518 107.1 523.5 103.1 529 99.2 534.4 95.3 539.6 91.5M388.8 191.5 395.9 187 402.9 182.5 409.9 178.1 416.8 173.6 423.6 169.2 430.3 164.8 436.9 160.4 443.5 156.1 450 151.8 456.4 147.5 462.8 143.3 469 139.1 475.2 134.9 481.3 130.7 487.3 126.6 493.3 122.5 499.1 118.5 504.9 114.4 510.6 110.4 516.2 106.5 521.7 102.5 527.2 98.6 532.5 94.8 537.8 91M387.1 190.6 394.2 186.1 401.2 181.6 408.2 177.2 415 172.7 421.8 168.3 428.5 164 435.2 159.6 441.8 155.3 448.2 151 454.7 146.8 461 142.6 467.2 138.4 473.4 134.2 479.5 130.1 485.5 126 491.5 121.9 497.3 117.8 503.1 113.8 508.8 109.9 514.4 105.9 519.9 102 525.3 98.1 530.7 94.3 536 90.5M385.4 189.7 392.5 185.2 399.5 180.7 406.4 176.3 413.3 171.9 420.1 167.5 426.8 163.2 433.4 158.9 440 154.6 446.5 150.3 452.9 146.1 459.2 141.9 465.5 137.7 471.7 133.5 477.7 129.4 483.8 125.3 489.7 121.3 495.5 117.3 501.3 113.3 507 109.3 512.6 105.4 518.1 101.5 523.5 97.6 528.9 93.8 534.1 90M383.7 188.8 390.8 184.3 397.8 179.9 404.7 175.5 411.6 171.1 418.4 166.7 425.1 162.4 431.7 158.1 438.3 153.8 444.8 149.6 451.2 145.4 457.5 141.2 463.7 137 469.9 132.9 476 128.8 482 124.7 487.9 120.7 493.8 116.7 499.5 112.7 505.2 108.8 510.8 104.9 516.3 101 521.7 97.2 527.1 93.4 532.3 89.6M382 187.9 389.1 183.4 396.1 179 403 174.6 409.9 170.3 416.7 165.9 423.4 161.6 430 157.4 436.6 153.1 443 148.9 449.4 144.7 455.8 140.5 462 136.4 468.2 132.3 474.2 128.2 480.2 124.2 486.1 120.1 492 116.2 497.7 112.2 503.4 108.3 509 104.4 514.5 100.5 519.9 96.7 525.2 92.9 530.5 89.2M380.4 187 387.4 182.6 394.4 178.2 401.4 173.9 408.2 169.5 415 165.2 421.7 160.9 428.3 156.7 434.9 152.4 441.3 148.2 447.7 144 454 139.9 460.3 135.8 466.4 131.7 472.5 127.6 478.5 123.6 484.4 119.6 490.2 115.7 496 111.7 501.6 107.8 507.2 103.9 512.7 100.1 518.1 96.3 523.4 92.5 528.7 88.8M378.7 186.2 385.8 181.8 392.8 177.4 399.7 173.1 406.5 168.8 413.3 164.5 420 160.2 426.6 156 433.2 151.8 439.6 147.6 446 143.4 452.3 139.3 458.5 135.2 464.7 131.1 470.8 127.1 476.7 123.1 482.6 119.1 488.5 115.2 494.2 111.3 499.9 107.4 505.4 103.5 510.9 99.7 516.3 95.9 521.6 92.2 526.9 88.5M377.1 185.4 384.1 181 391.1 176.7 398 172.4 404.9 168.1 411.6 163.8 418.3 159.5 424.9 155.3 431.5 151.1 437.9 147 444.3 142.8 450.6 138.7 456.8 134.7 463 130.6 469 126.6 475 122.6 480.9 118.6 486.7 114.7 492.4 110.8 498.1 107 503.7 103.1 509.1 99.3 514.5 95.6 519.9 91.8 525.1 88.1M375.5 184.6 382.5 180.3 389.5 175.9 396.4 171.6 403.2 167.4 410 163.1 416.7 158.9 423.3 154.7 429.8 150.5 436.2 146.4 442.6 142.3 448.9 138.2 455.1 134.1 461.3 130.1 467.3 126.1 473.3 122.1 479.2 118.2 485 114.3 490.7 110.4 496.3 106.6 501.9 102.8 507.4 99 512.8 95.3 518.1 91.5 523.3 87.9M373.8 183.9 380.9 179.5 387.9 175.2 394.8 171 401.6 166.7 408.3 162.5 415 158.3 421.6 154.1 428.1 150 434.6 145.8 440.9 141.7 447.2 137.7 453.4 133.6 459.6 129.6 465.6 125.7 471.6 121.7 477.4 117.8 483.2 113.9 489 110.1 494.6 106.2 500.1 102.4 505.6 98.7 511 95 516.3 91.3 521.5 87.6M372.2 183.2 379.3 178.8 386.3 174.6 393.1 170.3 400 166.1 406.7 161.9 413.4 157.7 420 153.5 426.5 149.4 432.9 145.3 439.3 141.2 445.5 137.2 451.7 133.2 457.9 129.2 463.9 125.2 469.9 121.3 475.7 117.4 481.5 113.5 487.2 109.7 492.9 105.9 498.4 102.1 503.9 98.4 509.2 94.7 514.5 91 519.7 87.4M370.7 182.5 377.7 178.2 384.7 173.9 391.5 169.7 398.4 165.5 405.1 161.3 411.7 157.1 418.3 153 424.8 148.9 431.3 144.8 437.6 140.7 443.9 136.7 450.1 132.7 456.2 128.8 462.2 124.8 468.2 120.9 474 117.1 479.8 113.2 485.5 109.4 491.1 105.6 496.7 101.9 502.1 98.1 507.5 94.5 512.8 90.8 517.9 87.2M369.1 181.8 376.1 177.5 383.1 173.3 390 169.1 396.8 164.9 403.5 160.7 410.1 156.6 416.7 152.5 423.2 148.4 429.6 144.3 436 140.3 442.2 136.3 448.4 132.3 454.5 128.4 460.5 124.5 466.5 120.6 472.3 116.7 478.1 112.9 483.8 109.1 489.4 105.3 494.9 101.6 500.4 97.9 505.7 94.3 511 90.6 516.2 87M367.5 181.1 374.6 176.9 381.5 172.7 388.4 168.5 395.2 164.3 401.9 160.2 408.5 156.1 415.1 152 421.6 147.9 428 143.9 434.3 139.9 440.6 135.9 446.8 131.9 452.9 128 458.9 124.1 464.8 120.3 470.6 116.4 476.4 112.6 482.1 108.9 487.7 105.1 493.2 101.4 498.6 97.7 504 94.1 509.2 90.5 514.4 86.9" stroke="#000" stroke-opacity="0.38" stroke-width="1.0" fill="none"/>
<polyline points="359.5,150.3 385.3,245.1" stroke="#222" stroke-width="1" fill="none"/>
<polyline points="657.2,232.5 684.1,135.5" stroke="#333" stroke-width="1" fill="none"/>
<polyline points="385.3,245.1 528.9,378.3 657.2,232.5" stroke="#333" stroke-width="0.8" fill="none"/>
<circle cx="380.0" cy="225.2" r="1.2" fill="#111"/>
<circle cx="374.8" cy="205.9" r="1.2" fill="#111"/>
<circle cx="369.6" cy="187.0" r="1.2" fill="#111"/>
<circle cx="364.5" cy="168.4" r="1.2" fill="#111"/>
<circle cx="359.5" cy="150.3" r="1.2" fill="#111"/>
<circle cx="499.5" cy="351.2" r="1.2" fill="#111"/>
<circle cx="470.4" cy="324.4" r="1.2" fill="#111"/>
<circle cx="441.7" cy="297.7" r="1.2" fill="#111"/>
<circle cx="413.3" cy="271.3" r="1.2" fill="#111"/>
<circle cx="561.6" cy="341.4" r="1.2" fill="#111"/>
<circle cx="593.9" cy="304.8" r="1.2" fill="#111"/>
<circle cx="625.8" cy="268.5" r="1.2" fill="#111"/>
<circle cx="367.4" cy="181.4" r="2.6" fill="#e07878" stroke="#904040" stroke-width="0.6"/>
<circle cx="530.1" cy="312.6" r="2.6" fill="#cc0000" stroke="#500" stroke-width="0.6"/>
<circle cx="604.7" cy="246.9" r="2.6" fill="#cc0000" stroke="#500" stroke-width="0.6"/>
<circle cx="521.8" cy="166.9" r="2.6" fill="#cc0000" stroke="#500" stroke-width="0.6"/>
<circle cx="445.9" cy="128.2" r="2.6" fill="#cc0000" stroke="#500" stroke-width="0.6"/>
<circle cx="590.9" cy="117.4" r="2.6" fill="#cc0000" stroke="#500" stroke-width="0.6"/>
<text x="355.2" y="147.5" font-family="'Liberation Sans', sans-serif" font-size="12" fill="#333" text-anchor="end" textLength="5.9" lengthAdjust="spacingAndGlyphs">6</text>
<text x="360.0" y="167.3" font-family="'Liberation Sans', sans-serif" font-size="12" fill="#333" text-anchor="end" textLength="14.7" lengthAdjust="spacingAndGlyphs">5.5</text>
<text x="363.9" y="184.9" font-family="'Liberation Sans', sans-serif" font-size="12" fill="#333" text-anchor="end" textLength="5.9" lengthAdjust="spacingAndGlyphs">5</text>
<text x="369.1" y="204.3" font-family="'Liberation Sans', sans-serif" font-size="12" fill="#333" text-anchor="end" textLength="14.7" lengthAdjust="spacingAndGlyphs">4.5</text>
<text x="374.1" y="222.1" font-family="'Liberation Sans', sans-serif" font-size="12" fill="#333" text-anchor="end" textLength="5.9" lengthAdjust="spacingAndGlyphs">4</text>
<text x="376.0" y="256.6" font-family="'Liberation Sans', sans-serif" font-size="12" fill="#333" text-anchor="middle" textLength="5.9" lengthAdjust="spacingAndGlyphs">2</text>
<text x="401.2" y="283.1" font-family="'Liberation Sans', sans-serif" font-size="12" fill="#333" text-anchor="middle" textLength="14.7" lengthAdjust="spacingAndGlyphs">1.8</text>
<text x="430.4" y="309.3" font-family="'Liberation Sans', sans-serif" font-size="12" fill="#333" text-anchor="middle" textLength="14.7" lengthAdjust="spacingAndGlyphs">1.6</text>
<text x="459.1" y="337.2" font-family="'Liberation Sans', sans-serif" font-size="12" fill="#333" text-anchor="middle" textLength="14.7" lengthAdjust="spacingAndGlyphs">1.4</text>
<text x="487.2" y="362.7" font-family="'Liberation Sans', sans-serif" font-size="12" fill="#333" text-anchor="middle" textLength="14.7" lengthAdjust="spacingAndGlyphs">1.2</text>
<text x="520.6" y="388.8" font-family="'Liberation Sans', sans-serif" font-size="12" fill="#333" text-anchor="middle" textLength="5.9" lengthAdjust="spacingAndGlyphs">1</text>
<text x="541.4" y="388.8" font-family="'Liberation Sans', sans-serif" font-size="12" fill="#333" text-anchor="middle" textLength="11.7" lengthAdjust="spacingAndGlyphs">10</text>
<text x="573.9" y="351.9" font-family="'Liberation Sans', sans-serif" font-size="12" fill="#333" text-anchor="middle" textLength="11.7" lengthAdjust="spacingAndGlyphs">15</text>
<text x="604.8" y="315.8" font-family="'Liberation Sans', sans-serif" font-size="12" fill="#333" text-anchor="middle" textLength="11.7" lengthAdjust="spacingAndGlyphs">20</text>
<text x="637.6" y="279.5" font-family="'Liberation Sans', sans-serif" font-size="12" fill="#333" text-anchor="middle" textLength="11.7" lengthAdjust="spacingAndGlyphs">25</text>
<text x="670.0" y="243.0" font-family="'Liberation Sans', sans-serif" font-size="12" fill="#333" text-anchor="middle" textLength="11.7" lengthAdjust="spacingAndGlyphs">30</text>
<text x="378.9" y="368" font-family="'Liberation Sans', sans-serif" font-size="14.5" fill="#222" stroke="#222" stroke-width="0.2" textLength="71" lengthAdjust="spacingAndGlyphs">B: PVA (%)</text>
<text x="609.5" y="357.3" font-family="'Liberation Sans', sans-serif" font-size="14.5" fill="#222" stroke="#222" stroke-width="0.2" textLength="63.5" lengthAdjust="spacingAndGlyphs">A: CR (%)</text>
<text transform="translate(328.6,200.7) rotate(-90)" font-family="'Liberation Sans', sans-serif" font-size="14.5" fill="#222" stroke="#222" stroke-width="0.2" text-anchor="middle" textLength="62.5" lengthAdjust="spacingAndGlyphs">FS (MPa)</text>
<text x="503.9" y="409.6" font-family="'Liberation Serif', serif" font-size="11.5" font-weight="bold" text-anchor="middle" fill="#111" textLength="17" lengthAdjust="spacing">(b)</text>
</svg>
</body></html>
